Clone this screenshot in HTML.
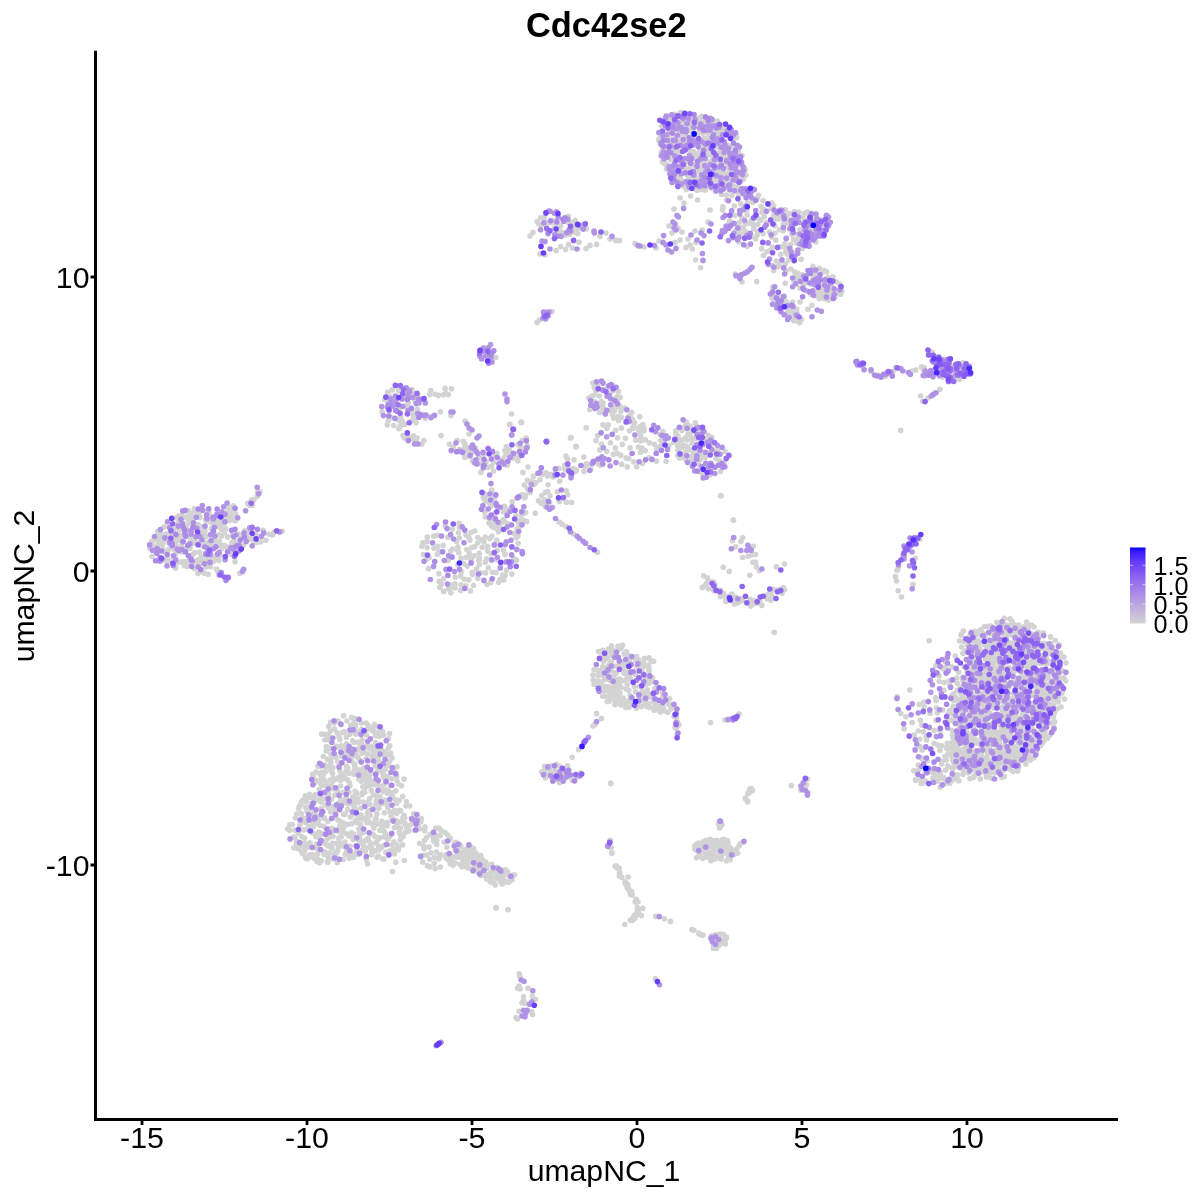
<!DOCTYPE html>
<html lang="en"><head><meta charset="utf-8"><title>Cdc42se2</title>
<style>
html,body{margin:0;padding:0;background:#fff;}
svg{display:block;}
text{font-family:"Liberation Sans",sans-serif;fill:#000;}
.ax{font-size:30.3px;}
.lg{font-size:25.2px;}
.at{font-size:30.2px;}
.ti{font-size:34.4px;font-weight:bold;}
</style></head><body>
<svg width="1200" height="1200" viewBox="0 0 1200 1200">
<rect width="1200" height="1200" fill="#fff"/>
<defs><linearGradient id="lg" x1="0" y1="1" x2="0" y2="0">
<stop offset="0" stop-color="#d3d3d3"/>
<stop offset="0.05" stop-color="#cfcad6"/>
<stop offset="0.1" stop-color="#cac0d9"/>
<stop offset="0.15" stop-color="#c6b7db"/>
<stop offset="0.2" stop-color="#c1aede"/>
<stop offset="0.25" stop-color="#bba5e0"/>
<stop offset="0.3" stop-color="#b69ce3"/>
<stop offset="0.35" stop-color="#b093e5"/>
<stop offset="0.4" stop-color="#aa89e7"/>
<stop offset="0.45" stop-color="#a480ea"/>
<stop offset="0.5" stop-color="#9d77ec"/>
<stop offset="0.55" stop-color="#966eee"/>
<stop offset="0.6" stop-color="#8e65f0"/>
<stop offset="0.65" stop-color="#855bf2"/>
<stop offset="0.7" stop-color="#7c51f4"/>
<stop offset="0.75" stop-color="#7248f6"/>
<stop offset="0.8" stop-color="#673df8"/>
<stop offset="0.85" stop-color="#5932fa"/>
<stop offset="0.9" stop-color="#4926fb"/>
<stop offset="0.95" stop-color="#3318fd"/>
<stop offset="1" stop-color="#0000ff"/>
</linearGradient></defs>
<g id="pts">
<g fill="#d3d3d3">
<circle cx="696.1" cy="177.8" r="2.8"/><circle cx="734.7" cy="134.6" r="2.8"/><circle cx="671.2" cy="120.8" r="2.8"/><circle cx="729.0" cy="167.5" r="2.8"/><circle cx="726.3" cy="157.4" r="2.8"/><circle cx="709.9" cy="148.0" r="2.8"/><circle cx="692.6" cy="165.1" r="2.8"/><circle cx="669.8" cy="131.3" r="2.8"/><circle cx="731.2" cy="180.7" r="2.8"/><circle cx="704.2" cy="161.0" r="2.8"/><circle cx="712.9" cy="123.3" r="2.8"/><circle cx="699.8" cy="150.2" r="2.8"/><circle cx="705.3" cy="189.9" r="2.8"/><circle cx="673.2" cy="173.4" r="2.8"/><circle cx="687.6" cy="129.3" r="2.8"/><circle cx="665.9" cy="164.4" r="2.8"/><circle cx="687.9" cy="175.7" r="2.8"/><circle cx="722.8" cy="125.0" r="2.8"/><circle cx="680.7" cy="134.9" r="2.8"/><circle cx="681.4" cy="145.0" r="2.8"/><circle cx="697.5" cy="126.1" r="2.8"/><circle cx="673.7" cy="149.4" r="2.8"/><circle cx="707.7" cy="174.3" r="2.8"/><circle cx="703.9" cy="167.0" r="2.8"/><circle cx="672.1" cy="168.9" r="2.8"/><circle cx="704.2" cy="138.6" r="2.8"/><circle cx="659.9" cy="138.0" r="2.8"/><circle cx="680.6" cy="112.6" r="2.8"/><circle cx="731.1" cy="146.1" r="2.8"/><circle cx="721.2" cy="162.4" r="2.8"/><circle cx="685.9" cy="140.0" r="2.8"/><circle cx="725.1" cy="164.2" r="2.8"/><circle cx="693.0" cy="137.6" r="2.8"/><circle cx="723.6" cy="176.6" r="2.8"/><circle cx="718.4" cy="134.7" r="2.8"/><circle cx="699.8" cy="120.9" r="2.8"/><circle cx="698.3" cy="132.9" r="2.8"/><circle cx="678.9" cy="183.5" r="2.8"/><circle cx="670.8" cy="139.0" r="2.8"/><circle cx="683.7" cy="186.5" r="2.8"/><circle cx="737.0" cy="176.6" r="2.8"/><circle cx="742.0" cy="155.5" r="2.8"/><circle cx="695.1" cy="153.5" r="2.8"/><circle cx="743.2" cy="179.5" r="2.8"/><circle cx="699.0" cy="155.7" r="2.8"/><circle cx="715.7" cy="135.8" r="2.8"/><circle cx="692.8" cy="129.3" r="2.8"/><circle cx="679.2" cy="131.2" r="2.8"/><circle cx="671.3" cy="143.0" r="2.8"/><circle cx="738.2" cy="182.3" r="2.8"/><circle cx="662.7" cy="149.4" r="2.8"/><circle cx="724.8" cy="183.5" r="2.8"/><circle cx="679.1" cy="149.5" r="2.8"/><circle cx="729.7" cy="170.7" r="2.8"/><circle cx="724.8" cy="179.4" r="2.8"/><circle cx="717.4" cy="121.1" r="2.8"/><circle cx="700.5" cy="177.1" r="2.8"/><circle cx="711.3" cy="161.1" r="2.8"/><circle cx="729.0" cy="155.4" r="2.8"/><circle cx="693.5" cy="155.5" r="2.8"/><circle cx="694.8" cy="134.1" r="2.8"/><circle cx="690.7" cy="127.2" r="2.8"/><circle cx="691.3" cy="151.9" r="2.8"/><circle cx="677.7" cy="143.5" r="2.8"/><circle cx="704.4" cy="142.2" r="2.8"/><circle cx="711.6" cy="155.5" r="2.8"/><circle cx="726.2" cy="174.0" r="2.8"/><circle cx="666.5" cy="146.9" r="2.8"/><circle cx="723.6" cy="173.8" r="2.8"/><circle cx="661.6" cy="126.0" r="2.8"/><circle cx="668.6" cy="154.0" r="2.8"/><circle cx="713.1" cy="146.1" r="2.8"/><circle cx="658.6" cy="139.9" r="2.8"/><circle cx="680.0" cy="123.4" r="2.8"/><circle cx="708.3" cy="139.5" r="2.8"/><circle cx="741.7" cy="170.3" r="2.8"/><circle cx="685.8" cy="135.5" r="2.8"/><circle cx="678.4" cy="119.8" r="2.8"/><circle cx="721.6" cy="132.7" r="2.8"/><circle cx="724.5" cy="187.2" r="2.8"/><circle cx="736.6" cy="137.7" r="2.8"/><circle cx="717.5" cy="190.0" r="2.8"/><circle cx="697.2" cy="169.6" r="2.8"/><circle cx="720.3" cy="170.5" r="2.8"/><circle cx="725.7" cy="127.8" r="2.8"/><circle cx="689.2" cy="168.0" r="2.8"/><circle cx="689.2" cy="178.2" r="2.8"/><circle cx="720.5" cy="151.4" r="2.8"/><circle cx="720.3" cy="174.6" r="2.8"/><circle cx="738.5" cy="151.6" r="2.8"/><circle cx="717.2" cy="170.9" r="2.8"/><circle cx="675.4" cy="135.6" r="2.8"/><circle cx="704.8" cy="124.3" r="2.8"/><circle cx="745.0" cy="169.9" r="2.8"/><circle cx="745.8" cy="175.2" r="2.8"/><circle cx="670.9" cy="159.8" r="2.8"/><circle cx="722.6" cy="182.0" r="2.8"/><circle cx="686.2" cy="161.8" r="2.8"/><circle cx="714.3" cy="131.4" r="2.8"/><circle cx="701.9" cy="189.6" r="2.8"/><circle cx="689.9" cy="115.9" r="2.8"/><circle cx="677.8" cy="175.7" r="2.8"/><circle cx="731.1" cy="176.9" r="2.8"/><circle cx="732.5" cy="139.9" r="2.8"/><circle cx="691.8" cy="131.7" r="2.8"/><circle cx="716.7" cy="131.4" r="2.8"/><circle cx="738.7" cy="174.9" r="2.8"/><circle cx="707.7" cy="132.6" r="2.8"/><circle cx="715.0" cy="162.4" r="2.8"/><circle cx="688.4" cy="180.6" r="2.8"/><circle cx="703.1" cy="133.2" r="2.8"/><circle cx="674.5" cy="114.3" r="2.8"/><circle cx="701.6" cy="116.2" r="2.8"/><circle cx="711.8" cy="183.3" r="2.8"/><circle cx="734.0" cy="176.2" r="2.8"/><circle cx="719.2" cy="184.7" r="2.8"/><circle cx="675.2" cy="126.8" r="2.8"/><circle cx="727.6" cy="145.6" r="2.8"/><circle cx="681.1" cy="139.6" r="2.8"/><circle cx="663.3" cy="123.0" r="2.8"/><circle cx="667.7" cy="137.4" r="2.8"/><circle cx="722.1" cy="127.0" r="2.8"/><circle cx="686.6" cy="183.9" r="2.8"/><circle cx="709.1" cy="122.5" r="2.8"/><circle cx="712.4" cy="151.2" r="2.8"/><circle cx="686.9" cy="168.5" r="2.8"/><circle cx="683.2" cy="121.2" r="2.8"/><circle cx="693.5" cy="187.0" r="2.8"/><circle cx="697.1" cy="190.2" r="2.8"/><circle cx="706.5" cy="185.6" r="2.8"/><circle cx="704.6" cy="146.2" r="2.8"/><circle cx="682.2" cy="148.8" r="2.8"/><circle cx="684.4" cy="144.0" r="2.8"/><circle cx="676.2" cy="168.4" r="2.8"/><circle cx="678.0" cy="152.5" r="2.8"/><circle cx="707.8" cy="150.8" r="2.8"/><circle cx="735.8" cy="146.7" r="2.8"/><circle cx="713.1" cy="179.6" r="2.8"/><circle cx="702.6" cy="188.7" r="2.8"/><circle cx="728.0" cy="181.4" r="2.8"/><circle cx="702.8" cy="147.0" r="2.8"/><circle cx="733.3" cy="178.7" r="2.8"/><circle cx="740.2" cy="173.5" r="2.8"/><circle cx="718.5" cy="153.5" r="2.8"/><circle cx="703.9" cy="120.2" r="2.8"/><circle cx="709.4" cy="144.4" r="2.8"/><circle cx="680.5" cy="114.9" r="2.8"/><circle cx="711.9" cy="188.5" r="2.8"/><circle cx="679.9" cy="142.7" r="2.8"/><circle cx="694.2" cy="116.6" r="2.8"/><circle cx="697.8" cy="178.5" r="2.8"/><circle cx="712.4" cy="128.4" r="2.8"/><circle cx="708.8" cy="136.3" r="2.8"/><circle cx="695.0" cy="164.3" r="2.8"/><circle cx="720.1" cy="143.0" r="2.8"/><circle cx="714.2" cy="147.7" r="2.8"/><circle cx="685.0" cy="182.4" r="2.8"/><circle cx="670.9" cy="156.6" r="2.8"/><circle cx="663.7" cy="133.9" r="2.8"/><circle cx="687.2" cy="149.0" r="2.8"/><circle cx="668.0" cy="150.6" r="2.8"/><circle cx="732.2" cy="171.0" r="2.8"/><circle cx="687.4" cy="126.2" r="2.8"/><circle cx="708.7" cy="161.8" r="2.8"/><circle cx="718.5" cy="160.3" r="2.8"/><circle cx="718.7" cy="147.3" r="2.8"/><circle cx="680.9" cy="119.0" r="2.8"/><circle cx="678.5" cy="157.4" r="2.8"/><circle cx="692.2" cy="122.9" r="2.8"/><circle cx="705.3" cy="188.2" r="2.8"/><circle cx="663.7" cy="138.4" r="2.8"/><circle cx="689.4" cy="122.3" r="2.8"/><circle cx="722.9" cy="155.6" r="2.8"/><circle cx="664.4" cy="150.3" r="2.8"/><circle cx="721.0" cy="128.9" r="2.8"/><circle cx="663.4" cy="144.6" r="2.8"/><circle cx="662.4" cy="161.7" r="2.8"/><circle cx="672.2" cy="122.8" r="2.8"/><circle cx="724.2" cy="132.1" r="2.8"/><circle cx="721.6" cy="172.7" r="2.8"/><circle cx="700.6" cy="164.0" r="2.8"/><circle cx="671.6" cy="125.6" r="2.8"/><circle cx="664.2" cy="163.2" r="2.8"/><circle cx="663.7" cy="156.7" r="2.8"/><circle cx="681.7" cy="146.2" r="2.8"/><circle cx="682.6" cy="125.6" r="2.8"/><circle cx="706.7" cy="155.4" r="2.8"/><circle cx="695.6" cy="189.5" r="2.8"/><circle cx="686.4" cy="189.4" r="2.8"/><circle cx="718.5" cy="137.2" r="2.8"/><circle cx="700.4" cy="169.3" r="2.8"/><circle cx="673.7" cy="177.4" r="2.8"/><circle cx="692.2" cy="178.2" r="2.8"/><circle cx="698.6" cy="118.4" r="2.8"/><circle cx="676.2" cy="157.2" r="2.8"/><circle cx="714.9" cy="180.3" r="2.8"/><circle cx="728.8" cy="161.0" r="2.8"/><circle cx="744.7" cy="168.5" r="2.8"/><circle cx="687.6" cy="117.1" r="2.8"/><circle cx="718.8" cy="155.8" r="2.8"/><circle cx="725.3" cy="156.7" r="2.8"/><circle cx="695.5" cy="158.3" r="2.8"/><circle cx="706.1" cy="141.4" r="2.8"/><circle cx="684.3" cy="168.4" r="2.8"/><circle cx="667.3" cy="119.0" r="2.8"/><circle cx="678.2" cy="155.2" r="2.8"/><circle cx="723.1" cy="145.9" r="2.8"/><circle cx="666.2" cy="122.6" r="2.8"/><circle cx="661.3" cy="152.6" r="2.8"/><circle cx="671.6" cy="118.9" r="2.8"/><circle cx="672.9" cy="154.4" r="2.8"/><circle cx="679.7" cy="181.4" r="2.8"/><circle cx="680.1" cy="170.3" r="2.8"/><circle cx="701.0" cy="151.3" r="2.8"/><circle cx="666.5" cy="169.0" r="2.8"/><circle cx="710.8" cy="146.3" r="2.8"/><circle cx="735.8" cy="135.4" r="2.8"/><circle cx="680.7" cy="178.7" r="2.8"/><circle cx="728.9" cy="166.2" r="2.8"/><circle cx="717.1" cy="176.2" r="2.8"/><circle cx="693.4" cy="151.5" r="2.8"/><circle cx="737.8" cy="164.9" r="2.8"/><circle cx="714.5" cy="141.5" r="2.8"/><circle cx="698.1" cy="171.7" r="2.8"/><circle cx="721.4" cy="166.8" r="2.8"/><circle cx="684.8" cy="142.1" r="2.8"/><circle cx="693.4" cy="142.3" r="2.8"/><circle cx="757.8" cy="224.5" r="2.8"/><circle cx="743.2" cy="207.6" r="2.8"/><circle cx="767.0" cy="222.5" r="2.8"/><circle cx="740.4" cy="228.8" r="2.8"/><circle cx="752.8" cy="202.4" r="2.8"/><circle cx="758.5" cy="195.2" r="2.8"/><circle cx="763.1" cy="233.6" r="2.8"/><circle cx="772.7" cy="218.2" r="2.8"/><circle cx="734.3" cy="206.0" r="2.8"/><circle cx="721.5" cy="194.5" r="2.8"/><circle cx="726.6" cy="200.1" r="2.8"/><circle cx="739.2" cy="222.7" r="2.8"/><circle cx="722.6" cy="210.1" r="2.8"/><circle cx="747.5" cy="202.9" r="2.8"/><circle cx="771.5" cy="208.6" r="2.8"/><circle cx="758.7" cy="219.0" r="2.8"/><circle cx="751.4" cy="236.6" r="2.8"/><circle cx="742.0" cy="218.4" r="2.8"/><circle cx="740.7" cy="203.7" r="2.8"/><circle cx="755.7" cy="239.0" r="2.8"/><circle cx="747.3" cy="246.2" r="2.8"/><circle cx="722.4" cy="188.7" r="2.8"/><circle cx="728.4" cy="224.2" r="2.8"/><circle cx="737.9" cy="187.2" r="2.8"/><circle cx="763.1" cy="200.6" r="2.8"/><circle cx="738.9" cy="241.8" r="2.8"/><circle cx="734.8" cy="215.5" r="2.8"/><circle cx="746.9" cy="209.6" r="2.8"/><circle cx="745.7" cy="231.7" r="2.8"/><circle cx="739.2" cy="233.3" r="2.8"/><circle cx="753.9" cy="229.0" r="2.8"/><circle cx="761.2" cy="206.5" r="2.8"/><circle cx="751.3" cy="220.6" r="2.8"/><circle cx="737.4" cy="225.5" r="2.8"/><circle cx="726.5" cy="195.0" r="2.8"/><circle cx="722.9" cy="206.9" r="2.8"/><circle cx="747.2" cy="214.9" r="2.8"/><circle cx="752.8" cy="219.8" r="2.8"/><circle cx="771.0" cy="205.5" r="2.8"/><circle cx="757.0" cy="198.3" r="2.8"/><circle cx="745.8" cy="223.6" r="2.8"/><circle cx="764.2" cy="216.8" r="2.8"/><circle cx="749.4" cy="223.3" r="2.8"/><circle cx="761.9" cy="212.2" r="2.8"/><circle cx="732.0" cy="195.4" r="2.8"/><circle cx="739.0" cy="194.8" r="2.8"/><circle cx="753.4" cy="188.9" r="2.8"/><circle cx="743.3" cy="227.6" r="2.8"/><circle cx="729.8" cy="220.8" r="2.8"/><circle cx="760.9" cy="220.3" r="2.8"/><circle cx="733.2" cy="185.9" r="2.8"/><circle cx="757.2" cy="235.1" r="2.8"/><circle cx="743.3" cy="234.3" r="2.8"/><circle cx="753.4" cy="224.7" r="2.8"/><circle cx="758.0" cy="231.5" r="2.8"/><circle cx="739.7" cy="192.7" r="2.8"/><circle cx="771.7" cy="202.7" r="2.8"/><circle cx="734.9" cy="187.7" r="2.8"/><circle cx="736.1" cy="230.6" r="2.8"/><circle cx="763.8" cy="209.5" r="2.8"/><circle cx="785.2" cy="209.9" r="2.8"/><circle cx="800.0" cy="229.8" r="2.8"/><circle cx="804.4" cy="213.4" r="2.8"/><circle cx="776.3" cy="219.0" r="2.8"/><circle cx="788.4" cy="223.6" r="2.8"/><circle cx="807.7" cy="220.2" r="2.8"/><circle cx="809.1" cy="225.0" r="2.8"/><circle cx="803.2" cy="223.3" r="2.8"/><circle cx="773.7" cy="205.8" r="2.8"/><circle cx="789.8" cy="213.5" r="2.8"/><circle cx="794.5" cy="211.6" r="2.8"/><circle cx="793.8" cy="220.8" r="2.8"/><circle cx="802.8" cy="217.4" r="2.8"/><circle cx="798.8" cy="212.3" r="2.8"/><circle cx="809.5" cy="215.9" r="2.8"/><circle cx="779.2" cy="214.3" r="2.8"/><circle cx="809.0" cy="244.1" r="2.8"/><circle cx="773.6" cy="215.5" r="2.8"/><circle cx="807.6" cy="212.0" r="2.8"/><circle cx="780.4" cy="209.5" r="2.8"/><circle cx="782.6" cy="213.8" r="2.8"/><circle cx="807.2" cy="235.2" r="2.8"/><circle cx="778.7" cy="218.7" r="2.8"/><circle cx="797.9" cy="239.0" r="2.8"/><circle cx="786.5" cy="220.9" r="2.8"/><circle cx="783.4" cy="224.4" r="2.8"/><circle cx="799.9" cy="239.8" r="2.8"/><circle cx="781.2" cy="218.7" r="2.8"/><circle cx="808.0" cy="226.7" r="2.8"/><circle cx="785.3" cy="221.1" r="2.8"/><circle cx="787.3" cy="215.3" r="2.8"/><circle cx="794.0" cy="217.9" r="2.8"/><circle cx="803.6" cy="239.5" r="2.8"/><circle cx="798.1" cy="219.3" r="2.8"/><circle cx="797.7" cy="234.5" r="2.8"/><circle cx="810.8" cy="238.8" r="2.8"/><circle cx="814.3" cy="215.5" r="2.8"/><circle cx="819.7" cy="219.5" r="2.8"/><circle cx="803.6" cy="243.6" r="2.8"/><circle cx="822.3" cy="225.4" r="2.8"/><circle cx="827.0" cy="227.7" r="2.8"/><circle cx="810.1" cy="230.1" r="2.8"/><circle cx="802.2" cy="248.5" r="2.8"/><circle cx="813.9" cy="217.4" r="2.8"/><circle cx="801.6" cy="239.0" r="2.8"/><circle cx="812.1" cy="215.2" r="2.8"/><circle cx="813.5" cy="232.5" r="2.8"/><circle cx="824.6" cy="232.4" r="2.8"/><circle cx="807.4" cy="241.3" r="2.8"/><circle cx="811.1" cy="231.0" r="2.8"/><circle cx="815.8" cy="241.9" r="2.8"/><circle cx="761.6" cy="248.8" r="2.8"/><circle cx="796.7" cy="243.1" r="2.8"/><circle cx="775.0" cy="233.1" r="2.8"/><circle cx="791.9" cy="234.3" r="2.8"/><circle cx="772.5" cy="247.2" r="2.8"/><circle cx="772.1" cy="265.5" r="2.8"/><circle cx="785.8" cy="251.9" r="2.8"/><circle cx="801.2" cy="259.3" r="2.8"/><circle cx="793.6" cy="239.2" r="2.8"/><circle cx="776.2" cy="261.0" r="2.8"/><circle cx="771.7" cy="236.9" r="2.8"/><circle cx="783.3" cy="230.8" r="2.8"/><circle cx="774.8" cy="225.8" r="2.8"/><circle cx="785.4" cy="263.7" r="2.8"/><circle cx="788.5" cy="260.1" r="2.8"/><circle cx="766.6" cy="251.7" r="2.8"/><circle cx="779.1" cy="264.6" r="2.8"/><circle cx="784.9" cy="243.6" r="2.8"/><circle cx="790.7" cy="244.3" r="2.8"/><circle cx="780.7" cy="254.3" r="2.8"/><circle cx="779.5" cy="229.8" r="2.8"/><circle cx="769.5" cy="232.0" r="2.8"/><circle cx="786.1" cy="270.9" r="2.8"/><circle cx="785.3" cy="247.2" r="2.8"/><circle cx="775.7" cy="240.1" r="2.8"/><circle cx="787.3" cy="254.1" r="2.8"/><circle cx="763.4" cy="255.5" r="2.8"/><circle cx="790.8" cy="269.0" r="2.8"/><circle cx="777.9" cy="266.7" r="2.8"/><circle cx="780.9" cy="246.7" r="2.8"/><circle cx="794.5" cy="253.6" r="2.8"/><circle cx="773.7" cy="270.4" r="2.8"/><circle cx="770.1" cy="250.5" r="2.8"/><circle cx="807.2" cy="290.9" r="2.8"/><circle cx="835.0" cy="297.1" r="2.8"/><circle cx="802.8" cy="274.7" r="2.8"/><circle cx="819.2" cy="289.8" r="2.8"/><circle cx="831.4" cy="286.2" r="2.8"/><circle cx="794.2" cy="281.5" r="2.8"/><circle cx="813.1" cy="276.7" r="2.8"/><circle cx="826.5" cy="271.9" r="2.8"/><circle cx="817.3" cy="295.9" r="2.8"/><circle cx="798.3" cy="278.3" r="2.8"/><circle cx="804.5" cy="283.4" r="2.8"/><circle cx="824.3" cy="270.6" r="2.8"/><circle cx="818.7" cy="275.3" r="2.8"/><circle cx="835.5" cy="291.2" r="2.8"/><circle cx="800.0" cy="288.0" r="2.8"/><circle cx="837.8" cy="292.9" r="2.8"/><circle cx="819.6" cy="268.3" r="2.8"/><circle cx="811.1" cy="294.3" r="2.8"/><circle cx="817.4" cy="292.8" r="2.8"/><circle cx="830.2" cy="291.2" r="2.8"/><circle cx="824.6" cy="298.7" r="2.8"/><circle cx="836.3" cy="281.8" r="2.8"/><circle cx="831.1" cy="279.3" r="2.8"/><circle cx="821.9" cy="272.2" r="2.8"/><circle cx="830.4" cy="288.4" r="2.8"/><circle cx="812.9" cy="266.2" r="2.8"/><circle cx="794.4" cy="271.8" r="2.8"/><circle cx="829.7" cy="294.6" r="2.8"/><circle cx="824.4" cy="293.3" r="2.8"/><circle cx="795.7" cy="275.4" r="2.8"/><circle cx="814.4" cy="274.1" r="2.8"/><circle cx="839.8" cy="284.3" r="2.8"/><circle cx="830.1" cy="298.5" r="2.8"/><circle cx="797.9" cy="273.4" r="2.8"/><circle cx="798.9" cy="274.9" r="2.8"/><circle cx="840.7" cy="294.3" r="2.8"/><circle cx="823.4" cy="286.8" r="2.8"/><circle cx="821.0" cy="286.8" r="2.8"/><circle cx="822.4" cy="292.2" r="2.8"/><circle cx="841.7" cy="291.2" r="2.8"/><circle cx="823.5" cy="291.2" r="2.8"/><circle cx="803.4" cy="284.3" r="2.8"/><circle cx="833.1" cy="276.8" r="2.8"/><circle cx="811.5" cy="284.2" r="2.8"/><circle cx="827.9" cy="277.6" r="2.8"/><circle cx="828.5" cy="280.2" r="2.8"/><circle cx="816.3" cy="275.1" r="2.8"/><circle cx="824.8" cy="282.8" r="2.8"/><circle cx="828.4" cy="300.1" r="2.8"/><circle cx="822.5" cy="297.1" r="2.8"/><circle cx="812.0" cy="280.5" r="2.8"/><circle cx="818.3" cy="278.1" r="2.8"/><circle cx="820.1" cy="294.3" r="2.8"/><circle cx="816.7" cy="282.5" r="2.8"/><circle cx="825.7" cy="278.9" r="2.8"/><circle cx="819.3" cy="298.8" r="2.8"/><circle cx="841.0" cy="287.9" r="2.8"/><circle cx="786.7" cy="302.3" r="2.8"/><circle cx="792.0" cy="312.5" r="2.8"/><circle cx="774.3" cy="301.3" r="2.8"/><circle cx="797.1" cy="313.2" r="2.8"/><circle cx="799.5" cy="322.6" r="2.8"/><circle cx="772.1" cy="297.9" r="2.8"/><circle cx="793.9" cy="320.8" r="2.8"/><circle cx="773.9" cy="296.2" r="2.8"/><circle cx="781.4" cy="306.2" r="2.8"/><circle cx="777.4" cy="299.6" r="2.8"/><circle cx="787.9" cy="308.6" r="2.8"/><circle cx="784.2" cy="299.0" r="2.8"/><circle cx="796.8" cy="309.2" r="2.8"/><circle cx="790.4" cy="309.2" r="2.8"/><circle cx="783.2" cy="302.8" r="2.8"/><circle cx="772.7" cy="287.1" r="2.8"/><circle cx="790.7" cy="316.2" r="2.8"/><circle cx="794.4" cy="318.8" r="2.8"/><circle cx="796.5" cy="320.5" r="2.8"/><circle cx="787.3" cy="312.5" r="2.8"/><circle cx="780.6" cy="297.5" r="2.8"/><circle cx="788.6" cy="314.3" r="2.8"/><circle cx="801.5" cy="319.3" r="2.8"/><circle cx="777.0" cy="303.2" r="2.8"/><circle cx="808.0" cy="309.3" r="2.8"/><circle cx="812.0" cy="305.3" r="2.8"/><circle cx="800.0" cy="302.0" r="2.8"/><circle cx="792.7" cy="302.0" r="2.8"/><circle cx="785.3" cy="283.3" r="2.8"/><circle cx="742.0" cy="282.0" r="2.8"/><circle cx="756.7" cy="281.6" r="2.8"/><circle cx="735.3" cy="274.0" r="2.8"/><circle cx="635.0" cy="243.6" r="2.8"/><circle cx="644.0" cy="247.0" r="2.8"/><circle cx="656.0" cy="248.0" r="2.8"/><circle cx="659.0" cy="241.0" r="2.8"/><circle cx="675.0" cy="242.4" r="2.8"/><circle cx="680.0" cy="240.0" r="2.8"/><circle cx="686.0" cy="247.6" r="2.8"/><circle cx="690.0" cy="245.0" r="2.8"/><circle cx="692.4" cy="249.0" r="2.8"/><circle cx="696.0" cy="242.4" r="2.8"/><circle cx="688.0" cy="239.0" r="2.8"/><circle cx="695.0" cy="231.0" r="2.8"/><circle cx="702.0" cy="230.0" r="2.8"/><circle cx="672.0" cy="233.0" r="2.8"/><circle cx="678.0" cy="228.0" r="2.8"/><circle cx="682.0" cy="232.0" r="2.8"/><circle cx="669.0" cy="226.0" r="2.8"/><circle cx="695.6" cy="260.0" r="2.8"/><circle cx="700.6" cy="267.6" r="2.8"/><circle cx="674.0" cy="209.0" r="2.8"/><circle cx="680.0" cy="198.0" r="2.8"/><circle cx="684.0" cy="203.0" r="2.8"/><circle cx="690.6" cy="196.0" r="2.8"/><circle cx="697.6" cy="200.0" r="2.8"/><circle cx="710.0" cy="210.0" r="2.8"/><circle cx="708.0" cy="222.0" r="2.8"/><circle cx="537.0" cy="221.5" r="2.8"/><circle cx="553.9" cy="220.7" r="2.8"/><circle cx="577.8" cy="233.4" r="2.8"/><circle cx="557.7" cy="232.5" r="2.8"/><circle cx="544.5" cy="217.4" r="2.8"/><circle cx="545.8" cy="225.4" r="2.8"/><circle cx="559.9" cy="226.7" r="2.8"/><circle cx="541.1" cy="224.9" r="2.8"/><circle cx="556.4" cy="224.8" r="2.8"/><circle cx="540.6" cy="217.7" r="2.8"/><circle cx="574.5" cy="222.2" r="2.8"/><circle cx="576.5" cy="228.4" r="2.8"/><circle cx="561.6" cy="232.1" r="2.8"/><circle cx="567.9" cy="222.4" r="2.8"/><circle cx="583.4" cy="224.3" r="2.8"/><circle cx="538.7" cy="223.7" r="2.8"/><circle cx="575.0" cy="220.6" r="2.8"/><circle cx="565.1" cy="235.2" r="2.8"/><circle cx="580.6" cy="228.0" r="2.8"/><circle cx="551.2" cy="222.7" r="2.8"/><circle cx="568.1" cy="216.3" r="2.8"/><circle cx="569.7" cy="234.5" r="2.8"/><circle cx="554.3" cy="228.6" r="2.8"/><circle cx="574.1" cy="228.5" r="2.8"/><circle cx="560.6" cy="225.9" r="2.8"/><circle cx="575.2" cy="232.3" r="2.8"/><circle cx="576.9" cy="226.3" r="2.8"/><circle cx="586.3" cy="228.8" r="2.8"/><circle cx="571.0" cy="223.6" r="2.8"/><circle cx="561.3" cy="234.3" r="2.8"/><circle cx="547.0" cy="222.7" r="2.8"/><circle cx="572.8" cy="222.4" r="2.8"/><circle cx="600.0" cy="236.4" r="2.8"/><circle cx="606.0" cy="233.0" r="2.8"/><circle cx="610.0" cy="239.0" r="2.8"/><circle cx="616.0" cy="240.4" r="2.8"/><circle cx="619.4" cy="240.6" r="2.8"/><circle cx="530.0" cy="236.0" r="2.8"/><circle cx="533.0" cy="232.4" r="2.8"/><circle cx="556.0" cy="250.6" r="2.8"/><circle cx="560.6" cy="246.6" r="2.8"/><circle cx="565.6" cy="249.4" r="2.8"/><circle cx="568.6" cy="244.4" r="2.8"/><circle cx="572.4" cy="248.0" r="2.8"/><circle cx="579.0" cy="242.4" r="2.8"/><circle cx="586.0" cy="248.6" r="2.8"/><circle cx="590.0" cy="245.4" r="2.8"/><circle cx="596.6" cy="244.4" r="2.8"/><circle cx="540.0" cy="254.0" r="2.8"/><circle cx="545.0" cy="255.0" r="2.8"/><circle cx="537.0" cy="322.4" r="2.8"/><circle cx="539.6" cy="320.0" r="2.8"/><circle cx="552.0" cy="311.6" r="2.8"/><circle cx="878.4" cy="375.2" r="2.8"/><circle cx="882.8" cy="375.3" r="2.8"/><circle cx="871.3" cy="371.5" r="2.8"/><circle cx="885.5" cy="375.5" r="2.8"/><circle cx="892.9" cy="371.9" r="2.8"/><circle cx="863.1" cy="366.0" r="2.8"/><circle cx="885.3" cy="376.5" r="2.8"/><circle cx="862.3" cy="366.3" r="2.8"/><circle cx="890.2" cy="373.4" r="2.8"/><circle cx="895.8" cy="367.6" r="2.8"/><circle cx="921.5" cy="366.9" r="2.8"/><circle cx="912.1" cy="371.1" r="2.8"/><circle cx="924.2" cy="367.5" r="2.8"/><circle cx="923.5" cy="370.1" r="2.8"/><circle cx="915.8" cy="370.0" r="2.8"/><circle cx="926.5" cy="374.2" r="2.8"/><circle cx="962.6" cy="362.8" r="2.8"/><circle cx="954.5" cy="378.4" r="2.8"/><circle cx="953.2" cy="366.1" r="2.8"/><circle cx="964.4" cy="372.1" r="2.8"/><circle cx="944.0" cy="369.9" r="2.8"/><circle cx="942.3" cy="377.1" r="2.8"/><circle cx="942.4" cy="367.3" r="2.8"/><circle cx="934.2" cy="369.9" r="2.8"/><circle cx="944.8" cy="359.3" r="2.8"/><circle cx="959.7" cy="370.3" r="2.8"/><circle cx="935.3" cy="362.4" r="2.8"/><circle cx="948.9" cy="374.1" r="2.8"/><circle cx="959.4" cy="379.5" r="2.8"/><circle cx="966.4" cy="369.0" r="2.8"/><circle cx="932.0" cy="352.0" r="2.8"/><circle cx="940.0" cy="389.3" r="2.8"/><circle cx="928.0" cy="398.0" r="2.8"/><circle cx="920.7" cy="396.0" r="2.8"/><circle cx="922.7" cy="401.3" r="2.8"/><circle cx="900.7" cy="430.4" r="2.8"/><circle cx="495.8" cy="357.5" r="2.8"/><circle cx="417.7" cy="395.8" r="2.8"/><circle cx="408.2" cy="403.1" r="2.8"/><circle cx="392.1" cy="389.9" r="2.8"/><circle cx="398.7" cy="390.8" r="2.8"/><circle cx="387.5" cy="392.2" r="2.8"/><circle cx="417.4" cy="409.4" r="2.8"/><circle cx="384.8" cy="399.5" r="2.8"/><circle cx="399.5" cy="388.3" r="2.8"/><circle cx="415.0" cy="400.5" r="2.8"/><circle cx="389.2" cy="396.0" r="2.8"/><circle cx="399.1" cy="408.4" r="2.8"/><circle cx="404.2" cy="391.8" r="2.8"/><circle cx="406.0" cy="406.5" r="2.8"/><circle cx="412.0" cy="389.6" r="2.8"/><circle cx="387.3" cy="398.0" r="2.8"/><circle cx="414.2" cy="394.4" r="2.8"/><circle cx="394.1" cy="398.5" r="2.8"/><circle cx="404.7" cy="398.3" r="2.8"/><circle cx="448.2" cy="394.6" r="2.8"/><circle cx="438.5" cy="395.4" r="2.8"/><circle cx="430.8" cy="390.6" r="2.8"/><circle cx="445.8" cy="393.2" r="2.8"/><circle cx="435.1" cy="394.2" r="2.8"/><circle cx="445.1" cy="388.4" r="2.8"/><circle cx="429.8" cy="394.6" r="2.8"/><circle cx="443.4" cy="394.7" r="2.8"/><circle cx="451.4" cy="388.8" r="2.8"/><circle cx="382.2" cy="411.7" r="2.8"/><circle cx="417.1" cy="438.0" r="2.8"/><circle cx="387.3" cy="424.9" r="2.8"/><circle cx="404.7" cy="424.2" r="2.8"/><circle cx="423.9" cy="440.6" r="2.8"/><circle cx="389.4" cy="411.1" r="2.8"/><circle cx="413.3" cy="435.9" r="2.8"/><circle cx="393.7" cy="425.5" r="2.8"/><circle cx="412.9" cy="412.0" r="2.8"/><circle cx="415.8" cy="441.3" r="2.8"/><circle cx="411.9" cy="420.7" r="2.8"/><circle cx="398.8" cy="428.8" r="2.8"/><circle cx="416.0" cy="422.7" r="2.8"/><circle cx="388.4" cy="420.3" r="2.8"/><circle cx="399.2" cy="420.5" r="2.8"/><circle cx="400.8" cy="417.6" r="2.8"/><circle cx="390.8" cy="417.3" r="2.8"/><circle cx="403.0" cy="435.6" r="2.8"/><circle cx="412.6" cy="438.7" r="2.8"/><circle cx="413.2" cy="415.2" r="2.8"/><circle cx="405.9" cy="435.9" r="2.8"/><circle cx="425.4" cy="418.2" r="2.8"/><circle cx="421.8" cy="444.1" r="2.8"/><circle cx="409.8" cy="437.6" r="2.8"/><circle cx="400.3" cy="425.9" r="2.8"/><circle cx="416.3" cy="417.9" r="2.8"/><circle cx="404.4" cy="437.9" r="2.8"/><circle cx="402.1" cy="421.3" r="2.8"/><circle cx="450.9" cy="415.6" r="2.8"/><circle cx="418.9" cy="416.3" r="2.8"/><circle cx="420.1" cy="414.7" r="2.8"/><circle cx="440.3" cy="411.8" r="2.8"/><circle cx="413.7" cy="417.7" r="2.8"/><circle cx="421.8" cy="414.0" r="2.8"/><circle cx="431.2" cy="416.8" r="2.8"/><circle cx="421.0" cy="415.3" r="2.8"/><circle cx="441.0" cy="435.6" r="2.8"/><circle cx="469.0" cy="434.0" r="2.8"/><circle cx="465.0" cy="421.0" r="2.8"/><circle cx="511.6" cy="414.0" r="2.8"/><circle cx="509.6" cy="424.4" r="2.8"/><circle cx="521.6" cy="422.4" r="2.8"/><circle cx="571.0" cy="437.6" r="2.8"/><circle cx="576.0" cy="446.4" r="2.8"/><circle cx="481.0" cy="472.4" r="2.8"/><circle cx="493.6" cy="471.0" r="2.8"/><circle cx="492.0" cy="490.0" r="2.8"/><circle cx="528.0" cy="467.0" r="2.8"/><circle cx="523.0" cy="472.4" r="2.8"/><circle cx="513.0" cy="458.1" r="2.8"/><circle cx="459.5" cy="449.5" r="2.8"/><circle cx="475.4" cy="448.1" r="2.8"/><circle cx="464.7" cy="457.2" r="2.8"/><circle cx="496.8" cy="453.2" r="2.8"/><circle cx="504.8" cy="450.5" r="2.8"/><circle cx="449.4" cy="444.2" r="2.8"/><circle cx="527.0" cy="445.5" r="2.8"/><circle cx="491.3" cy="466.3" r="2.8"/><circle cx="464.9" cy="443.9" r="2.8"/><circle cx="478.8" cy="457.6" r="2.8"/><circle cx="469.3" cy="452.6" r="2.8"/><circle cx="466.4" cy="450.6" r="2.8"/><circle cx="517.9" cy="444.6" r="2.8"/><circle cx="472.5" cy="460.9" r="2.8"/><circle cx="453.3" cy="447.4" r="2.8"/><circle cx="457.2" cy="440.6" r="2.8"/><circle cx="507.3" cy="465.2" r="2.8"/><circle cx="463.2" cy="441.4" r="2.8"/><circle cx="486.2" cy="461.8" r="2.8"/><circle cx="509.3" cy="450.1" r="2.8"/><circle cx="487.7" cy="467.4" r="2.8"/><circle cx="468.1" cy="456.1" r="2.8"/><circle cx="518.8" cy="456.7" r="2.8"/><circle cx="525.2" cy="447.9" r="2.8"/><circle cx="483.3" cy="455.8" r="2.8"/><circle cx="479.8" cy="463.3" r="2.8"/><circle cx="520.8" cy="447.9" r="2.8"/><circle cx="473.1" cy="451.6" r="2.8"/><circle cx="466.9" cy="447.5" r="2.8"/><circle cx="493.5" cy="462.3" r="2.8"/><circle cx="516.8" cy="454.5" r="2.8"/><circle cx="505.6" cy="455.2" r="2.8"/><circle cx="502.8" cy="459.1" r="2.8"/><circle cx="508.6" cy="453.2" r="2.8"/><circle cx="506.4" cy="446.7" r="2.8"/><circle cx="517.8" cy="453.6" r="2.8"/><circle cx="517.8" cy="460.8" r="2.8"/><circle cx="464.7" cy="447.6" r="2.8"/><circle cx="495.0" cy="454.9" r="2.8"/><circle cx="491.5" cy="490.7" r="2.8"/><circle cx="503.4" cy="519.5" r="2.8"/><circle cx="488.1" cy="501.9" r="2.8"/><circle cx="526.7" cy="521.6" r="2.8"/><circle cx="503.3" cy="511.7" r="2.8"/><circle cx="504.3" cy="506.2" r="2.8"/><circle cx="521.2" cy="514.9" r="2.8"/><circle cx="485.3" cy="517.0" r="2.8"/><circle cx="492.0" cy="504.7" r="2.8"/><circle cx="488.9" cy="522.7" r="2.8"/><circle cx="483.3" cy="497.4" r="2.8"/><circle cx="494.4" cy="498.0" r="2.8"/><circle cx="506.2" cy="509.1" r="2.8"/><circle cx="508.3" cy="523.9" r="2.8"/><circle cx="519.2" cy="526.9" r="2.8"/><circle cx="520.8" cy="520.0" r="2.8"/><circle cx="535.3" cy="513.3" r="2.8"/><circle cx="495.8" cy="527.8" r="2.8"/><circle cx="518.9" cy="523.3" r="2.8"/><circle cx="490.4" cy="506.3" r="2.8"/><circle cx="491.7" cy="521.2" r="2.8"/><circle cx="495.0" cy="513.5" r="2.8"/><circle cx="500.0" cy="527.1" r="2.8"/><circle cx="484.7" cy="493.8" r="2.8"/><circle cx="502.0" cy="521.9" r="2.8"/><circle cx="525.6" cy="512.6" r="2.8"/><circle cx="523.8" cy="520.4" r="2.8"/><circle cx="486.2" cy="496.1" r="2.8"/><circle cx="485.0" cy="500.9" r="2.8"/><circle cx="517.4" cy="520.6" r="2.8"/><circle cx="515.9" cy="516.1" r="2.8"/><circle cx="517.2" cy="529.0" r="2.8"/><circle cx="492.9" cy="523.3" r="2.8"/><circle cx="484.8" cy="512.2" r="2.8"/><circle cx="492.3" cy="526.6" r="2.8"/><circle cx="504.7" cy="521.8" r="2.8"/><circle cx="491.3" cy="525.4" r="2.8"/><circle cx="523.6" cy="513.2" r="2.8"/><circle cx="507.7" cy="512.7" r="2.8"/><circle cx="437.6" cy="546.4" r="2.8"/><circle cx="470.4" cy="590.9" r="2.8"/><circle cx="506.4" cy="570.4" r="2.8"/><circle cx="423.5" cy="554.6" r="2.8"/><circle cx="496.6" cy="540.4" r="2.8"/><circle cx="439.1" cy="581.2" r="2.8"/><circle cx="498.7" cy="582.3" r="2.8"/><circle cx="505.0" cy="554.6" r="2.8"/><circle cx="466.8" cy="549.5" r="2.8"/><circle cx="474.4" cy="555.8" r="2.8"/><circle cx="456.6" cy="541.4" r="2.8"/><circle cx="454.9" cy="583.7" r="2.8"/><circle cx="496.1" cy="572.6" r="2.8"/><circle cx="469.2" cy="552.7" r="2.8"/><circle cx="438.8" cy="573.6" r="2.8"/><circle cx="491.9" cy="536.0" r="2.8"/><circle cx="466.0" cy="534.8" r="2.8"/><circle cx="518.1" cy="543.3" r="2.8"/><circle cx="477.8" cy="537.6" r="2.8"/><circle cx="488.4" cy="567.7" r="2.8"/><circle cx="494.4" cy="527.8" r="2.8"/><circle cx="441.4" cy="583.9" r="2.8"/><circle cx="434.0" cy="548.3" r="2.8"/><circle cx="498.4" cy="531.7" r="2.8"/><circle cx="487.2" cy="584.5" r="2.8"/><circle cx="458.5" cy="532.7" r="2.8"/><circle cx="460.6" cy="590.6" r="2.8"/><circle cx="486.8" cy="558.9" r="2.8"/><circle cx="459.4" cy="527.4" r="2.8"/><circle cx="474.8" cy="546.6" r="2.8"/><circle cx="511.8" cy="574.1" r="2.8"/><circle cx="463.6" cy="563.6" r="2.8"/><circle cx="464.3" cy="579.3" r="2.8"/><circle cx="421.9" cy="546.5" r="2.8"/><circle cx="450.7" cy="551.1" r="2.8"/><circle cx="479.3" cy="553.3" r="2.8"/><circle cx="457.9" cy="546.7" r="2.8"/><circle cx="428.4" cy="568.8" r="2.8"/><circle cx="460.9" cy="584.8" r="2.8"/><circle cx="433.7" cy="536.1" r="2.8"/><circle cx="457.9" cy="565.0" r="2.8"/><circle cx="458.8" cy="553.0" r="2.8"/><circle cx="477.8" cy="578.2" r="2.8"/><circle cx="487.7" cy="546.6" r="2.8"/><circle cx="455.2" cy="577.2" r="2.8"/><circle cx="514.0" cy="533.5" r="2.8"/><circle cx="450.9" cy="592.8" r="2.8"/><circle cx="485.6" cy="572.9" r="2.8"/><circle cx="468.8" cy="579.9" r="2.8"/><circle cx="479.4" cy="564.7" r="2.8"/><circle cx="422.9" cy="542.9" r="2.8"/><circle cx="470.1" cy="555.7" r="2.8"/><circle cx="518.0" cy="536.1" r="2.8"/><circle cx="471.0" cy="532.5" r="2.8"/><circle cx="455.0" cy="587.8" r="2.8"/><circle cx="484.1" cy="541.9" r="2.8"/><circle cx="481.8" cy="539.9" r="2.8"/><circle cx="473.6" cy="585.5" r="2.8"/><circle cx="503.8" cy="580.0" r="2.8"/><circle cx="500.5" cy="565.0" r="2.8"/><circle cx="482.1" cy="547.2" r="2.8"/><circle cx="516.6" cy="560.1" r="2.8"/><circle cx="487.6" cy="551.1" r="2.8"/><circle cx="469.9" cy="539.9" r="2.8"/><circle cx="490.7" cy="582.4" r="2.8"/><circle cx="448.2" cy="560.6" r="2.8"/><circle cx="505.1" cy="575.5" r="2.8"/><circle cx="472.2" cy="572.2" r="2.8"/><circle cx="437.4" cy="554.3" r="2.8"/><circle cx="459.1" cy="523.4" r="2.8"/><circle cx="476.5" cy="569.1" r="2.8"/><circle cx="460.7" cy="576.1" r="2.8"/><circle cx="474.7" cy="531.0" r="2.8"/><circle cx="443.5" cy="578.8" r="2.8"/><circle cx="449.9" cy="584.9" r="2.8"/><circle cx="427.1" cy="547.6" r="2.8"/><circle cx="497.2" cy="550.2" r="2.8"/><circle cx="443.1" cy="545.4" r="2.8"/><circle cx="503.4" cy="550.4" r="2.8"/><circle cx="426.7" cy="559.2" r="2.8"/><circle cx="443.7" cy="591.4" r="2.8"/><circle cx="461.1" cy="558.2" r="2.8"/><circle cx="427.0" cy="541.4" r="2.8"/><circle cx="477.7" cy="543.0" r="2.8"/><circle cx="485.2" cy="537.1" r="2.8"/><circle cx="439.8" cy="587.3" r="2.8"/><circle cx="471.8" cy="547.5" r="2.8"/><circle cx="452.6" cy="549.1" r="2.8"/><circle cx="479.5" cy="558.4" r="2.8"/><circle cx="497.3" cy="560.0" r="2.8"/><circle cx="472.6" cy="574.5" r="2.8"/><circle cx="467.2" cy="566.1" r="2.8"/><circle cx="429.1" cy="557.7" r="2.8"/><circle cx="448.5" cy="589.0" r="2.8"/><circle cx="485.1" cy="562.3" r="2.8"/><circle cx="491.2" cy="553.7" r="2.8"/><circle cx="447.9" cy="537.2" r="2.8"/><circle cx="489.9" cy="538.4" r="2.8"/><circle cx="492.5" cy="572.2" r="2.8"/><circle cx="480.7" cy="572.8" r="2.8"/><circle cx="471.0" cy="559.4" r="2.8"/><circle cx="437.2" cy="535.2" r="2.8"/><circle cx="466.1" cy="557.4" r="2.8"/><circle cx="427.3" cy="537.0" r="2.8"/><circle cx="516.1" cy="537.6" r="2.8"/><circle cx="468.7" cy="537.3" r="2.8"/><circle cx="452.4" cy="529.2" r="2.8"/><circle cx="459.3" cy="538.0" r="2.8"/><circle cx="514.0" cy="558.8" r="2.8"/><circle cx="500.0" cy="579.2" r="2.8"/><circle cx="457.7" cy="550.4" r="2.8"/><circle cx="450.2" cy="587.9" r="2.8"/><circle cx="478.8" cy="560.2" r="2.8"/><circle cx="465.7" cy="585.8" r="2.8"/><circle cx="461.1" cy="571.7" r="2.8"/><circle cx="438.9" cy="551.5" r="2.8"/><circle cx="445.3" cy="526.2" r="2.8"/><circle cx="502.7" cy="575.1" r="2.8"/><circle cx="631.7" cy="412.5" r="2.8"/><circle cx="603.0" cy="403.0" r="2.8"/><circle cx="617.9" cy="405.3" r="2.8"/><circle cx="597.7" cy="385.7" r="2.8"/><circle cx="612.2" cy="391.3" r="2.8"/><circle cx="617.9" cy="416.6" r="2.8"/><circle cx="599.5" cy="412.5" r="2.8"/><circle cx="643.9" cy="428.4" r="2.8"/><circle cx="634.5" cy="422.8" r="2.8"/><circle cx="592.1" cy="396.1" r="2.8"/><circle cx="599.8" cy="406.1" r="2.8"/><circle cx="620.2" cy="397.2" r="2.8"/><circle cx="639.8" cy="416.8" r="2.8"/><circle cx="618.3" cy="391.5" r="2.8"/><circle cx="642.9" cy="424.5" r="2.8"/><circle cx="599.3" cy="396.0" r="2.8"/><circle cx="596.0" cy="391.0" r="2.8"/><circle cx="638.3" cy="428.1" r="2.8"/><circle cx="612.4" cy="414.4" r="2.8"/><circle cx="618.6" cy="420.6" r="2.8"/><circle cx="621.7" cy="417.5" r="2.8"/><circle cx="589.7" cy="409.4" r="2.8"/><circle cx="629.9" cy="415.4" r="2.8"/><circle cx="616.0" cy="389.7" r="2.8"/><circle cx="633.3" cy="426.5" r="2.8"/><circle cx="603.1" cy="407.3" r="2.8"/><circle cx="612.8" cy="407.3" r="2.8"/><circle cx="617.9" cy="398.9" r="2.8"/><circle cx="594.8" cy="401.7" r="2.8"/><circle cx="624.7" cy="408.1" r="2.8"/><circle cx="617.2" cy="396.5" r="2.8"/><circle cx="643.7" cy="430.8" r="2.8"/><circle cx="639.9" cy="426.8" r="2.8"/><circle cx="603.1" cy="410.1" r="2.8"/><circle cx="594.2" cy="387.3" r="2.8"/><circle cx="593.9" cy="395.3" r="2.8"/><circle cx="632.3" cy="419.5" r="2.8"/><circle cx="610.5" cy="410.4" r="2.8"/><circle cx="620.8" cy="411.6" r="2.8"/><circle cx="601.3" cy="401.5" r="2.8"/><circle cx="613.8" cy="418.1" r="2.8"/><circle cx="628.2" cy="416.8" r="2.8"/><circle cx="619.9" cy="406.3" r="2.8"/><circle cx="630.5" cy="417.3" r="2.8"/><circle cx="613.8" cy="399.0" r="2.8"/><circle cx="607.1" cy="387.8" r="2.8"/><circle cx="592.8" cy="383.0" r="2.8"/><circle cx="613.0" cy="386.1" r="2.8"/><circle cx="614.3" cy="411.1" r="2.8"/><circle cx="615.5" cy="407.4" r="2.8"/><circle cx="603.9" cy="411.7" r="2.8"/><circle cx="588.8" cy="398.0" r="2.8"/><circle cx="627.3" cy="466.9" r="2.8"/><circle cx="596.0" cy="440.6" r="2.8"/><circle cx="603.0" cy="464.3" r="2.8"/><circle cx="615.3" cy="447.9" r="2.8"/><circle cx="649.5" cy="442.8" r="2.8"/><circle cx="662.9" cy="431.5" r="2.8"/><circle cx="640.5" cy="434.2" r="2.8"/><circle cx="660.8" cy="440.3" r="2.8"/><circle cx="606.8" cy="451.6" r="2.8"/><circle cx="669.1" cy="445.5" r="2.8"/><circle cx="640.7" cy="440.8" r="2.8"/><circle cx="632.9" cy="428.5" r="2.8"/><circle cx="640.5" cy="452.5" r="2.8"/><circle cx="659.9" cy="434.5" r="2.8"/><circle cx="654.4" cy="444.4" r="2.8"/><circle cx="628.8" cy="458.6" r="2.8"/><circle cx="638.5" cy="447.1" r="2.8"/><circle cx="621.4" cy="428.1" r="2.8"/><circle cx="617.5" cy="437.8" r="2.8"/><circle cx="599.7" cy="449.9" r="2.8"/><circle cx="622.3" cy="444.4" r="2.8"/><circle cx="635.7" cy="440.3" r="2.8"/><circle cx="620.7" cy="455.4" r="2.8"/><circle cx="656.4" cy="461.1" r="2.8"/><circle cx="610.5" cy="442.8" r="2.8"/><circle cx="630.1" cy="447.8" r="2.8"/><circle cx="625.4" cy="438.2" r="2.8"/><circle cx="629.5" cy="430.8" r="2.8"/><circle cx="645.2" cy="450.6" r="2.8"/><circle cx="621.7" cy="464.4" r="2.8"/><circle cx="597.7" cy="435.6" r="2.8"/><circle cx="607.0" cy="428.5" r="2.8"/><circle cx="642.0" cy="448.3" r="2.8"/><circle cx="649.2" cy="457.9" r="2.8"/><circle cx="601.5" cy="444.0" r="2.8"/><circle cx="613.4" cy="454.2" r="2.8"/><circle cx="662.0" cy="442.9" r="2.8"/><circle cx="608.2" cy="424.9" r="2.8"/><circle cx="666.1" cy="461.5" r="2.8"/><circle cx="657.0" cy="449.4" r="2.8"/><circle cx="659.5" cy="446.9" r="2.8"/><circle cx="633.8" cy="461.8" r="2.8"/><circle cx="645.3" cy="439.7" r="2.8"/><circle cx="626.1" cy="458.1" r="2.8"/><circle cx="617.3" cy="453.4" r="2.8"/><circle cx="636.6" cy="466.8" r="2.8"/><circle cx="603.0" cy="424.9" r="2.8"/><circle cx="638.8" cy="430.5" r="2.8"/><circle cx="642.4" cy="463.5" r="2.8"/><circle cx="615.7" cy="430.2" r="2.8"/><circle cx="640.8" cy="437.5" r="2.8"/><circle cx="720.6" cy="495.8" r="2.8"/><circle cx="733.4" cy="520.1" r="2.8"/><circle cx="690.1" cy="426.4" r="2.8"/><circle cx="691.1" cy="456.6" r="2.8"/><circle cx="710.0" cy="474.7" r="2.8"/><circle cx="711.5" cy="444.3" r="2.8"/><circle cx="695.3" cy="422.9" r="2.8"/><circle cx="677.9" cy="450.2" r="2.8"/><circle cx="677.8" cy="455.6" r="2.8"/><circle cx="687.1" cy="450.7" r="2.8"/><circle cx="682.0" cy="457.3" r="2.8"/><circle cx="677.9" cy="436.1" r="2.8"/><circle cx="701.9" cy="473.6" r="2.8"/><circle cx="714.7" cy="452.2" r="2.8"/><circle cx="695.3" cy="438.4" r="2.8"/><circle cx="700.2" cy="430.2" r="2.8"/><circle cx="720.4" cy="471.5" r="2.8"/><circle cx="710.5" cy="468.4" r="2.8"/><circle cx="697.9" cy="426.8" r="2.8"/><circle cx="699.0" cy="464.8" r="2.8"/><circle cx="678.0" cy="441.5" r="2.8"/><circle cx="700.5" cy="459.6" r="2.8"/><circle cx="685.3" cy="425.6" r="2.8"/><circle cx="675.9" cy="430.7" r="2.8"/><circle cx="686.8" cy="440.0" r="2.8"/><circle cx="690.2" cy="434.6" r="2.8"/><circle cx="687.2" cy="447.0" r="2.8"/><circle cx="673.8" cy="442.2" r="2.8"/><circle cx="692.0" cy="443.5" r="2.8"/><circle cx="705.2" cy="457.4" r="2.8"/><circle cx="678.6" cy="438.2" r="2.8"/><circle cx="724.0" cy="462.6" r="2.8"/><circle cx="691.8" cy="460.8" r="2.8"/><circle cx="719.1" cy="460.4" r="2.8"/><circle cx="725.0" cy="451.5" r="2.8"/><circle cx="693.1" cy="453.1" r="2.8"/><circle cx="685.3" cy="437.8" r="2.8"/><circle cx="677.7" cy="445.7" r="2.8"/><circle cx="681.7" cy="447.6" r="2.8"/><circle cx="679.8" cy="457.9" r="2.8"/><circle cx="687.7" cy="425.6" r="2.8"/><circle cx="685.1" cy="452.9" r="2.8"/><circle cx="708.1" cy="435.3" r="2.8"/><circle cx="707.8" cy="474.7" r="2.8"/><circle cx="708.9" cy="470.9" r="2.8"/><circle cx="711.9" cy="437.2" r="2.8"/><circle cx="705.6" cy="439.0" r="2.8"/><circle cx="717.7" cy="450.2" r="2.8"/><circle cx="675.8" cy="433.2" r="2.8"/><circle cx="691.5" cy="438.9" r="2.8"/><circle cx="682.0" cy="430.4" r="2.8"/><circle cx="698.1" cy="452.7" r="2.8"/><circle cx="685.8" cy="459.5" r="2.8"/><circle cx="716.1" cy="458.6" r="2.8"/><circle cx="681.3" cy="428.7" r="2.8"/><circle cx="701.6" cy="455.7" r="2.8"/><circle cx="689.7" cy="449.6" r="2.8"/><circle cx="698.8" cy="434.6" r="2.8"/><circle cx="686.3" cy="422.1" r="2.8"/><circle cx="688.0" cy="434.2" r="2.8"/><circle cx="693.5" cy="458.4" r="2.8"/><circle cx="692.4" cy="430.9" r="2.8"/><circle cx="686.2" cy="446.0" r="2.8"/><circle cx="710.2" cy="452.0" r="2.8"/><circle cx="682.8" cy="445.0" r="2.8"/><circle cx="681.4" cy="440.2" r="2.8"/><circle cx="524.1" cy="497.8" r="2.8"/><circle cx="522.4" cy="494.7" r="2.8"/><circle cx="533.7" cy="484.6" r="2.8"/><circle cx="546.0" cy="472.7" r="2.8"/><circle cx="528.8" cy="489.4" r="2.8"/><circle cx="569.0" cy="468.7" r="2.8"/><circle cx="542.5" cy="474.3" r="2.8"/><circle cx="555.2" cy="474.1" r="2.8"/><circle cx="600.7" cy="465.2" r="2.8"/><circle cx="512.1" cy="501.7" r="2.8"/><circle cx="597.9" cy="459.5" r="2.8"/><circle cx="521.7" cy="495.0" r="2.8"/><circle cx="533.4" cy="476.4" r="2.8"/><circle cx="576.1" cy="470.8" r="2.8"/><circle cx="540.0" cy="479.8" r="2.8"/><circle cx="547.4" cy="475.9" r="2.8"/><circle cx="524.2" cy="497.1" r="2.8"/><circle cx="583.9" cy="457.1" r="2.8"/><circle cx="576.1" cy="469.7" r="2.8"/><circle cx="573.4" cy="468.5" r="2.8"/><circle cx="599.7" cy="460.2" r="2.8"/><circle cx="574.0" cy="459.7" r="2.8"/><circle cx="574.7" cy="471.7" r="2.8"/><circle cx="525.0" cy="497.3" r="2.8"/><circle cx="586.4" cy="463.8" r="2.8"/><circle cx="553.2" cy="477.0" r="2.8"/><circle cx="524.4" cy="485.0" r="2.8"/><circle cx="558.9" cy="468.4" r="2.8"/><circle cx="550.1" cy="475.2" r="2.8"/><circle cx="550.3" cy="474.3" r="2.8"/><circle cx="584.0" cy="471.4" r="2.8"/><circle cx="535.9" cy="482.7" r="2.8"/><circle cx="533.0" cy="482.1" r="2.8"/><circle cx="587.1" cy="464.6" r="2.8"/><circle cx="585.0" cy="466.6" r="2.8"/><circle cx="527.6" cy="488.5" r="2.8"/><circle cx="529.9" cy="492.4" r="2.8"/><circle cx="598.0" cy="463.7" r="2.8"/><circle cx="571.5" cy="473.8" r="2.8"/><circle cx="527.4" cy="480.2" r="2.8"/><circle cx="525.3" cy="495.3" r="2.8"/><circle cx="565.1" cy="468.5" r="2.8"/><circle cx="565.0" cy="469.3" r="2.8"/><circle cx="531.8" cy="483.4" r="2.8"/><circle cx="527.4" cy="488.8" r="2.8"/><circle cx="530.0" cy="481.9" r="2.8"/><circle cx="516.7" cy="498.3" r="2.8"/><circle cx="590.7" cy="469.0" r="2.8"/><circle cx="564.9" cy="465.1" r="2.8"/><circle cx="548.1" cy="484.7" r="2.8"/><circle cx="544.6" cy="504.8" r="2.8"/><circle cx="541.8" cy="495.6" r="2.8"/><circle cx="557.3" cy="491.7" r="2.8"/><circle cx="566.4" cy="502.3" r="2.8"/><circle cx="567.7" cy="494.7" r="2.8"/><circle cx="550.0" cy="495.8" r="2.8"/><circle cx="566.3" cy="490.7" r="2.8"/><circle cx="545.5" cy="492.4" r="2.8"/><circle cx="571.6" cy="502.3" r="2.8"/><circle cx="559.7" cy="481.1" r="2.8"/><circle cx="559.3" cy="501.4" r="2.8"/><circle cx="547.6" cy="491.5" r="2.8"/><circle cx="538.5" cy="500.8" r="2.8"/><circle cx="544.5" cy="499.9" r="2.8"/><circle cx="570.5" cy="438.0" r="2.8"/><circle cx="576.2" cy="446.7" r="2.8"/><circle cx="586.2" cy="427.8" r="2.8"/><circle cx="566.0" cy="456.0" r="2.8"/><circle cx="567.5" cy="459.3" r="2.8"/><circle cx="521.0" cy="422.2" r="2.8"/><circle cx="509.8" cy="424.5" r="2.8"/><circle cx="526.2" cy="438.0" r="2.8"/><circle cx="522.5" cy="440.2" r="2.8"/><circle cx="559.2" cy="522.0" r="2.8"/><circle cx="562.2" cy="524.2" r="2.8"/><circle cx="566.0" cy="526.5" r="2.8"/><circle cx="573.5" cy="534.0" r="2.8"/><circle cx="597.5" cy="552.3" r="2.8"/><circle cx="545.0" cy="506.2" r="2.8"/><circle cx="541.2" cy="503.2" r="2.8"/><circle cx="549.5" cy="502.2" r="2.8"/><circle cx="721.0" cy="495.8" r="2.8"/><circle cx="733.5" cy="520.2" r="2.8"/><circle cx="774.2" cy="632.2" r="2.8"/><circle cx="742.7" cy="537.8" r="2.8"/><circle cx="732.5" cy="540.8" r="2.8"/><circle cx="740.8" cy="541.5" r="2.8"/><circle cx="735.5" cy="546.8" r="2.8"/><circle cx="753.2" cy="546.3" r="2.8"/><circle cx="742.7" cy="557.5" r="2.8"/><circle cx="748.2" cy="556.2" r="2.8"/><circle cx="752.0" cy="555.0" r="2.8"/><circle cx="755.5" cy="554.5" r="2.8"/><circle cx="752.8" cy="562.2" r="2.8"/><circle cx="755.5" cy="562.2" r="2.8"/><circle cx="756.5" cy="566.7" r="2.8"/><circle cx="759.2" cy="570.8" r="2.8"/><circle cx="749.8" cy="575.2" r="2.8"/><circle cx="723.2" cy="567.3" r="2.8"/><circle cx="729.2" cy="571.4" r="2.8"/><circle cx="776.3" cy="566.7" r="2.8"/><circle cx="784.5" cy="564.1" r="2.8"/><circle cx="704.0" cy="586.5" r="2.8"/><circle cx="750.1" cy="599.3" r="2.8"/><circle cx="735.3" cy="602.7" r="2.8"/><circle cx="773.2" cy="589.3" r="2.8"/><circle cx="706.2" cy="584.5" r="2.8"/><circle cx="767.6" cy="597.5" r="2.8"/><circle cx="711.1" cy="581.8" r="2.8"/><circle cx="753.8" cy="601.1" r="2.8"/><circle cx="731.9" cy="594.1" r="2.8"/><circle cx="752.1" cy="602.5" r="2.8"/><circle cx="756.7" cy="603.2" r="2.8"/><circle cx="731.5" cy="598.0" r="2.8"/><circle cx="703.5" cy="575.8" r="2.8"/><circle cx="737.5" cy="602.7" r="2.8"/><circle cx="753.1" cy="604.0" r="2.8"/><circle cx="720.4" cy="591.6" r="2.8"/><circle cx="779.5" cy="590.9" r="2.8"/><circle cx="720.4" cy="596.8" r="2.8"/><circle cx="708.5" cy="581.6" r="2.8"/><circle cx="735.9" cy="597.2" r="2.8"/><circle cx="725.8" cy="596.5" r="2.8"/><circle cx="782.0" cy="593.2" r="2.8"/><circle cx="707.4" cy="577.9" r="2.8"/><circle cx="726.0" cy="598.4" r="2.8"/><circle cx="720.7" cy="590.2" r="2.8"/><circle cx="784.7" cy="589.7" r="2.8"/><circle cx="742.1" cy="600.1" r="2.8"/><circle cx="734.3" cy="603.9" r="2.8"/><circle cx="769.7" cy="592.9" r="2.8"/><circle cx="723.6" cy="593.6" r="2.8"/><circle cx="767.2" cy="594.9" r="2.8"/><circle cx="738.3" cy="599.9" r="2.8"/><circle cx="735.7" cy="599.0" r="2.8"/><circle cx="783.3" cy="587.5" r="2.8"/><circle cx="714.8" cy="584.3" r="2.8"/><circle cx="761.9" cy="605.4" r="2.8"/><circle cx="771.8" cy="595.7" r="2.8"/><circle cx="711.8" cy="582.2" r="2.8"/><circle cx="714.7" cy="590.3" r="2.8"/><circle cx="754.1" cy="600.7" r="2.8"/><circle cx="767.3" cy="598.8" r="2.8"/><circle cx="733.6" cy="600.2" r="2.8"/><circle cx="738.8" cy="600.3" r="2.8"/><circle cx="780.8" cy="589.3" r="2.8"/><circle cx="739.6" cy="601.3" r="2.8"/><circle cx="741.8" cy="600.7" r="2.8"/><circle cx="758.3" cy="602.1" r="2.8"/><circle cx="713.6" cy="590.5" r="2.8"/><circle cx="778.0" cy="589.7" r="2.8"/><circle cx="741.4" cy="598.9" r="2.8"/><circle cx="702.2" cy="587.6" r="2.8"/><circle cx="706.5" cy="583.3" r="2.8"/><circle cx="781.9" cy="591.5" r="2.8"/><circle cx="733.8" cy="597.3" r="2.8"/><circle cx="727.8" cy="597.8" r="2.8"/><circle cx="750.7" cy="605.9" r="2.8"/><circle cx="739.7" cy="601.0" r="2.8"/><circle cx="770.9" cy="600.2" r="2.8"/><circle cx="768.3" cy="597.2" r="2.8"/><circle cx="738.6" cy="600.9" r="2.8"/><circle cx="713.6" cy="582.1" r="2.8"/><circle cx="753.7" cy="600.7" r="2.8"/><circle cx="718.5" cy="590.4" r="2.8"/><circle cx="759.8" cy="601.0" r="2.8"/><circle cx="708.5" cy="588.8" r="2.8"/><circle cx="772.0" cy="590.7" r="2.8"/><circle cx="726.5" cy="596.7" r="2.8"/><circle cx="729.1" cy="596.3" r="2.8"/><circle cx="714.3" cy="588.0" r="2.8"/><circle cx="725.8" cy="601.4" r="2.8"/><circle cx="715.2" cy="591.0" r="2.8"/><circle cx="754.7" cy="600.7" r="2.8"/><circle cx="195.7" cy="562.8" r="2.8"/><circle cx="175.8" cy="539.5" r="2.8"/><circle cx="156.3" cy="539.7" r="2.8"/><circle cx="197.8" cy="524.6" r="2.8"/><circle cx="233.0" cy="511.2" r="2.8"/><circle cx="157.7" cy="531.3" r="2.8"/><circle cx="219.4" cy="544.6" r="2.8"/><circle cx="186.3" cy="526.0" r="2.8"/><circle cx="227.6" cy="536.9" r="2.8"/><circle cx="240.8" cy="535.3" r="2.8"/><circle cx="215.9" cy="517.1" r="2.8"/><circle cx="184.3" cy="565.4" r="2.8"/><circle cx="208.2" cy="574.2" r="2.8"/><circle cx="167.4" cy="559.1" r="2.8"/><circle cx="199.6" cy="552.1" r="2.8"/><circle cx="213.0" cy="558.2" r="2.8"/><circle cx="243.5" cy="545.2" r="2.8"/><circle cx="165.4" cy="552.4" r="2.8"/><circle cx="180.7" cy="537.2" r="2.8"/><circle cx="181.0" cy="551.8" r="2.8"/><circle cx="205.6" cy="519.9" r="2.8"/><circle cx="171.2" cy="547.8" r="2.8"/><circle cx="206.8" cy="542.8" r="2.8"/><circle cx="235.2" cy="521.0" r="2.8"/><circle cx="201.2" cy="556.9" r="2.8"/><circle cx="203.8" cy="535.8" r="2.8"/><circle cx="164.0" cy="526.9" r="2.8"/><circle cx="182.8" cy="514.4" r="2.8"/><circle cx="163.7" cy="542.5" r="2.8"/><circle cx="178.7" cy="522.3" r="2.8"/><circle cx="174.0" cy="529.9" r="2.8"/><circle cx="199.1" cy="513.1" r="2.8"/><circle cx="194.5" cy="512.0" r="2.8"/><circle cx="231.4" cy="545.8" r="2.8"/><circle cx="193.4" cy="518.7" r="2.8"/><circle cx="232.2" cy="552.2" r="2.8"/><circle cx="173.1" cy="536.9" r="2.8"/><circle cx="225.7" cy="528.9" r="2.8"/><circle cx="179.5" cy="529.7" r="2.8"/><circle cx="181.7" cy="561.9" r="2.8"/><circle cx="218.9" cy="534.8" r="2.8"/><circle cx="170.0" cy="540.9" r="2.8"/><circle cx="168.7" cy="538.4" r="2.8"/><circle cx="207.4" cy="562.9" r="2.8"/><circle cx="226.4" cy="546.9" r="2.8"/><circle cx="216.4" cy="558.5" r="2.8"/><circle cx="227.7" cy="511.5" r="2.8"/><circle cx="240.6" cy="547.2" r="2.8"/><circle cx="199.8" cy="517.4" r="2.8"/><circle cx="201.2" cy="545.4" r="2.8"/><circle cx="233.3" cy="505.8" r="2.8"/><circle cx="234.1" cy="540.3" r="2.8"/><circle cx="192.7" cy="554.6" r="2.8"/><circle cx="208.8" cy="512.4" r="2.8"/><circle cx="210.4" cy="567.0" r="2.8"/><circle cx="192.6" cy="543.3" r="2.8"/><circle cx="210.2" cy="521.2" r="2.8"/><circle cx="199.9" cy="564.0" r="2.8"/><circle cx="193.9" cy="529.7" r="2.8"/><circle cx="152.7" cy="545.6" r="2.8"/><circle cx="233.9" cy="551.2" r="2.8"/><circle cx="177.3" cy="562.8" r="2.8"/><circle cx="220.1" cy="526.9" r="2.8"/><circle cx="190.8" cy="513.7" r="2.8"/><circle cx="176.3" cy="552.0" r="2.8"/><circle cx="232.1" cy="516.2" r="2.8"/><circle cx="188.3" cy="519.9" r="2.8"/><circle cx="186.2" cy="548.2" r="2.8"/><circle cx="165.5" cy="534.3" r="2.8"/><circle cx="168.2" cy="549.9" r="2.8"/><circle cx="178.8" cy="516.0" r="2.8"/><circle cx="181.0" cy="535.3" r="2.8"/><circle cx="211.4" cy="528.7" r="2.8"/><circle cx="179.8" cy="540.2" r="2.8"/><circle cx="205.8" cy="536.7" r="2.8"/><circle cx="170.2" cy="533.1" r="2.8"/><circle cx="158.0" cy="544.8" r="2.8"/><circle cx="197.1" cy="542.8" r="2.8"/><circle cx="221.8" cy="548.3" r="2.8"/><circle cx="201.0" cy="532.2" r="2.8"/><circle cx="206.4" cy="563.1" r="2.8"/><circle cx="182.0" cy="543.0" r="2.8"/><circle cx="222.9" cy="513.9" r="2.8"/><circle cx="185.4" cy="561.6" r="2.8"/><circle cx="183.3" cy="517.6" r="2.8"/><circle cx="221.5" cy="535.9" r="2.8"/><circle cx="231.5" cy="554.3" r="2.8"/><circle cx="230.8" cy="507.8" r="2.8"/><circle cx="204.7" cy="529.4" r="2.8"/><circle cx="155.0" cy="550.8" r="2.8"/><circle cx="219.6" cy="541.1" r="2.8"/><circle cx="229.2" cy="520.6" r="2.8"/><circle cx="203.5" cy="545.2" r="2.8"/><circle cx="157.6" cy="535.4" r="2.8"/><circle cx="204.5" cy="573.2" r="2.8"/><circle cx="227.1" cy="506.2" r="2.8"/><circle cx="188.7" cy="523.2" r="2.8"/><circle cx="224.1" cy="545.2" r="2.8"/><circle cx="175.9" cy="517.7" r="2.8"/><circle cx="163.9" cy="560.5" r="2.8"/><circle cx="175.6" cy="545.1" r="2.8"/><circle cx="175.6" cy="568.1" r="2.8"/><circle cx="162.3" cy="537.4" r="2.8"/><circle cx="232.9" cy="519.7" r="2.8"/><circle cx="213.3" cy="561.6" r="2.8"/><circle cx="202.6" cy="561.3" r="2.8"/><circle cx="190.9" cy="558.0" r="2.8"/><circle cx="160.3" cy="534.1" r="2.8"/><circle cx="177.0" cy="540.4" r="2.8"/><circle cx="194.2" cy="540.4" r="2.8"/><circle cx="175.3" cy="554.8" r="2.8"/><circle cx="194.4" cy="568.6" r="2.8"/><circle cx="198.0" cy="573.4" r="2.8"/><circle cx="151.9" cy="541.4" r="2.8"/><circle cx="188.0" cy="561.8" r="2.8"/><circle cx="210.0" cy="546.9" r="2.8"/><circle cx="217.8" cy="525.9" r="2.8"/><circle cx="225.3" cy="518.4" r="2.8"/><circle cx="222.3" cy="524.1" r="2.8"/><circle cx="190.0" cy="548.4" r="2.8"/><circle cx="216.2" cy="543.4" r="2.8"/><circle cx="206.0" cy="556.4" r="2.8"/><circle cx="194.8" cy="552.6" r="2.8"/><circle cx="187.3" cy="529.7" r="2.8"/><circle cx="212.1" cy="523.0" r="2.8"/><circle cx="178.0" cy="535.7" r="2.8"/><circle cx="207.5" cy="520.7" r="2.8"/><circle cx="161.3" cy="544.9" r="2.8"/><circle cx="187.7" cy="517.1" r="2.8"/><circle cx="158.9" cy="540.6" r="2.8"/><circle cx="202.1" cy="571.8" r="2.8"/><circle cx="197.8" cy="560.0" r="2.8"/><circle cx="232.2" cy="535.5" r="2.8"/><circle cx="187.1" cy="566.4" r="2.8"/><circle cx="201.6" cy="526.8" r="2.8"/><circle cx="164.7" cy="539.5" r="2.8"/><circle cx="219.9" cy="555.3" r="2.8"/><circle cx="191.0" cy="541.1" r="2.8"/><circle cx="183.3" cy="552.0" r="2.8"/><circle cx="188.5" cy="536.4" r="2.8"/><circle cx="211.3" cy="542.7" r="2.8"/><circle cx="159.3" cy="547.6" r="2.8"/><circle cx="188.6" cy="564.8" r="2.8"/><circle cx="171.2" cy="561.0" r="2.8"/><circle cx="174.2" cy="549.5" r="2.8"/><circle cx="218.8" cy="560.4" r="2.8"/><circle cx="198.6" cy="534.5" r="2.8"/><circle cx="216.9" cy="545.7" r="2.8"/><circle cx="238.1" cy="534.1" r="2.8"/><circle cx="214.9" cy="541.4" r="2.8"/><circle cx="219.4" cy="517.3" r="2.8"/><circle cx="152.0" cy="556.5" r="2.8"/><circle cx="162.3" cy="548.4" r="2.8"/><circle cx="214.6" cy="523.4" r="2.8"/><circle cx="205.9" cy="566.9" r="2.8"/><circle cx="184.4" cy="536.3" r="2.8"/><circle cx="167.5" cy="561.5" r="2.8"/><circle cx="175.0" cy="542.1" r="2.8"/><circle cx="167.7" cy="533.9" r="2.8"/><circle cx="221.6" cy="520.0" r="2.8"/><circle cx="207.6" cy="559.6" r="2.8"/><circle cx="194.3" cy="508.9" r="2.8"/><circle cx="188.3" cy="510.9" r="2.8"/><circle cx="222.5" cy="517.3" r="2.8"/><circle cx="236.1" cy="543.7" r="2.8"/><circle cx="149.9" cy="548.0" r="2.8"/><circle cx="191.9" cy="516.7" r="2.8"/><circle cx="231.9" cy="542.5" r="2.8"/><circle cx="204.8" cy="532.1" r="2.8"/><circle cx="206.7" cy="545.9" r="2.8"/><circle cx="218.3" cy="521.6" r="2.8"/><circle cx="231.9" cy="513.6" r="2.8"/><circle cx="235.6" cy="513.7" r="2.8"/><circle cx="224.3" cy="523.3" r="2.8"/><circle cx="224.3" cy="532.8" r="2.8"/><circle cx="227.7" cy="516.8" r="2.8"/><circle cx="215.0" cy="538.9" r="2.8"/><circle cx="221.7" cy="529.5" r="2.8"/><circle cx="193.7" cy="537.5" r="2.8"/><circle cx="189.1" cy="512.9" r="2.8"/><circle cx="181.0" cy="546.6" r="2.8"/><circle cx="252.3" cy="501.9" r="2.8"/><circle cx="252.4" cy="499.8" r="2.8"/><circle cx="257.6" cy="492.9" r="2.8"/><circle cx="253.9" cy="499.7" r="2.8"/><circle cx="251.4" cy="500.3" r="2.8"/><circle cx="257.3" cy="496.2" r="2.8"/><circle cx="257.8" cy="492.1" r="2.8"/><circle cx="249.5" cy="505.2" r="2.8"/><circle cx="259.9" cy="491.8" r="2.8"/><circle cx="250.0" cy="503.5" r="2.8"/><circle cx="247.8" cy="503.4" r="2.8"/><circle cx="252.2" cy="505.5" r="2.8"/><circle cx="282.2" cy="531.3" r="2.8"/><circle cx="235.0" cy="561.8" r="2.8"/><circle cx="239.8" cy="573.3" r="2.8"/><circle cx="260.8" cy="541.7" r="2.8"/><circle cx="250.3" cy="538.9" r="2.8"/><circle cx="272.4" cy="535.0" r="2.8"/><circle cx="250.1" cy="531.3" r="2.8"/><circle cx="256.8" cy="542.5" r="2.8"/><circle cx="265.9" cy="540.3" r="2.8"/><circle cx="263.1" cy="530.3" r="2.8"/><circle cx="256.0" cy="534.9" r="2.8"/><circle cx="247.8" cy="537.7" r="2.8"/><circle cx="245.1" cy="530.2" r="2.8"/><circle cx="253.2" cy="537.9" r="2.8"/><circle cx="274.0" cy="532.4" r="2.8"/><circle cx="254.7" cy="541.3" r="2.8"/><circle cx="268.9" cy="534.2" r="2.8"/><circle cx="250.9" cy="539.3" r="2.8"/><circle cx="248.6" cy="532.3" r="2.8"/><circle cx="216.4" cy="569.0" r="2.8"/><circle cx="217.9" cy="571.6" r="2.8"/><circle cx="227.4" cy="578.4" r="2.8"/><circle cx="1034.3" cy="703.2" r="2.8"/><circle cx="987.4" cy="737.1" r="2.8"/><circle cx="994.4" cy="668.8" r="2.8"/><circle cx="1039.7" cy="655.4" r="2.8"/><circle cx="979.1" cy="641.9" r="2.8"/><circle cx="963.2" cy="712.8" r="2.8"/><circle cx="1058.4" cy="701.5" r="2.8"/><circle cx="951.2" cy="753.8" r="2.8"/><circle cx="1019.0" cy="750.2" r="2.8"/><circle cx="1004.0" cy="714.3" r="2.8"/><circle cx="997.0" cy="681.6" r="2.8"/><circle cx="959.4" cy="641.0" r="2.8"/><circle cx="1016.8" cy="670.2" r="2.8"/><circle cx="963.3" cy="770.7" r="2.8"/><circle cx="976.6" cy="700.9" r="2.8"/><circle cx="1027.9" cy="683.9" r="2.8"/><circle cx="1027.6" cy="641.4" r="2.8"/><circle cx="1044.7" cy="643.4" r="2.8"/><circle cx="956.8" cy="716.5" r="2.8"/><circle cx="1053.1" cy="670.4" r="2.8"/><circle cx="951.7" cy="719.7" r="2.8"/><circle cx="1023.4" cy="661.7" r="2.8"/><circle cx="998.7" cy="624.8" r="2.8"/><circle cx="966.7" cy="732.8" r="2.8"/><circle cx="999.3" cy="742.7" r="2.8"/><circle cx="962.3" cy="697.7" r="2.8"/><circle cx="973.6" cy="722.5" r="2.8"/><circle cx="1016.9" cy="717.2" r="2.8"/><circle cx="997.2" cy="658.0" r="2.8"/><circle cx="986.9" cy="692.1" r="2.8"/><circle cx="1047.6" cy="690.2" r="2.8"/><circle cx="961.2" cy="635.3" r="2.8"/><circle cx="947.5" cy="743.3" r="2.8"/><circle cx="1019.2" cy="736.9" r="2.8"/><circle cx="1011.7" cy="702.4" r="2.8"/><circle cx="1005.2" cy="752.1" r="2.8"/><circle cx="1003.5" cy="695.4" r="2.8"/><circle cx="1000.7" cy="663.4" r="2.8"/><circle cx="1008.7" cy="738.4" r="2.8"/><circle cx="1046.0" cy="726.5" r="2.8"/><circle cx="1035.2" cy="647.5" r="2.8"/><circle cx="1035.6" cy="753.9" r="2.8"/><circle cx="1010.5" cy="769.4" r="2.8"/><circle cx="1058.4" cy="657.9" r="2.8"/><circle cx="964.6" cy="685.8" r="2.8"/><circle cx="952.9" cy="713.7" r="2.8"/><circle cx="1022.8" cy="676.2" r="2.8"/><circle cx="976.8" cy="669.9" r="2.8"/><circle cx="946.2" cy="759.9" r="2.8"/><circle cx="1045.4" cy="700.4" r="2.8"/><circle cx="979.3" cy="659.0" r="2.8"/><circle cx="965.3" cy="650.9" r="2.8"/><circle cx="965.2" cy="756.8" r="2.8"/><circle cx="993.9" cy="708.3" r="2.8"/><circle cx="1013.7" cy="635.7" r="2.8"/><circle cx="976.3" cy="743.0" r="2.8"/><circle cx="972.6" cy="660.4" r="2.8"/><circle cx="995.3" cy="697.8" r="2.8"/><circle cx="1008.6" cy="667.5" r="2.8"/><circle cx="1032.2" cy="695.3" r="2.8"/><circle cx="1027.5" cy="653.0" r="2.8"/><circle cx="1026.5" cy="716.5" r="2.8"/><circle cx="1012.8" cy="710.2" r="2.8"/><circle cx="959.7" cy="729.7" r="2.8"/><circle cx="1063.9" cy="677.5" r="2.8"/><circle cx="1009.6" cy="730.8" r="2.8"/><circle cx="1042.0" cy="743.6" r="2.8"/><circle cx="1029.5" cy="729.5" r="2.8"/><circle cx="1035.7" cy="719.8" r="2.8"/><circle cx="1012.0" cy="645.6" r="2.8"/><circle cx="983.5" cy="699.0" r="2.8"/><circle cx="966.2" cy="744.0" r="2.8"/><circle cx="1025.6" cy="695.9" r="2.8"/><circle cx="982.2" cy="729.4" r="2.8"/><circle cx="1009.4" cy="625.6" r="2.8"/><circle cx="987.9" cy="655.9" r="2.8"/><circle cx="960.2" cy="688.2" r="2.8"/><circle cx="987.5" cy="755.7" r="2.8"/><circle cx="1049.4" cy="653.3" r="2.8"/><circle cx="1025.4" cy="737.5" r="2.8"/><circle cx="1035.2" cy="739.7" r="2.8"/><circle cx="1009.1" cy="760.9" r="2.8"/><circle cx="1026.8" cy="706.1" r="2.8"/><circle cx="952.7" cy="760.3" r="2.8"/><circle cx="994.9" cy="642.2" r="2.8"/><circle cx="960.8" cy="764.1" r="2.8"/><circle cx="1027.4" cy="678.6" r="2.8"/><circle cx="976.4" cy="656.1" r="2.8"/><circle cx="1038.1" cy="701.2" r="2.8"/><circle cx="1038.8" cy="681.2" r="2.8"/><circle cx="1042.0" cy="710.1" r="2.8"/><circle cx="987.9" cy="704.0" r="2.8"/><circle cx="988.9" cy="768.8" r="2.8"/><circle cx="952.7" cy="769.3" r="2.8"/><circle cx="1012.3" cy="762.0" r="2.8"/><circle cx="999.3" cy="690.5" r="2.8"/><circle cx="953.6" cy="700.4" r="2.8"/><circle cx="986.4" cy="777.0" r="2.8"/><circle cx="974.4" cy="775.7" r="2.8"/><circle cx="1006.5" cy="683.7" r="2.8"/><circle cx="1020.7" cy="760.9" r="2.8"/><circle cx="988.6" cy="678.2" r="2.8"/><circle cx="979.5" cy="702.9" r="2.8"/><circle cx="1051.2" cy="663.6" r="2.8"/><circle cx="1055.2" cy="640.6" r="2.8"/><circle cx="952.9" cy="707.1" r="2.8"/><circle cx="1054.7" cy="721.9" r="2.8"/><circle cx="972.9" cy="694.1" r="2.8"/><circle cx="977.8" cy="676.2" r="2.8"/><circle cx="1032.1" cy="659.7" r="2.8"/><circle cx="1025.7" cy="745.6" r="2.8"/><circle cx="972.8" cy="698.0" r="2.8"/><circle cx="968.6" cy="679.2" r="2.8"/><circle cx="1017.2" cy="661.2" r="2.8"/><circle cx="1001.0" cy="640.5" r="2.8"/><circle cx="979.0" cy="760.1" r="2.8"/><circle cx="991.7" cy="686.7" r="2.8"/><circle cx="977.5" cy="634.4" r="2.8"/><circle cx="1038.7" cy="637.1" r="2.8"/><circle cx="1030.7" cy="670.4" r="2.8"/><circle cx="1046.4" cy="707.1" r="2.8"/><circle cx="977.9" cy="681.0" r="2.8"/><circle cx="1008.3" cy="720.5" r="2.8"/><circle cx="1016.4" cy="630.2" r="2.8"/><circle cx="960.9" cy="753.0" r="2.8"/><circle cx="1006.5" cy="688.8" r="2.8"/><circle cx="1006.4" cy="677.2" r="2.8"/><circle cx="1033.6" cy="634.3" r="2.8"/><circle cx="1007.0" cy="634.4" r="2.8"/><circle cx="980.7" cy="629.7" r="2.8"/><circle cx="960.5" cy="723.2" r="2.8"/><circle cx="958.7" cy="762.8" r="2.8"/><circle cx="991.9" cy="644.4" r="2.8"/><circle cx="1053.2" cy="705.1" r="2.8"/><circle cx="1031.1" cy="680.1" r="2.8"/><circle cx="1023.9" cy="710.7" r="2.8"/><circle cx="964.9" cy="708.5" r="2.8"/><circle cx="1045.0" cy="731.0" r="2.8"/><circle cx="1019.2" cy="699.2" r="2.8"/><circle cx="993.4" cy="715.3" r="2.8"/><circle cx="1038.9" cy="648.9" r="2.8"/><circle cx="997.2" cy="703.7" r="2.8"/><circle cx="1012.9" cy="643.4" r="2.8"/><circle cx="1024.5" cy="733.4" r="2.8"/><circle cx="989.8" cy="746.3" r="2.8"/><circle cx="1002.3" cy="763.4" r="2.8"/><circle cx="993.6" cy="693.0" r="2.8"/><circle cx="982.6" cy="687.0" r="2.8"/><circle cx="1057.0" cy="678.6" r="2.8"/><circle cx="1061.1" cy="707.0" r="2.8"/><circle cx="1002.8" cy="722.0" r="2.8"/><circle cx="986.9" cy="647.0" r="2.8"/><circle cx="997.3" cy="762.6" r="2.8"/><circle cx="969.8" cy="749.8" r="2.8"/><circle cx="1009.4" cy="756.9" r="2.8"/><circle cx="972.8" cy="682.7" r="2.8"/><circle cx="1061.6" cy="693.3" r="2.8"/><circle cx="1042.7" cy="669.3" r="2.8"/><circle cx="1033.9" cy="714.3" r="2.8"/><circle cx="1055.7" cy="652.8" r="2.8"/><circle cx="973.3" cy="727.7" r="2.8"/><circle cx="969.5" cy="665.4" r="2.8"/><circle cx="964.4" cy="753.6" r="2.8"/><circle cx="1033.6" cy="749.6" r="2.8"/><circle cx="1018.5" cy="625.0" r="2.8"/><circle cx="1062.9" cy="671.0" r="2.8"/><circle cx="999.5" cy="734.8" r="2.8"/><circle cx="1048.3" cy="678.2" r="2.8"/><circle cx="1001.3" cy="671.1" r="2.8"/><circle cx="1010.8" cy="745.1" r="2.8"/><circle cx="1048.7" cy="721.4" r="2.8"/><circle cx="990.7" cy="647.0" r="2.8"/><circle cx="960.1" cy="742.3" r="2.8"/><circle cx="1016.7" cy="687.4" r="2.8"/><circle cx="975.2" cy="643.9" r="2.8"/><circle cx="1022.6" cy="687.1" r="2.8"/><circle cx="981.6" cy="751.6" r="2.8"/><circle cx="1060.4" cy="678.7" r="2.8"/><circle cx="1034.2" cy="731.5" r="2.8"/><circle cx="946.2" cy="747.7" r="2.8"/><circle cx="1005.0" cy="624.5" r="2.8"/><circle cx="950.9" cy="743.4" r="2.8"/><circle cx="978.7" cy="695.9" r="2.8"/><circle cx="1028.1" cy="628.7" r="2.8"/><circle cx="1019.4" cy="651.0" r="2.8"/><circle cx="1033.3" cy="708.5" r="2.8"/><circle cx="962.9" cy="774.4" r="2.8"/><circle cx="987.6" cy="664.5" r="2.8"/><circle cx="1031.4" cy="710.7" r="2.8"/><circle cx="1007.9" cy="693.5" r="2.8"/><circle cx="981.1" cy="756.0" r="2.8"/><circle cx="1008.8" cy="657.7" r="2.8"/><circle cx="1027.4" cy="625.1" r="2.8"/><circle cx="1039.7" cy="725.1" r="2.8"/><circle cx="974.2" cy="638.9" r="2.8"/><circle cx="1054.6" cy="713.1" r="2.8"/><circle cx="1051.4" cy="690.4" r="2.8"/><circle cx="973.9" cy="717.5" r="2.8"/><circle cx="1051.4" cy="683.0" r="2.8"/><circle cx="1000.6" cy="678.0" r="2.8"/><circle cx="994.3" cy="768.8" r="2.8"/><circle cx="1030.3" cy="760.1" r="2.8"/><circle cx="1060.4" cy="653.3" r="2.8"/><circle cx="980.2" cy="778.9" r="2.8"/><circle cx="1038.1" cy="643.4" r="2.8"/><circle cx="1046.1" cy="664.0" r="2.8"/><circle cx="1007.9" cy="730.2" r="2.8"/><circle cx="1038.7" cy="674.4" r="2.8"/><circle cx="957.2" cy="683.2" r="2.8"/><circle cx="986.7" cy="689.4" r="2.8"/><circle cx="1004.7" cy="700.9" r="2.8"/><circle cx="1041.5" cy="730.0" r="2.8"/><circle cx="1009.6" cy="703.7" r="2.8"/><circle cx="998.4" cy="646.7" r="2.8"/><circle cx="957.5" cy="741.4" r="2.8"/><circle cx="1042.1" cy="705.8" r="2.8"/><circle cx="1015.2" cy="657.1" r="2.8"/><circle cx="974.6" cy="738.7" r="2.8"/><circle cx="1005.4" cy="649.5" r="2.8"/><circle cx="1050.7" cy="710.8" r="2.8"/><circle cx="948.2" cy="713.7" r="2.8"/><circle cx="1036.8" cy="690.6" r="2.8"/><circle cx="992.1" cy="656.6" r="2.8"/><circle cx="1020.1" cy="742.0" r="2.8"/><circle cx="1026.9" cy="758.4" r="2.8"/><circle cx="1002.3" cy="751.1" r="2.8"/><circle cx="972.9" cy="733.9" r="2.8"/><circle cx="1050.5" cy="636.9" r="2.8"/><circle cx="956.2" cy="748.9" r="2.8"/><circle cx="987.7" cy="641.4" r="2.8"/><circle cx="989.6" cy="696.7" r="2.8"/><circle cx="974.5" cy="769.1" r="2.8"/><circle cx="952.7" cy="735.2" r="2.8"/><circle cx="1025.5" cy="655.9" r="2.8"/><circle cx="1019.8" cy="725.8" r="2.8"/><circle cx="1010.2" cy="726.5" r="2.8"/><circle cx="963.3" cy="631.0" r="2.8"/><circle cx="1017.9" cy="643.5" r="2.8"/><circle cx="1011.9" cy="621.4" r="2.8"/><circle cx="1022.2" cy="714.7" r="2.8"/><circle cx="1001.1" cy="651.6" r="2.8"/><circle cx="968.8" cy="718.2" r="2.8"/><circle cx="1053.6" cy="699.5" r="2.8"/><circle cx="1033.0" cy="673.8" r="2.8"/><circle cx="965.4" cy="717.2" r="2.8"/><circle cx="1010.6" cy="682.0" r="2.8"/><circle cx="1040.5" cy="663.5" r="2.8"/><circle cx="1043.1" cy="683.2" r="2.8"/><circle cx="1017.6" cy="754.7" r="2.8"/><circle cx="989.3" cy="712.9" r="2.8"/><circle cx="1039.9" cy="688.8" r="2.8"/><circle cx="1057.3" cy="696.9" r="2.8"/><circle cx="980.1" cy="744.5" r="2.8"/><circle cx="970.7" cy="711.7" r="2.8"/><circle cx="999.5" cy="655.0" r="2.8"/><circle cx="1064.5" cy="699.1" r="2.8"/><circle cx="969.0" cy="739.0" r="2.8"/><circle cx="983.1" cy="667.6" r="2.8"/><circle cx="1013.1" cy="652.5" r="2.8"/><circle cx="983.9" cy="643.9" r="2.8"/><circle cx="985.8" cy="682.5" r="2.8"/><circle cx="1030.2" cy="742.1" r="2.8"/><circle cx="1011.3" cy="749.9" r="2.8"/><circle cx="1007.0" cy="653.8" r="2.8"/><circle cx="1038.8" cy="732.9" r="2.8"/><circle cx="984.7" cy="717.3" r="2.8"/><circle cx="964.3" cy="692.9" r="2.8"/><circle cx="1045.9" cy="650.5" r="2.8"/><circle cx="1014.4" cy="677.4" r="2.8"/><circle cx="1004.3" cy="776.5" r="2.8"/><circle cx="1043.8" cy="737.3" r="2.8"/><circle cx="953.7" cy="693.8" r="2.8"/><circle cx="1020.2" cy="683.0" r="2.8"/><circle cx="990.5" cy="626.0" r="2.8"/><circle cx="962.9" cy="766.3" r="2.8"/><circle cx="949.6" cy="710.5" r="2.8"/><circle cx="1034.1" cy="627.0" r="2.8"/><circle cx="998.4" cy="714.9" r="2.8"/><circle cx="1063.9" cy="657.1" r="2.8"/><circle cx="981.5" cy="740.3" r="2.8"/><circle cx="1014.3" cy="713.9" r="2.8"/><circle cx="969.8" cy="651.7" r="2.8"/><circle cx="1029.5" cy="757.1" r="2.8"/><circle cx="960.6" cy="735.1" r="2.8"/><circle cx="985.5" cy="732.0" r="2.8"/><circle cx="1023.0" cy="700.5" r="2.8"/><circle cx="1051.5" cy="680.2" r="2.8"/><circle cx="956.9" cy="678.0" r="2.8"/><circle cx="947.8" cy="765.9" r="2.8"/><circle cx="1015.6" cy="752.1" r="2.8"/><circle cx="1016.1" cy="765.7" r="2.8"/><circle cx="972.8" cy="673.9" r="2.8"/><circle cx="1014.5" cy="747.1" r="2.8"/><circle cx="1031.4" cy="625.0" r="2.8"/><circle cx="997.4" cy="671.3" r="2.8"/><circle cx="1025.3" cy="691.1" r="2.8"/><circle cx="1048.1" cy="647.0" r="2.8"/><circle cx="988.8" cy="680.7" r="2.8"/><circle cx="992.2" cy="681.7" r="2.8"/><circle cx="1031.1" cy="663.2" r="2.8"/><circle cx="988.6" cy="634.0" r="2.8"/><circle cx="1056.8" cy="691.8" r="2.8"/><circle cx="1043.4" cy="659.0" r="2.8"/><circle cx="1012.0" cy="699.6" r="2.8"/><circle cx="1005.0" cy="709.0" r="2.8"/><circle cx="964.1" cy="666.7" r="2.8"/><circle cx="975.3" cy="759.6" r="2.8"/><circle cx="945.0" cy="756.5" r="2.8"/><circle cx="993.8" cy="735.8" r="2.8"/><circle cx="1019.1" cy="693.2" r="2.8"/><circle cx="1021.4" cy="722.5" r="2.8"/><circle cx="1053.4" cy="717.1" r="2.8"/><circle cx="1020.8" cy="628.8" r="2.8"/><circle cx="963.7" cy="703.1" r="2.8"/><circle cx="957.1" cy="690.2" r="2.8"/><circle cx="997.6" cy="744.6" r="2.8"/><circle cx="984.6" cy="721.6" r="2.8"/><circle cx="982.0" cy="764.0" r="2.8"/><circle cx="1018.4" cy="733.0" r="2.8"/><circle cx="1002.5" cy="731.7" r="2.8"/><circle cx="996.2" cy="676.4" r="2.8"/><circle cx="959.3" cy="709.9" r="2.8"/><circle cx="994.7" cy="760.3" r="2.8"/><circle cx="985.1" cy="743.4" r="2.8"/><circle cx="985.8" cy="659.5" r="2.8"/><circle cx="1052.2" cy="649.5" r="2.8"/><circle cx="994.7" cy="636.5" r="2.8"/><circle cx="1013.9" cy="697.7" r="2.8"/><circle cx="1008.8" cy="687.7" r="2.8"/><circle cx="1047.1" cy="694.2" r="2.8"/><circle cx="998.4" cy="700.0" r="2.8"/><circle cx="967.0" cy="670.9" r="2.8"/><circle cx="1040.4" cy="694.1" r="2.8"/><circle cx="1003.5" cy="728.1" r="2.8"/><circle cx="984.7" cy="772.3" r="2.8"/><circle cx="974.9" cy="631.6" r="2.8"/><circle cx="1059.8" cy="664.4" r="2.8"/><circle cx="960.2" cy="718.9" r="2.8"/><circle cx="962.8" cy="749.9" r="2.8"/><circle cx="978.6" cy="647.8" r="2.8"/><circle cx="1005.8" cy="630.4" r="2.8"/><circle cx="1021.4" cy="672.0" r="2.8"/><circle cx="967.2" cy="687.5" r="2.8"/><circle cx="954.7" cy="745.8" r="2.8"/><circle cx="1034.3" cy="723.1" r="2.8"/><circle cx="1045.6" cy="696.7" r="2.8"/><circle cx="1003.2" cy="748.0" r="2.8"/><circle cx="984.1" cy="626.8" r="2.8"/><circle cx="969.5" cy="754.7" r="2.8"/><circle cx="970.6" cy="760.5" r="2.8"/><circle cx="1000.8" cy="752.7" r="2.8"/><circle cx="990.1" cy="761.2" r="2.8"/><circle cx="966.4" cy="701.8" r="2.8"/><circle cx="976.4" cy="721.2" r="2.8"/><circle cx="1028.6" cy="696.6" r="2.8"/><circle cx="953.2" cy="738.5" r="2.8"/><circle cx="967.0" cy="766.9" r="2.8"/><circle cx="959.2" cy="699.6" r="2.8"/><circle cx="1039.0" cy="738.1" r="2.8"/><circle cx="1043.3" cy="632.8" r="2.8"/><circle cx="962.9" cy="653.3" r="2.8"/><circle cx="1002.7" cy="711.6" r="2.8"/><circle cx="970.4" cy="689.4" r="2.8"/><circle cx="978.6" cy="753.2" r="2.8"/><circle cx="1014.9" cy="642.1" r="2.8"/><circle cx="1066.0" cy="662.8" r="2.8"/><circle cx="1018.2" cy="767.9" r="2.8"/><circle cx="973.8" cy="665.0" r="2.8"/><circle cx="1025.5" cy="633.1" r="2.8"/><circle cx="1009.9" cy="660.7" r="2.8"/><circle cx="987.5" cy="673.8" r="2.8"/><circle cx="958.7" cy="702.8" r="2.8"/><circle cx="993.8" cy="689.8" r="2.8"/><circle cx="947.6" cy="754.6" r="2.8"/><circle cx="1017.3" cy="726.1" r="2.8"/><circle cx="983.0" cy="676.1" r="2.8"/><circle cx="997.4" cy="638.6" r="2.8"/><circle cx="994.4" cy="633.0" r="2.8"/><circle cx="999.0" cy="757.0" r="2.8"/><circle cx="961.6" cy="647.0" r="2.8"/><circle cx="984.2" cy="760.2" r="2.8"/><circle cx="956.1" cy="697.9" r="2.8"/><circle cx="1057.2" cy="708.7" r="2.8"/><circle cx="1000.6" cy="717.3" r="2.8"/><circle cx="994.1" cy="652.5" r="2.8"/><circle cx="952.1" cy="730.5" r="2.8"/><circle cx="966.8" cy="758.1" r="2.8"/><circle cx="969.5" cy="672.1" r="2.8"/><circle cx="1029.0" cy="632.9" r="2.8"/><circle cx="1046.7" cy="671.8" r="2.8"/><circle cx="977.9" cy="713.3" r="2.8"/><circle cx="998.4" cy="633.7" r="2.8"/><circle cx="1009.5" cy="670.0" r="2.8"/><circle cx="997.8" cy="642.3" r="2.8"/><circle cx="1026.0" cy="662.3" r="2.8"/><circle cx="1037.9" cy="704.6" r="2.8"/><circle cx="977.7" cy="709.4" r="2.8"/><circle cx="1065.7" cy="680.8" r="2.8"/><circle cx="967.7" cy="662.2" r="2.8"/><circle cx="987.7" cy="741.6" r="2.8"/><circle cx="978.5" cy="684.5" r="2.8"/><circle cx="982.9" cy="744.3" r="2.8"/><circle cx="954.9" cy="766.6" r="2.8"/><circle cx="964.0" cy="724.7" r="2.8"/><circle cx="1002.7" cy="707.5" r="2.8"/><circle cx="1029.1" cy="647.9" r="2.8"/><circle cx="1004.1" cy="636.2" r="2.8"/><circle cx="979.8" cy="772.7" r="2.8"/><circle cx="1036.7" cy="708.4" r="2.8"/><circle cx="1041.6" cy="648.3" r="2.8"/><circle cx="989.3" cy="764.3" r="2.8"/><circle cx="977.2" cy="674.5" r="2.8"/><circle cx="1027.4" cy="635.7" r="2.8"/><circle cx="969.6" cy="706.4" r="2.8"/><circle cx="954.2" cy="721.7" r="2.8"/><circle cx="968.5" cy="682.6" r="2.8"/><circle cx="999.0" cy="761.7" r="2.8"/><circle cx="1017.1" cy="634.8" r="2.8"/><circle cx="1058.6" cy="695.4" r="2.8"/><circle cx="1052.1" cy="723.2" r="2.8"/><circle cx="962.8" cy="677.4" r="2.8"/><circle cx="1030.2" cy="691.8" r="2.8"/><circle cx="1036.2" cy="687.6" r="2.8"/><circle cx="1062.9" cy="690.4" r="2.8"/><circle cx="991.4" cy="702.2" r="2.8"/><circle cx="985.0" cy="712.9" r="2.8"/><circle cx="1005.9" cy="644.8" r="2.8"/><circle cx="953.7" cy="753.9" r="2.8"/><circle cx="995.8" cy="730.9" r="2.8"/><circle cx="1003.8" cy="658.8" r="2.8"/><circle cx="1038.2" cy="632.4" r="2.8"/><circle cx="1051.3" cy="670.5" r="2.8"/><circle cx="970.1" cy="635.0" r="2.8"/><circle cx="961.2" cy="634.5" r="2.8"/><circle cx="976.8" cy="631.7" r="2.8"/><circle cx="1016.4" cy="705.1" r="2.8"/><circle cx="993.3" cy="754.2" r="2.8"/><circle cx="1059.4" cy="659.9" r="2.8"/><circle cx="955.7" cy="760.9" r="2.8"/><circle cx="969.2" cy="694.7" r="2.8"/><circle cx="989.8" cy="724.7" r="2.8"/><circle cx="1014.8" cy="663.7" r="2.8"/><circle cx="993.3" cy="766.1" r="2.8"/><circle cx="1023.8" cy="725.9" r="2.8"/><circle cx="1032.1" cy="677.5" r="2.8"/><circle cx="949.7" cy="720.3" r="2.8"/><circle cx="1007.1" cy="759.4" r="2.8"/><circle cx="971.8" cy="661.4" r="2.8"/><circle cx="980.0" cy="686.6" r="2.8"/><circle cx="981.2" cy="726.5" r="2.8"/><circle cx="1051.0" cy="643.9" r="2.8"/><circle cx="1023.9" cy="665.2" r="2.8"/><circle cx="1036.1" cy="752.1" r="2.8"/><circle cx="1032.6" cy="654.8" r="2.8"/><circle cx="1042.5" cy="701.3" r="2.8"/><circle cx="1001.7" cy="687.4" r="2.8"/><circle cx="1017.7" cy="771.1" r="2.8"/><circle cx="987.1" cy="767.1" r="2.8"/><circle cx="1034.8" cy="665.3" r="2.8"/><circle cx="1058.7" cy="674.0" r="2.8"/><circle cx="994.7" cy="773.0" r="2.8"/><circle cx="996.8" cy="622.3" r="2.8"/><circle cx="1024.6" cy="650.0" r="2.8"/><circle cx="957.3" cy="774.9" r="2.8"/><circle cx="963.8" cy="641.3" r="2.8"/><circle cx="1035.7" cy="701.3" r="2.8"/><circle cx="984.9" cy="765.2" r="2.8"/><circle cx="1010.8" cy="710.5" r="2.8"/><circle cx="951.5" cy="747.5" r="2.8"/><circle cx="999.7" cy="624.8" r="2.8"/><circle cx="965.3" cy="730.0" r="2.8"/><circle cx="1045.2" cy="678.7" r="2.8"/><circle cx="976.0" cy="665.4" r="2.8"/><circle cx="1031.3" cy="704.5" r="2.8"/><circle cx="1038.8" cy="718.0" r="2.8"/><circle cx="1025.6" cy="642.7" r="2.8"/><circle cx="976.1" cy="647.0" r="2.8"/><circle cx="959.0" cy="729.9" r="2.8"/><circle cx="989.4" cy="658.4" r="2.8"/><circle cx="1025.8" cy="763.9" r="2.8"/><circle cx="1009.7" cy="714.8" r="2.8"/><circle cx="1004.4" cy="668.2" r="2.8"/><circle cx="985.6" cy="763.1" r="2.8"/><circle cx="975.7" cy="701.7" r="2.8"/><circle cx="987.3" cy="651.5" r="2.8"/><circle cx="1017.5" cy="740.2" r="2.8"/><circle cx="1019.3" cy="751.5" r="2.8"/><circle cx="947.8" cy="747.5" r="2.8"/><circle cx="1036.0" cy="656.9" r="2.8"/><circle cx="978.9" cy="660.7" r="2.8"/><circle cx="948.1" cy="749.6" r="2.8"/><circle cx="993.0" cy="665.0" r="2.8"/><circle cx="980.7" cy="678.1" r="2.8"/><circle cx="1056.4" cy="683.4" r="2.8"/><circle cx="999.7" cy="663.2" r="2.8"/><circle cx="984.9" cy="703.2" r="2.8"/><circle cx="1044.2" cy="691.0" r="2.8"/><circle cx="1036.6" cy="720.1" r="2.8"/><circle cx="963.9" cy="759.7" r="2.8"/><circle cx="970.7" cy="722.4" r="2.8"/><circle cx="958.5" cy="757.7" r="2.8"/><circle cx="972.6" cy="635.6" r="2.8"/><circle cx="1013.8" cy="754.6" r="2.8"/><circle cx="971.0" cy="655.4" r="2.8"/><circle cx="999.9" cy="695.7" r="2.8"/><circle cx="1043.7" cy="740.9" r="2.8"/><circle cx="978.1" cy="677.2" r="2.8"/><circle cx="968.3" cy="772.7" r="2.8"/><circle cx="1018.8" cy="737.1" r="2.8"/><circle cx="1003.3" cy="643.4" r="2.8"/><circle cx="1025.0" cy="742.6" r="2.8"/><circle cx="1052.6" cy="731.5" r="2.8"/><circle cx="983.1" cy="653.3" r="2.8"/><circle cx="1017.0" cy="759.8" r="2.8"/><circle cx="1033.3" cy="719.2" r="2.8"/><circle cx="1007.0" cy="768.4" r="2.8"/><circle cx="1015.6" cy="629.0" r="2.8"/><circle cx="1049.4" cy="705.6" r="2.8"/><circle cx="978.8" cy="765.5" r="2.8"/><circle cx="992.3" cy="629.4" r="2.8"/><circle cx="1032.4" cy="636.1" r="2.8"/><circle cx="1009.9" cy="618.9" r="2.8"/><circle cx="1022.9" cy="660.4" r="2.8"/><circle cx="988.6" cy="738.7" r="2.8"/><circle cx="969.9" cy="778.6" r="2.8"/><circle cx="1044.1" cy="724.0" r="2.8"/><circle cx="1053.6" cy="727.3" r="2.8"/><circle cx="1004.7" cy="718.6" r="2.8"/><circle cx="1018.2" cy="703.1" r="2.8"/><circle cx="1022.4" cy="679.5" r="2.8"/><circle cx="1017.5" cy="704.2" r="2.8"/><circle cx="1049.8" cy="735.2" r="2.8"/><circle cx="1030.4" cy="746.6" r="2.8"/><circle cx="1023.1" cy="627.0" r="2.8"/><circle cx="979.2" cy="670.7" r="2.8"/><circle cx="987.4" cy="626.2" r="2.8"/><circle cx="965.9" cy="746.3" r="2.8"/><circle cx="968.3" cy="745.3" r="2.8"/><circle cx="1040.7" cy="643.3" r="2.8"/><circle cx="1059.1" cy="644.8" r="2.8"/><circle cx="1054.1" cy="670.0" r="2.8"/><circle cx="1005.4" cy="764.5" r="2.8"/><circle cx="1043.3" cy="673.8" r="2.8"/><circle cx="1000.8" cy="671.7" r="2.8"/><circle cx="1048.0" cy="660.8" r="2.8"/><circle cx="964.2" cy="710.4" r="2.8"/><circle cx="1010.5" cy="741.4" r="2.8"/><circle cx="981.2" cy="631.0" r="2.8"/><circle cx="983.6" cy="737.7" r="2.8"/><circle cx="1015.0" cy="740.2" r="2.8"/><circle cx="951.8" cy="767.9" r="2.8"/><circle cx="1007.7" cy="697.2" r="2.8"/><circle cx="979.1" cy="697.3" r="2.8"/><circle cx="1053.8" cy="692.0" r="2.8"/><circle cx="1033.6" cy="757.8" r="2.8"/><circle cx="999.2" cy="760.4" r="2.8"/><circle cx="1044.7" cy="734.7" r="2.8"/><circle cx="986.8" cy="727.8" r="2.8"/><circle cx="1004.3" cy="618.3" r="2.8"/><circle cx="994.7" cy="705.7" r="2.8"/><circle cx="1053.7" cy="653.5" r="2.8"/><circle cx="998.3" cy="724.0" r="2.8"/><circle cx="1061.1" cy="670.6" r="2.8"/><circle cx="987.5" cy="753.6" r="2.8"/><circle cx="988.5" cy="665.6" r="2.8"/><circle cx="973.3" cy="742.1" r="2.8"/><circle cx="1009.1" cy="650.6" r="2.8"/><circle cx="1013.1" cy="771.5" r="2.8"/><circle cx="1006.9" cy="716.5" r="2.8"/><circle cx="1014.3" cy="624.7" r="2.8"/><circle cx="995.1" cy="724.3" r="2.8"/><circle cx="1024.5" cy="705.4" r="2.8"/><circle cx="1041.4" cy="716.9" r="2.8"/><circle cx="1007.6" cy="684.7" r="2.8"/><circle cx="1023.1" cy="730.4" r="2.8"/><circle cx="1016.6" cy="711.0" r="2.8"/><circle cx="992.1" cy="729.9" r="2.8"/><circle cx="1007.8" cy="721.5" r="2.8"/><circle cx="978.6" cy="755.6" r="2.8"/><circle cx="1030.8" cy="642.4" r="2.8"/><circle cx="1035.7" cy="676.0" r="2.8"/><circle cx="1002.1" cy="777.5" r="2.8"/><circle cx="1026.9" cy="730.0" r="2.8"/><circle cx="998.1" cy="646.1" r="2.8"/><circle cx="967.3" cy="644.8" r="2.8"/><circle cx="960.3" cy="687.5" r="2.8"/><circle cx="1040.2" cy="710.1" r="2.8"/><circle cx="953.5" cy="706.4" r="2.8"/><circle cx="1040.3" cy="745.8" r="2.8"/><circle cx="1013.3" cy="649.5" r="2.8"/><circle cx="1007.8" cy="632.4" r="2.8"/><circle cx="952.8" cy="752.3" r="2.8"/><circle cx="1012.3" cy="746.2" r="2.8"/><circle cx="1013.8" cy="707.9" r="2.8"/><circle cx="996.8" cy="678.9" r="2.8"/><circle cx="973.3" cy="777.5" r="2.8"/><circle cx="1018.8" cy="668.7" r="2.8"/><circle cx="1014.3" cy="632.6" r="2.8"/><circle cx="1026.6" cy="622.1" r="2.8"/><circle cx="1015.0" cy="684.9" r="2.8"/><circle cx="964.5" cy="721.5" r="2.8"/><circle cx="1036.0" cy="644.9" r="2.8"/><circle cx="961.3" cy="752.3" r="2.8"/><circle cx="1031.3" cy="685.7" r="2.8"/><circle cx="1049.4" cy="697.3" r="2.8"/><circle cx="969.9" cy="735.6" r="2.8"/><circle cx="958.7" cy="672.3" r="2.8"/><circle cx="1047.4" cy="738.3" r="2.8"/><circle cx="1050.2" cy="712.8" r="2.8"/><circle cx="991.1" cy="777.9" r="2.8"/><circle cx="978.7" cy="653.5" r="2.8"/><circle cx="967.2" cy="751.2" r="2.8"/><circle cx="1058.6" cy="672.4" r="2.8"/><circle cx="1014.9" cy="753.7" r="2.8"/><circle cx="1029.4" cy="745.4" r="2.8"/><circle cx="992.0" cy="736.6" r="2.8"/><circle cx="1034.6" cy="682.1" r="2.8"/><circle cx="971.7" cy="683.0" r="2.8"/><circle cx="973.8" cy="666.2" r="2.8"/><circle cx="993.1" cy="722.8" r="2.8"/><circle cx="996.3" cy="754.0" r="2.8"/><circle cx="1008.5" cy="698.9" r="2.8"/><circle cx="1003.5" cy="714.7" r="2.8"/><circle cx="984.5" cy="644.1" r="2.8"/><circle cx="1056.8" cy="655.6" r="2.8"/><circle cx="1003.4" cy="639.4" r="2.8"/><circle cx="1010.6" cy="669.2" r="2.8"/><circle cx="999.3" cy="669.6" r="2.8"/><circle cx="1014.5" cy="695.3" r="2.8"/><circle cx="1028.2" cy="664.9" r="2.8"/><circle cx="1017.4" cy="728.3" r="2.8"/><circle cx="1010.1" cy="768.1" r="2.8"/><circle cx="981.3" cy="746.6" r="2.8"/><circle cx="1020.7" cy="657.9" r="2.8"/><circle cx="1020.5" cy="634.5" r="2.8"/><circle cx="1018.4" cy="629.1" r="2.8"/><circle cx="973.0" cy="759.6" r="2.8"/><circle cx="958.0" cy="747.8" r="2.8"/><circle cx="990.0" cy="676.0" r="2.8"/><circle cx="981.2" cy="755.5" r="2.8"/><circle cx="1005.9" cy="626.2" r="2.8"/><circle cx="1011.0" cy="750.1" r="2.8"/><circle cx="1009.1" cy="651.7" r="2.8"/><circle cx="1046.4" cy="720.5" r="2.8"/><circle cx="1029.6" cy="656.2" r="2.8"/><circle cx="972.9" cy="753.4" r="2.8"/><circle cx="1024.5" cy="750.0" r="2.8"/><circle cx="1060.5" cy="669.7" r="2.8"/><circle cx="1050.4" cy="704.5" r="2.8"/><circle cx="980.3" cy="681.3" r="2.8"/><circle cx="975.2" cy="741.5" r="2.8"/><circle cx="1051.8" cy="646.4" r="2.8"/><circle cx="971.3" cy="721.0" r="2.8"/><circle cx="965.8" cy="725.7" r="2.8"/><circle cx="1003.9" cy="667.9" r="2.8"/><circle cx="997.6" cy="735.0" r="2.8"/><circle cx="1032.1" cy="736.6" r="2.8"/><circle cx="1037.7" cy="675.0" r="2.8"/><circle cx="1022.1" cy="731.0" r="2.8"/><circle cx="962.7" cy="680.1" r="2.8"/><circle cx="1003.7" cy="756.1" r="2.8"/><circle cx="984.2" cy="707.1" r="2.8"/><circle cx="980.4" cy="739.9" r="2.8"/><circle cx="986.2" cy="745.2" r="2.8"/><circle cx="964.2" cy="756.2" r="2.8"/><circle cx="971.7" cy="767.8" r="2.8"/><circle cx="1005.8" cy="709.0" r="2.8"/><circle cx="961.5" cy="714.3" r="2.8"/><circle cx="1044.2" cy="648.8" r="2.8"/><circle cx="1022.8" cy="712.6" r="2.8"/><circle cx="1035.6" cy="663.5" r="2.8"/><circle cx="1003.9" cy="770.1" r="2.8"/><circle cx="1004.5" cy="738.2" r="2.8"/><circle cx="1030.6" cy="645.8" r="2.8"/><circle cx="997.6" cy="767.4" r="2.8"/><circle cx="1009.6" cy="732.3" r="2.8"/><circle cx="1013.7" cy="648.2" r="2.8"/><circle cx="1006.6" cy="735.4" r="2.8"/><circle cx="960.2" cy="692.9" r="2.8"/><circle cx="969.6" cy="710.6" r="2.8"/><circle cx="1019.3" cy="665.6" r="2.8"/><circle cx="1019.8" cy="748.3" r="2.8"/><circle cx="1001.7" cy="728.4" r="2.8"/><circle cx="1057.1" cy="700.4" r="2.8"/><circle cx="1004.1" cy="752.7" r="2.8"/><circle cx="1017.2" cy="741.1" r="2.8"/><circle cx="1009.8" cy="634.6" r="2.8"/><circle cx="986.6" cy="757.4" r="2.8"/><circle cx="1031.0" cy="672.5" r="2.8"/><circle cx="983.0" cy="765.3" r="2.8"/><circle cx="984.1" cy="677.2" r="2.8"/><circle cx="1031.0" cy="722.3" r="2.8"/><circle cx="1035.4" cy="693.2" r="2.8"/><circle cx="993.5" cy="756.9" r="2.8"/><circle cx="1019.2" cy="754.2" r="2.8"/><circle cx="981.9" cy="750.8" r="2.8"/><circle cx="1045.0" cy="694.3" r="2.8"/><circle cx="959.4" cy="728.7" r="2.8"/><circle cx="992.6" cy="633.8" r="2.8"/><circle cx="1040.2" cy="733.3" r="2.8"/><circle cx="993.9" cy="641.6" r="2.8"/><circle cx="1003.1" cy="674.6" r="2.8"/><circle cx="1011.4" cy="742.7" r="2.8"/><circle cx="981.2" cy="770.5" r="2.8"/><circle cx="993.1" cy="686.4" r="2.8"/><circle cx="988.8" cy="724.5" r="2.8"/><circle cx="1000.1" cy="693.1" r="2.8"/><circle cx="952.8" cy="747.9" r="2.8"/><circle cx="1014.4" cy="681.2" r="2.8"/><circle cx="996.4" cy="651.7" r="2.8"/><circle cx="995.6" cy="669.1" r="2.8"/><circle cx="991.8" cy="644.7" r="2.8"/><circle cx="983.7" cy="634.1" r="2.8"/><circle cx="952.1" cy="757.1" r="2.8"/><circle cx="978.3" cy="640.6" r="2.8"/><circle cx="1015.1" cy="755.0" r="2.8"/><circle cx="1026.5" cy="650.3" r="2.8"/><circle cx="1008.3" cy="765.9" r="2.8"/><circle cx="1008.8" cy="759.4" r="2.8"/><circle cx="1036.5" cy="689.3" r="2.8"/><circle cx="974.6" cy="641.8" r="2.8"/><circle cx="999.3" cy="699.8" r="2.8"/><circle cx="1015.2" cy="759.1" r="2.8"/><circle cx="970.4" cy="757.9" r="2.8"/><circle cx="964.3" cy="705.2" r="2.8"/><circle cx="1024.9" cy="708.8" r="2.8"/><circle cx="981.8" cy="743.1" r="2.8"/><circle cx="1047.7" cy="676.9" r="2.8"/><circle cx="1032.1" cy="716.8" r="2.8"/><circle cx="996.4" cy="731.9" r="2.8"/><circle cx="1003.2" cy="731.0" r="2.8"/><circle cx="1028.7" cy="755.1" r="2.8"/><circle cx="1000.5" cy="749.6" r="2.8"/><circle cx="1057.9" cy="659.8" r="2.8"/><circle cx="988.3" cy="769.2" r="2.8"/><circle cx="987.2" cy="751.1" r="2.8"/><circle cx="987.1" cy="734.7" r="2.8"/><circle cx="999.8" cy="679.7" r="2.8"/><circle cx="981.7" cy="720.5" r="2.8"/><circle cx="977.2" cy="709.5" r="2.8"/><circle cx="986.0" cy="696.4" r="2.8"/><circle cx="989.8" cy="702.0" r="2.8"/><circle cx="1046.3" cy="684.2" r="2.8"/><circle cx="1000.1" cy="739.1" r="2.8"/><circle cx="1058.9" cy="696.5" r="2.8"/><circle cx="971.9" cy="649.4" r="2.8"/><circle cx="990.4" cy="714.0" r="2.8"/><circle cx="1006.4" cy="757.4" r="2.8"/><circle cx="1040.9" cy="658.1" r="2.8"/><circle cx="1003.8" cy="745.6" r="2.8"/><circle cx="955.2" cy="741.1" r="2.8"/><circle cx="985.9" cy="671.3" r="2.8"/><circle cx="1049.5" cy="684.4" r="2.8"/><circle cx="1034.2" cy="648.5" r="2.8"/><circle cx="971.3" cy="691.1" r="2.8"/><circle cx="958.8" cy="763.6" r="2.8"/><circle cx="980.4" cy="717.8" r="2.8"/><circle cx="996.2" cy="646.5" r="2.8"/><circle cx="970.4" cy="736.3" r="2.8"/><circle cx="1013.4" cy="672.2" r="2.8"/><circle cx="1001.1" cy="762.1" r="2.8"/><circle cx="969.0" cy="699.3" r="2.8"/><circle cx="998.9" cy="664.6" r="2.8"/><circle cx="985.9" cy="766.9" r="2.8"/><circle cx="1012.8" cy="737.0" r="2.8"/><circle cx="983.4" cy="714.3" r="2.8"/><circle cx="1009.6" cy="758.0" r="2.8"/><circle cx="1026.8" cy="746.4" r="2.8"/><circle cx="999.9" cy="676.3" r="2.8"/><circle cx="998.6" cy="718.3" r="2.8"/><circle cx="1017.3" cy="717.6" r="2.8"/><circle cx="1036.9" cy="738.0" r="2.8"/><circle cx="1012.0" cy="709.0" r="2.8"/><circle cx="1006.0" cy="645.6" r="2.8"/><circle cx="992.1" cy="705.8" r="2.8"/><circle cx="1050.7" cy="695.1" r="2.8"/><circle cx="981.0" cy="684.7" r="2.8"/><circle cx="1002.2" cy="683.3" r="2.8"/><circle cx="973.7" cy="651.2" r="2.8"/><circle cx="960.5" cy="702.0" r="2.8"/><circle cx="1021.9" cy="676.5" r="2.8"/><circle cx="991.9" cy="677.8" r="2.8"/><circle cx="987.6" cy="729.1" r="2.8"/><circle cx="991.7" cy="671.6" r="2.8"/><circle cx="984.5" cy="721.7" r="2.8"/><circle cx="1002.9" cy="748.1" r="2.8"/><circle cx="1000.1" cy="725.0" r="2.8"/><circle cx="966.4" cy="729.4" r="2.8"/><circle cx="997.8" cy="763.9" r="2.8"/><circle cx="1022.3" cy="745.4" r="2.8"/><circle cx="1019.6" cy="680.8" r="2.8"/><circle cx="1039.6" cy="711.5" r="2.8"/><circle cx="1005.4" cy="727.5" r="2.8"/><circle cx="1006.1" cy="631.8" r="2.8"/><circle cx="959.0" cy="724.4" r="2.8"/><circle cx="988.5" cy="739.1" r="2.8"/><circle cx="975.3" cy="751.1" r="2.8"/><circle cx="966.9" cy="755.2" r="2.8"/><circle cx="989.8" cy="646.6" r="2.8"/><circle cx="989.6" cy="773.0" r="2.8"/><circle cx="1024.7" cy="695.9" r="2.8"/><circle cx="1009.9" cy="698.9" r="2.8"/><circle cx="1043.5" cy="697.4" r="2.8"/><circle cx="967.4" cy="745.9" r="2.8"/><circle cx="987.2" cy="761.4" r="2.8"/><circle cx="967.1" cy="659.2" r="2.8"/><circle cx="995.2" cy="674.1" r="2.8"/><circle cx="987.9" cy="712.1" r="2.8"/><circle cx="1046.5" cy="710.3" r="2.8"/><circle cx="954.1" cy="752.5" r="2.8"/><circle cx="1038.2" cy="679.2" r="2.8"/><circle cx="1002.0" cy="709.5" r="2.8"/><circle cx="964.7" cy="695.6" r="2.8"/><circle cx="1015.6" cy="646.8" r="2.8"/><circle cx="1009.3" cy="711.3" r="2.8"/><circle cx="978.2" cy="756.0" r="2.8"/><circle cx="1047.9" cy="716.5" r="2.8"/><circle cx="1024.2" cy="727.0" r="2.8"/><circle cx="992.6" cy="674.4" r="2.8"/><circle cx="1013.2" cy="718.8" r="2.8"/><circle cx="1006.9" cy="714.5" r="2.8"/><circle cx="971.1" cy="763.4" r="2.8"/><circle cx="1019.5" cy="657.5" r="2.8"/><circle cx="988.7" cy="748.5" r="2.8"/><circle cx="1027.3" cy="667.8" r="2.8"/><circle cx="959.0" cy="739.5" r="2.8"/><circle cx="977.1" cy="669.8" r="2.8"/><circle cx="978.8" cy="732.5" r="2.8"/><circle cx="1010.3" cy="754.8" r="2.8"/><circle cx="990.4" cy="730.0" r="2.8"/><circle cx="1021.0" cy="656.3" r="2.8"/><circle cx="1015.1" cy="660.6" r="2.8"/><circle cx="1031.4" cy="726.7" r="2.8"/><circle cx="1012.1" cy="749.3" r="2.8"/><circle cx="994.6" cy="750.7" r="2.8"/><circle cx="977.9" cy="770.0" r="2.8"/><circle cx="1017.5" cy="728.9" r="2.8"/><circle cx="972.9" cy="695.1" r="2.8"/><circle cx="992.0" cy="682.2" r="2.8"/><circle cx="987.2" cy="686.9" r="2.8"/><circle cx="1004.9" cy="731.3" r="2.8"/><circle cx="996.2" cy="749.8" r="2.8"/><circle cx="1039.3" cy="644.6" r="2.8"/><circle cx="1040.7" cy="697.6" r="2.8"/><circle cx="975.0" cy="725.3" r="2.8"/><circle cx="971.5" cy="754.5" r="2.8"/><circle cx="973.0" cy="704.5" r="2.8"/><circle cx="972.5" cy="714.7" r="2.8"/><circle cx="977.3" cy="766.4" r="2.8"/><circle cx="1000.2" cy="707.5" r="2.8"/><circle cx="1000.4" cy="732.3" r="2.8"/><circle cx="1031.8" cy="675.8" r="2.8"/><circle cx="1001.8" cy="735.8" r="2.8"/><circle cx="968.2" cy="682.6" r="2.8"/><circle cx="1033.7" cy="660.1" r="2.8"/><circle cx="1048.3" cy="704.1" r="2.8"/><circle cx="1026.0" cy="641.8" r="2.8"/><circle cx="1010.3" cy="709.0" r="2.8"/><circle cx="1038.2" cy="688.0" r="2.8"/><circle cx="1011.8" cy="655.7" r="2.8"/><circle cx="956.8" cy="751.3" r="2.8"/><circle cx="1013.7" cy="654.3" r="2.8"/><circle cx="966.2" cy="641.8" r="2.8"/><circle cx="993.0" cy="655.9" r="2.8"/><circle cx="992.6" cy="659.3" r="2.8"/><circle cx="953.7" cy="762.5" r="2.8"/><circle cx="1018.0" cy="746.6" r="2.8"/><circle cx="1022.5" cy="735.1" r="2.8"/><circle cx="990.6" cy="768.2" r="2.8"/><circle cx="997.7" cy="742.6" r="2.8"/><circle cx="1027.5" cy="635.7" r="2.8"/><circle cx="1050.9" cy="693.0" r="2.8"/><circle cx="1047.0" cy="663.8" r="2.8"/><circle cx="1010.2" cy="714.5" r="2.8"/><circle cx="1038.7" cy="726.4" r="2.8"/><circle cx="979.9" cy="648.7" r="2.8"/><circle cx="966.3" cy="722.4" r="2.8"/><circle cx="1054.5" cy="672.3" r="2.8"/><circle cx="1009.4" cy="747.8" r="2.8"/><circle cx="976.1" cy="773.1" r="2.8"/><circle cx="1009.1" cy="630.6" r="2.8"/><circle cx="1050.2" cy="673.5" r="2.8"/><circle cx="964.3" cy="725.2" r="2.8"/><circle cx="979.5" cy="642.8" r="2.8"/><circle cx="982.5" cy="693.4" r="2.8"/><circle cx="1012.8" cy="661.3" r="2.8"/><circle cx="976.1" cy="650.6" r="2.8"/><circle cx="1022.1" cy="759.0" r="2.8"/><circle cx="1008.6" cy="705.3" r="2.8"/><circle cx="973.9" cy="646.3" r="2.8"/><circle cx="995.2" cy="677.9" r="2.8"/><circle cx="1019.4" cy="749.8" r="2.8"/><circle cx="1029.4" cy="662.8" r="2.8"/><circle cx="1035.1" cy="747.6" r="2.8"/><circle cx="1042.4" cy="700.2" r="2.8"/><circle cx="983.7" cy="707.2" r="2.8"/><circle cx="963.8" cy="699.1" r="2.8"/><circle cx="1030.6" cy="669.9" r="2.8"/><circle cx="1000.9" cy="736.7" r="2.8"/><circle cx="992.9" cy="662.0" r="2.8"/><circle cx="1013.7" cy="693.0" r="2.8"/><circle cx="997.7" cy="767.6" r="2.8"/><circle cx="1057.7" cy="701.9" r="2.8"/><circle cx="964.8" cy="731.9" r="2.8"/><circle cx="978.1" cy="717.7" r="2.8"/><circle cx="1004.6" cy="711.6" r="2.8"/><circle cx="963.6" cy="767.6" r="2.8"/><circle cx="1047.0" cy="647.4" r="2.8"/><circle cx="1022.0" cy="740.6" r="2.8"/><circle cx="1045.9" cy="714.9" r="2.8"/><circle cx="996.2" cy="696.4" r="2.8"/><circle cx="989.5" cy="694.5" r="2.8"/><circle cx="971.4" cy="636.6" r="2.8"/><circle cx="979.8" cy="681.0" r="2.8"/><circle cx="1041.9" cy="691.5" r="2.8"/><circle cx="1035.1" cy="736.2" r="2.8"/><circle cx="1035.9" cy="683.9" r="2.8"/><circle cx="1018.5" cy="757.5" r="2.8"/><circle cx="975.8" cy="677.9" r="2.8"/><circle cx="1039.5" cy="692.7" r="2.8"/><circle cx="1006.7" cy="657.2" r="2.8"/><circle cx="1017.9" cy="654.2" r="2.8"/><circle cx="1009.4" cy="718.4" r="2.8"/><circle cx="1011.4" cy="700.2" r="2.8"/><circle cx="1009.2" cy="642.7" r="2.8"/><circle cx="1007.9" cy="653.5" r="2.8"/><circle cx="1011.8" cy="739.9" r="2.8"/><circle cx="1013.9" cy="715.0" r="2.8"/><circle cx="954.9" cy="736.1" r="2.8"/><circle cx="1002.1" cy="753.3" r="2.8"/><circle cx="1019.2" cy="649.3" r="2.8"/><circle cx="1001.8" cy="629.7" r="2.8"/><circle cx="1027.0" cy="686.7" r="2.8"/><circle cx="973.4" cy="654.7" r="2.8"/><circle cx="1015.4" cy="639.3" r="2.8"/><circle cx="973.3" cy="670.8" r="2.8"/><circle cx="995.9" cy="661.0" r="2.8"/><circle cx="1022.2" cy="718.4" r="2.8"/><circle cx="1007.7" cy="755.2" r="2.8"/><circle cx="963.6" cy="752.8" r="2.8"/><circle cx="1030.2" cy="636.9" r="2.8"/><circle cx="1008.1" cy="702.3" r="2.8"/><circle cx="957.0" cy="719.2" r="2.8"/><circle cx="990.3" cy="734.6" r="2.8"/><circle cx="1055.4" cy="694.1" r="2.8"/><circle cx="982.0" cy="676.6" r="2.8"/><circle cx="1024.6" cy="639.8" r="2.8"/><circle cx="973.8" cy="675.3" r="2.8"/><circle cx="1021.6" cy="642.3" r="2.8"/><circle cx="1034.0" cy="643.3" r="2.8"/><circle cx="1003.8" cy="702.6" r="2.8"/><circle cx="970.4" cy="681.2" r="2.8"/><circle cx="1044.2" cy="688.8" r="2.8"/><circle cx="1009.8" cy="734.1" r="2.8"/><circle cx="975.4" cy="700.9" r="2.8"/><circle cx="975.9" cy="661.5" r="2.8"/><circle cx="1023.2" cy="672.2" r="2.8"/><circle cx="984.3" cy="738.0" r="2.8"/><circle cx="1037.2" cy="648.2" r="2.8"/><circle cx="966.4" cy="762.2" r="2.8"/><circle cx="1036.6" cy="676.5" r="2.8"/><circle cx="984.9" cy="717.5" r="2.8"/><circle cx="985.5" cy="673.9" r="2.8"/><circle cx="1033.8" cy="744.3" r="2.8"/><circle cx="985.4" cy="639.3" r="2.8"/><circle cx="1017.0" cy="722.3" r="2.8"/><circle cx="999.2" cy="769.2" r="2.8"/><circle cx="976.2" cy="757.4" r="2.8"/><circle cx="1041.6" cy="662.6" r="2.8"/><circle cx="984.2" cy="696.8" r="2.8"/><circle cx="1046.3" cy="656.6" r="2.8"/><circle cx="1004.1" cy="760.7" r="2.8"/><circle cx="1010.0" cy="759.6" r="2.8"/><circle cx="1004.0" cy="721.2" r="2.8"/><circle cx="1059.9" cy="664.4" r="2.8"/><circle cx="1042.1" cy="682.4" r="2.8"/><circle cx="980.2" cy="704.2" r="2.8"/><circle cx="971.8" cy="669.1" r="2.8"/><circle cx="985.4" cy="667.7" r="2.8"/><circle cx="1025.3" cy="754.6" r="2.8"/><circle cx="1041.8" cy="715.9" r="2.8"/><circle cx="1027.7" cy="742.0" r="2.8"/><circle cx="1010.3" cy="730.0" r="2.8"/><circle cx="969.0" cy="700.8" r="2.8"/><circle cx="1000.2" cy="750.2" r="2.8"/><circle cx="1004.6" cy="683.0" r="2.8"/><circle cx="1035.1" cy="711.0" r="2.8"/><circle cx="971.6" cy="741.9" r="2.8"/><circle cx="991.2" cy="665.0" r="2.8"/><circle cx="1057.1" cy="665.7" r="2.8"/><circle cx="932.9" cy="778.4" r="2.8"/><circle cx="916.0" cy="780.5" r="2.8"/><circle cx="945.5" cy="783.4" r="2.8"/><circle cx="934.2" cy="768.7" r="2.8"/><circle cx="958.8" cy="780.7" r="2.8"/><circle cx="925.7" cy="781.1" r="2.8"/><circle cx="940.2" cy="787.2" r="2.8"/><circle cx="929.0" cy="771.4" r="2.8"/><circle cx="940.4" cy="772.0" r="2.8"/><circle cx="936.9" cy="775.1" r="2.8"/><circle cx="954.8" cy="776.6" r="2.8"/><circle cx="937.7" cy="780.9" r="2.8"/><circle cx="920.4" cy="778.4" r="2.8"/><circle cx="943.5" cy="778.2" r="2.8"/><circle cx="956.7" cy="778.8" r="2.8"/><circle cx="918.9" cy="769.5" r="2.8"/><circle cx="949.9" cy="783.2" r="2.8"/><circle cx="937.1" cy="769.6" r="2.8"/><circle cx="935.1" cy="780.9" r="2.8"/><circle cx="921.2" cy="783.5" r="2.8"/><circle cx="952.6" cy="779.7" r="2.8"/><circle cx="940.5" cy="775.6" r="2.8"/><circle cx="918.3" cy="731.0" r="2.8"/><circle cx="939.2" cy="681.5" r="2.8"/><circle cx="912.1" cy="722.6" r="2.8"/><circle cx="936.2" cy="700.4" r="2.8"/><circle cx="933.4" cy="773.1" r="2.8"/><circle cx="934.1" cy="743.2" r="2.8"/><circle cx="941.6" cy="761.2" r="2.8"/><circle cx="942.8" cy="710.0" r="2.8"/><circle cx="926.5" cy="739.9" r="2.8"/><circle cx="939.9" cy="731.0" r="2.8"/><circle cx="913.9" cy="770.8" r="2.8"/><circle cx="924.1" cy="706.7" r="2.8"/><circle cx="930.1" cy="713.2" r="2.8"/><circle cx="922.8" cy="783.0" r="2.8"/><circle cx="943.5" cy="777.2" r="2.8"/><circle cx="919.8" cy="739.2" r="2.8"/><circle cx="939.9" cy="750.4" r="2.8"/><circle cx="932.3" cy="770.2" r="2.8"/><circle cx="952.1" cy="695.6" r="2.8"/><circle cx="920.3" cy="720.3" r="2.8"/><circle cx="949.8" cy="685.2" r="2.8"/><circle cx="940.5" cy="778.1" r="2.8"/><circle cx="923.4" cy="731.8" r="2.8"/><circle cx="905.8" cy="716.7" r="2.8"/><circle cx="936.4" cy="707.7" r="2.8"/><circle cx="900.8" cy="713.6" r="2.8"/><circle cx="945.7" cy="770.1" r="2.8"/><circle cx="918.4" cy="765.0" r="2.8"/><circle cx="941.8" cy="764.0" r="2.8"/><circle cx="955.4" cy="656.0" r="2.8"/><circle cx="935.9" cy="665.6" r="2.8"/><circle cx="925.3" cy="771.1" r="2.8"/><circle cx="942.7" cy="668.8" r="2.8"/><circle cx="923.8" cy="702.3" r="2.8"/><circle cx="949.0" cy="681.0" r="2.8"/><circle cx="921.9" cy="725.1" r="2.8"/><circle cx="904.1" cy="728.8" r="2.8"/><circle cx="919.2" cy="704.5" r="2.8"/><circle cx="943.8" cy="690.3" r="2.8"/><circle cx="945.2" cy="661.4" r="2.8"/><circle cx="914.3" cy="735.0" r="2.8"/><circle cx="922.1" cy="749.9" r="2.8"/><circle cx="934.2" cy="730.3" r="2.8"/><circle cx="935.5" cy="697.7" r="2.8"/><circle cx="937.6" cy="745.1" r="2.8"/><circle cx="920.0" cy="746.5" r="2.8"/><circle cx="936.1" cy="720.2" r="2.8"/><circle cx="944.3" cy="682.5" r="2.8"/><circle cx="941.5" cy="745.5" r="2.8"/><circle cx="937.2" cy="712.8" r="2.8"/><circle cx="951.6" cy="666.9" r="2.8"/><circle cx="926.3" cy="736.4" r="2.8"/><circle cx="927.1" cy="760.8" r="2.8"/><circle cx="921.9" cy="758.4" r="2.8"/><circle cx="939.0" cy="675.8" r="2.8"/><circle cx="945.1" cy="667.3" r="2.8"/><circle cx="915.5" cy="779.7" r="2.8"/><circle cx="929.2" cy="640.8" r="2.8"/><circle cx="909.7" cy="690.0" r="2.8"/><circle cx="897.2" cy="696.7" r="2.8"/><circle cx="603.9" cy="690.9" r="2.8"/><circle cx="655.5" cy="702.8" r="2.8"/><circle cx="628.5" cy="700.8" r="2.8"/><circle cx="602.7" cy="666.9" r="2.8"/><circle cx="617.1" cy="682.7" r="2.8"/><circle cx="622.4" cy="662.1" r="2.8"/><circle cx="602.7" cy="650.3" r="2.8"/><circle cx="641.6" cy="706.6" r="2.8"/><circle cx="626.5" cy="651.9" r="2.8"/><circle cx="636.6" cy="656.6" r="2.8"/><circle cx="604.7" cy="679.5" r="2.8"/><circle cx="611.1" cy="694.8" r="2.8"/><circle cx="620.8" cy="705.0" r="2.8"/><circle cx="612.6" cy="666.2" r="2.8"/><circle cx="627.3" cy="675.9" r="2.8"/><circle cx="645.4" cy="677.8" r="2.8"/><circle cx="626.1" cy="689.0" r="2.8"/><circle cx="661.2" cy="708.3" r="2.8"/><circle cx="670.9" cy="705.1" r="2.8"/><circle cx="628.0" cy="663.9" r="2.8"/><circle cx="667.7" cy="712.3" r="2.8"/><circle cx="653.5" cy="692.7" r="2.8"/><circle cx="634.2" cy="686.2" r="2.8"/><circle cx="635.5" cy="660.3" r="2.8"/><circle cx="599.5" cy="674.7" r="2.8"/><circle cx="599.6" cy="685.3" r="2.8"/><circle cx="649.8" cy="707.5" r="2.8"/><circle cx="646.1" cy="684.1" r="2.8"/><circle cx="623.4" cy="680.8" r="2.8"/><circle cx="611.2" cy="655.2" r="2.8"/><circle cx="641.0" cy="664.7" r="2.8"/><circle cx="611.3" cy="687.4" r="2.8"/><circle cx="636.4" cy="707.9" r="2.8"/><circle cx="662.6" cy="692.9" r="2.8"/><circle cx="648.8" cy="693.8" r="2.8"/><circle cx="651.1" cy="660.8" r="2.8"/><circle cx="597.9" cy="681.0" r="2.8"/><circle cx="648.7" cy="668.7" r="2.8"/><circle cx="611.4" cy="661.9" r="2.8"/><circle cx="645.2" cy="703.7" r="2.8"/><circle cx="635.5" cy="691.8" r="2.8"/><circle cx="618.1" cy="695.9" r="2.8"/><circle cx="660.3" cy="712.1" r="2.8"/><circle cx="625.2" cy="705.4" r="2.8"/><circle cx="607.2" cy="658.0" r="2.8"/><circle cx="593.0" cy="675.1" r="2.8"/><circle cx="626.2" cy="702.4" r="2.8"/><circle cx="609.6" cy="663.7" r="2.8"/><circle cx="616.0" cy="673.4" r="2.8"/><circle cx="603.4" cy="661.4" r="2.8"/><circle cx="597.5" cy="670.2" r="2.8"/><circle cx="617.1" cy="687.4" r="2.8"/><circle cx="622.5" cy="645.4" r="2.8"/><circle cx="608.3" cy="690.7" r="2.8"/><circle cx="611.1" cy="671.0" r="2.8"/><circle cx="613.7" cy="688.6" r="2.8"/><circle cx="636.6" cy="666.3" r="2.8"/><circle cx="659.5" cy="704.7" r="2.8"/><circle cx="601.7" cy="681.7" r="2.8"/><circle cx="605.2" cy="686.4" r="2.8"/><circle cx="594.1" cy="684.2" r="2.8"/><circle cx="624.0" cy="666.7" r="2.8"/><circle cx="630.3" cy="678.9" r="2.8"/><circle cx="610.6" cy="681.0" r="2.8"/><circle cx="607.3" cy="701.4" r="2.8"/><circle cx="657.5" cy="687.1" r="2.8"/><circle cx="618.3" cy="648.7" r="2.8"/><circle cx="631.7" cy="703.0" r="2.8"/><circle cx="668.5" cy="704.1" r="2.8"/><circle cx="610.0" cy="651.6" r="2.8"/><circle cx="619.0" cy="665.3" r="2.8"/><circle cx="621.1" cy="687.6" r="2.8"/><circle cx="647.1" cy="689.7" r="2.8"/><circle cx="602.7" cy="696.3" r="2.8"/><circle cx="615.4" cy="699.8" r="2.8"/><circle cx="613.4" cy="677.2" r="2.8"/><circle cx="642.0" cy="691.3" r="2.8"/><circle cx="605.6" cy="668.1" r="2.8"/><circle cx="654.2" cy="710.3" r="2.8"/><circle cx="643.6" cy="663.3" r="2.8"/><circle cx="621.0" cy="648.8" r="2.8"/><circle cx="606.9" cy="696.3" r="2.8"/><circle cx="621.2" cy="700.6" r="2.8"/><circle cx="603.2" cy="654.5" r="2.8"/><circle cx="629.1" cy="707.2" r="2.8"/><circle cx="598.0" cy="675.7" r="2.8"/><circle cx="619.8" cy="679.0" r="2.8"/><circle cx="649.2" cy="657.9" r="2.8"/><circle cx="642.8" cy="673.3" r="2.8"/><circle cx="629.2" cy="674.9" r="2.8"/><circle cx="610.1" cy="698.2" r="2.8"/><circle cx="648.5" cy="665.3" r="2.8"/><circle cx="647.0" cy="706.4" r="2.8"/><circle cx="607.9" cy="679.3" r="2.8"/><circle cx="649.1" cy="671.1" r="2.8"/><circle cx="641.5" cy="669.2" r="2.8"/><circle cx="605.2" cy="655.5" r="2.8"/><circle cx="602.8" cy="687.4" r="2.8"/><circle cx="625.5" cy="662.8" r="2.8"/><circle cx="598.5" cy="651.6" r="2.8"/><circle cx="602.3" cy="675.5" r="2.8"/><circle cx="613.1" cy="691.5" r="2.8"/><circle cx="620.1" cy="693.1" r="2.8"/><circle cx="654.3" cy="707.5" r="2.8"/><circle cx="615.7" cy="695.7" r="2.8"/><circle cx="624.2" cy="653.9" r="2.8"/><circle cx="642.7" cy="667.3" r="2.8"/><circle cx="635.5" cy="674.5" r="2.8"/><circle cx="650.6" cy="697.0" r="2.8"/><circle cx="652.5" cy="677.7" r="2.8"/><circle cx="628.2" cy="655.5" r="2.8"/><circle cx="606.7" cy="674.5" r="2.8"/><circle cx="627.3" cy="684.8" r="2.8"/><circle cx="670.8" cy="708.9" r="2.8"/><circle cx="654.8" cy="688.5" r="2.8"/><circle cx="628.9" cy="670.5" r="2.8"/><circle cx="612.8" cy="650.1" r="2.8"/><circle cx="625.6" cy="707.4" r="2.8"/><circle cx="630.1" cy="695.4" r="2.8"/><circle cx="639.2" cy="705.0" r="2.8"/><circle cx="593.3" cy="680.2" r="2.8"/><circle cx="611.5" cy="645.8" r="2.8"/><circle cx="629.6" cy="659.4" r="2.8"/><circle cx="621.4" cy="667.4" r="2.8"/><circle cx="638.9" cy="660.2" r="2.8"/><circle cx="626.2" cy="679.5" r="2.8"/><circle cx="653.6" cy="661.2" r="2.8"/><circle cx="663.1" cy="697.1" r="2.8"/><circle cx="664.4" cy="711.0" r="2.8"/><circle cx="645.2" cy="694.2" r="2.8"/><circle cx="614.0" cy="653.9" r="2.8"/><circle cx="594.0" cy="669.7" r="2.8"/><circle cx="608.5" cy="649.0" r="2.8"/><circle cx="658.5" cy="709.9" r="2.8"/><circle cx="617.5" cy="700.0" r="2.8"/><circle cx="639.5" cy="686.4" r="2.8"/><circle cx="615.8" cy="702.6" r="2.8"/><circle cx="669.6" cy="698.8" r="2.8"/><circle cx="604.7" cy="657.4" r="2.8"/><circle cx="648.6" cy="666.7" r="2.8"/><circle cx="644.5" cy="658.5" r="2.8"/><circle cx="608.1" cy="686.7" r="2.8"/><circle cx="613.7" cy="683.3" r="2.8"/><circle cx="623.2" cy="698.0" r="2.8"/><circle cx="616.9" cy="690.6" r="2.8"/><circle cx="617.9" cy="646.2" r="2.8"/><circle cx="665.0" cy="700.2" r="2.8"/><circle cx="641.0" cy="694.3" r="2.8"/><circle cx="600.5" cy="671.2" r="2.8"/><circle cx="608.2" cy="666.5" r="2.8"/><circle cx="613.9" cy="672.5" r="2.8"/><circle cx="641.9" cy="699.9" r="2.8"/><circle cx="615.9" cy="666.0" r="2.8"/><circle cx="648.0" cy="704.1" r="2.8"/><circle cx="653.1" cy="701.9" r="2.8"/><circle cx="596.0" cy="682.0" r="2.8"/><circle cx="650.9" cy="682.0" r="2.8"/><circle cx="623.9" cy="673.1" r="2.8"/><circle cx="605.2" cy="659.5" r="2.8"/><circle cx="615.4" cy="684.1" r="2.8"/><circle cx="663.5" cy="707.8" r="2.8"/><circle cx="648.7" cy="681.1" r="2.8"/><circle cx="628.7" cy="690.2" r="2.8"/><circle cx="624.7" cy="671.7" r="2.8"/><circle cx="646.7" cy="702.9" r="2.8"/><circle cx="637.1" cy="706.3" r="2.8"/><circle cx="639.0" cy="696.7" r="2.8"/><circle cx="604.5" cy="676.4" r="2.8"/><circle cx="609.8" cy="701.0" r="2.8"/><circle cx="645.6" cy="665.3" r="2.8"/><circle cx="619.3" cy="684.4" r="2.8"/><circle cx="648.2" cy="683.2" r="2.8"/><circle cx="617.4" cy="679.7" r="2.8"/><circle cx="615.0" cy="704.8" r="2.8"/><circle cx="676.8" cy="723.5" r="2.8"/><circle cx="675.5" cy="724.0" r="2.8"/><circle cx="675.0" cy="727.6" r="2.8"/><circle cx="674.3" cy="706.6" r="2.8"/><circle cx="676.4" cy="712.1" r="2.8"/><circle cx="678.4" cy="724.3" r="2.8"/><circle cx="676.5" cy="717.8" r="2.8"/><circle cx="677.6" cy="722.3" r="2.8"/><circle cx="677.2" cy="734.8" r="2.8"/><circle cx="677.2" cy="724.1" r="2.8"/><circle cx="675.6" cy="716.0" r="2.8"/><circle cx="675.0" cy="714.6" r="2.8"/><circle cx="678.8" cy="725.1" r="2.8"/><circle cx="674.2" cy="716.4" r="2.8"/><circle cx="676.0" cy="728.3" r="2.8"/><circle cx="596.6" cy="713.6" r="2.8"/><circle cx="601.4" cy="718.4" r="2.8"/><circle cx="593.0" cy="726.0" r="2.8"/><circle cx="595.0" cy="724.4" r="2.8"/><circle cx="578.6" cy="749.6" r="2.8"/><circle cx="572.2" cy="757.2" r="2.8"/><circle cx="610.6" cy="783.4" r="2.8"/><circle cx="710.6" cy="722.6" r="2.8"/><circle cx="725.0" cy="720.0" r="2.8"/><circle cx="739.0" cy="714.0" r="2.8"/><circle cx="750.0" cy="789.0" r="2.8"/><circle cx="752.0" cy="791.0" r="2.8"/><circle cx="749.0" cy="793.0" r="2.8"/><circle cx="745.6" cy="798.0" r="2.8"/><circle cx="747.6" cy="801.6" r="2.8"/><circle cx="719.0" cy="824.0" r="2.8"/><circle cx="721.0" cy="825.0" r="2.8"/><circle cx="719.6" cy="828.0" r="2.8"/><circle cx="610.0" cy="841.0" r="2.8"/><circle cx="611.0" cy="848.0" r="2.8"/><circle cx="611.6" cy="853.0" r="2.8"/><circle cx="544.5" cy="766.3" r="2.8"/><circle cx="576.1" cy="777.3" r="2.8"/><circle cx="559.5" cy="782.6" r="2.8"/><circle cx="548.0" cy="774.6" r="2.8"/><circle cx="554.6" cy="779.3" r="2.8"/><circle cx="555.0" cy="770.8" r="2.8"/><circle cx="545.5" cy="777.8" r="2.8"/><circle cx="559.1" cy="766.1" r="2.8"/><circle cx="551.4" cy="765.8" r="2.8"/><circle cx="549.8" cy="769.6" r="2.8"/><circle cx="564.3" cy="770.1" r="2.8"/><circle cx="544.8" cy="769.1" r="2.8"/><circle cx="567.6" cy="765.9" r="2.8"/><circle cx="552.7" cy="773.8" r="2.8"/><circle cx="572.0" cy="780.1" r="2.8"/><circle cx="580.6" cy="773.1" r="2.8"/><circle cx="556.4" cy="764.4" r="2.8"/><circle cx="563.2" cy="775.5" r="2.8"/><circle cx="541.6" cy="771.8" r="2.8"/><circle cx="544.3" cy="771.4" r="2.8"/><circle cx="561.2" cy="774.6" r="2.8"/><circle cx="555.2" cy="773.5" r="2.8"/><circle cx="389.9" cy="850.7" r="2.8"/><circle cx="371.2" cy="746.5" r="2.8"/><circle cx="328.5" cy="807.6" r="2.8"/><circle cx="353.4" cy="857.3" r="2.8"/><circle cx="354.0" cy="771.0" r="2.8"/><circle cx="402.9" cy="817.9" r="2.8"/><circle cx="375.0" cy="765.9" r="2.8"/><circle cx="325.9" cy="734.4" r="2.8"/><circle cx="367.5" cy="813.3" r="2.8"/><circle cx="355.7" cy="724.8" r="2.8"/><circle cx="343.5" cy="746.9" r="2.8"/><circle cx="319.8" cy="766.4" r="2.8"/><circle cx="380.0" cy="837.6" r="2.8"/><circle cx="326.2" cy="750.9" r="2.8"/><circle cx="330.6" cy="722.3" r="2.8"/><circle cx="306.7" cy="829.5" r="2.8"/><circle cx="343.7" cy="814.4" r="2.8"/><circle cx="307.4" cy="858.7" r="2.8"/><circle cx="308.8" cy="798.0" r="2.8"/><circle cx="365.3" cy="787.4" r="2.8"/><circle cx="350.0" cy="785.8" r="2.8"/><circle cx="400.5" cy="810.7" r="2.8"/><circle cx="352.5" cy="740.6" r="2.8"/><circle cx="343.3" cy="800.9" r="2.8"/><circle cx="382.6" cy="731.5" r="2.8"/><circle cx="389.7" cy="745.7" r="2.8"/><circle cx="342.9" cy="732.4" r="2.8"/><circle cx="399.4" cy="832.2" r="2.8"/><circle cx="327.5" cy="862.3" r="2.8"/><circle cx="390.6" cy="792.4" r="2.8"/><circle cx="382.3" cy="803.3" r="2.8"/><circle cx="355.0" cy="795.5" r="2.8"/><circle cx="377.1" cy="857.3" r="2.8"/><circle cx="329.1" cy="828.8" r="2.8"/><circle cx="343.7" cy="827.3" r="2.8"/><circle cx="332.8" cy="781.3" r="2.8"/><circle cx="306.4" cy="818.6" r="2.8"/><circle cx="376.6" cy="795.2" r="2.8"/><circle cx="398.6" cy="784.0" r="2.8"/><circle cx="397.0" cy="845.1" r="2.8"/><circle cx="370.0" cy="773.0" r="2.8"/><circle cx="347.0" cy="721.0" r="2.8"/><circle cx="323.9" cy="817.8" r="2.8"/><circle cx="362.1" cy="739.8" r="2.8"/><circle cx="392.1" cy="758.1" r="2.8"/><circle cx="421.3" cy="818.5" r="2.8"/><circle cx="327.7" cy="845.5" r="2.8"/><circle cx="359.0" cy="779.2" r="2.8"/><circle cx="381.5" cy="750.2" r="2.8"/><circle cx="370.8" cy="844.7" r="2.8"/><circle cx="339.7" cy="770.6" r="2.8"/><circle cx="362.7" cy="777.3" r="2.8"/><circle cx="391.3" cy="816.6" r="2.8"/><circle cx="399.2" cy="800.5" r="2.8"/><circle cx="347.7" cy="809.4" r="2.8"/><circle cx="365.2" cy="851.5" r="2.8"/><circle cx="303.9" cy="852.4" r="2.8"/><circle cx="319.4" cy="773.3" r="2.8"/><circle cx="324.5" cy="851.7" r="2.8"/><circle cx="338.7" cy="838.1" r="2.8"/><circle cx="361.9" cy="794.8" r="2.8"/><circle cx="327.5" cy="759.2" r="2.8"/><circle cx="396.7" cy="803.2" r="2.8"/><circle cx="314.4" cy="795.8" r="2.8"/><circle cx="385.6" cy="779.5" r="2.8"/><circle cx="355.6" cy="820.6" r="2.8"/><circle cx="367.6" cy="754.1" r="2.8"/><circle cx="299.1" cy="806.5" r="2.8"/><circle cx="351.3" cy="832.9" r="2.8"/><circle cx="320.8" cy="783.6" r="2.8"/><circle cx="307.9" cy="807.0" r="2.8"/><circle cx="379.8" cy="796.6" r="2.8"/><circle cx="360.0" cy="834.8" r="2.8"/><circle cx="356.7" cy="850.3" r="2.8"/><circle cx="307.0" cy="811.6" r="2.8"/><circle cx="309.8" cy="842.9" r="2.8"/><circle cx="328.5" cy="739.7" r="2.8"/><circle cx="359.0" cy="840.1" r="2.8"/><circle cx="302.1" cy="817.6" r="2.8"/><circle cx="354.2" cy="807.4" r="2.8"/><circle cx="324.9" cy="764.8" r="2.8"/><circle cx="338.8" cy="777.0" r="2.8"/><circle cx="351.7" cy="717.2" r="2.8"/><circle cx="299.8" cy="825.0" r="2.8"/><circle cx="369.3" cy="785.8" r="2.8"/><circle cx="375.3" cy="819.5" r="2.8"/><circle cx="328.7" cy="795.1" r="2.8"/><circle cx="321.2" cy="860.7" r="2.8"/><circle cx="371.7" cy="854.8" r="2.8"/><circle cx="364.7" cy="792.2" r="2.8"/><circle cx="289.6" cy="830.2" r="2.8"/><circle cx="298.3" cy="833.0" r="2.8"/><circle cx="321.3" cy="801.9" r="2.8"/><circle cx="393.9" cy="812.2" r="2.8"/><circle cx="413.6" cy="821.3" r="2.8"/><circle cx="346.9" cy="850.6" r="2.8"/><circle cx="328.7" cy="766.9" r="2.8"/><circle cx="379.9" cy="830.2" r="2.8"/><circle cx="378.7" cy="761.4" r="2.8"/><circle cx="384.0" cy="831.3" r="2.8"/><circle cx="332.1" cy="848.4" r="2.8"/><circle cx="361.6" cy="729.4" r="2.8"/><circle cx="369.5" cy="798.9" r="2.8"/><circle cx="340.7" cy="786.0" r="2.8"/><circle cx="316.7" cy="848.6" r="2.8"/><circle cx="385.1" cy="823.5" r="2.8"/><circle cx="368.2" cy="838.4" r="2.8"/><circle cx="383.1" cy="773.9" r="2.8"/><circle cx="289.8" cy="824.9" r="2.8"/><circle cx="329.8" cy="748.3" r="2.8"/><circle cx="312.2" cy="854.5" r="2.8"/><circle cx="381.6" cy="786.5" r="2.8"/><circle cx="370.0" cy="804.5" r="2.8"/><circle cx="363.8" cy="752.1" r="2.8"/><circle cx="366.2" cy="759.0" r="2.8"/><circle cx="317.8" cy="859.3" r="2.8"/><circle cx="301.7" cy="801.5" r="2.8"/><circle cx="297.6" cy="848.5" r="2.8"/><circle cx="387.8" cy="807.6" r="2.8"/><circle cx="400.0" cy="840.0" r="2.8"/><circle cx="413.7" cy="814.1" r="2.8"/><circle cx="398.3" cy="849.7" r="2.8"/><circle cx="343.1" cy="859.5" r="2.8"/><circle cx="377.4" cy="824.1" r="2.8"/><circle cx="332.5" cy="773.3" r="2.8"/><circle cx="307.2" cy="847.4" r="2.8"/><circle cx="359.4" cy="838.0" r="2.8"/><circle cx="344.7" cy="777.1" r="2.8"/><circle cx="320.5" cy="796.4" r="2.8"/><circle cx="393.0" cy="767.5" r="2.8"/><circle cx="377.6" cy="798.3" r="2.8"/><circle cx="340.4" cy="780.1" r="2.8"/><circle cx="294.0" cy="837.0" r="2.8"/><circle cx="390.9" cy="753.4" r="2.8"/><circle cx="375.8" cy="842.7" r="2.8"/><circle cx="350.4" cy="854.6" r="2.8"/><circle cx="337.5" cy="850.9" r="2.8"/><circle cx="372.1" cy="728.2" r="2.8"/><circle cx="347.6" cy="824.4" r="2.8"/><circle cx="334.4" cy="729.0" r="2.8"/><circle cx="325.4" cy="798.7" r="2.8"/><circle cx="315.9" cy="823.8" r="2.8"/><circle cx="384.4" cy="837.0" r="2.8"/><circle cx="361.4" cy="842.6" r="2.8"/><circle cx="353.1" cy="755.4" r="2.8"/><circle cx="384.5" cy="756.0" r="2.8"/><circle cx="362.0" cy="744.2" r="2.8"/><circle cx="361.0" cy="827.6" r="2.8"/><circle cx="397.0" cy="781.0" r="2.8"/><circle cx="330.5" cy="731.1" r="2.8"/><circle cx="349.1" cy="835.9" r="2.8"/><circle cx="406.3" cy="826.2" r="2.8"/><circle cx="387.9" cy="789.9" r="2.8"/><circle cx="418.2" cy="823.9" r="2.8"/><circle cx="344.9" cy="842.1" r="2.8"/><circle cx="381.7" cy="825.4" r="2.8"/><circle cx="357.9" cy="757.5" r="2.8"/><circle cx="387.4" cy="825.6" r="2.8"/><circle cx="299.8" cy="846.1" r="2.8"/><circle cx="358.2" cy="818.6" r="2.8"/><circle cx="332.6" cy="830.6" r="2.8"/><circle cx="402.7" cy="796.6" r="2.8"/><circle cx="355.1" cy="791.3" r="2.8"/><circle cx="363.3" cy="845.3" r="2.8"/><circle cx="367.1" cy="729.2" r="2.8"/><circle cx="409.1" cy="830.8" r="2.8"/><circle cx="409.7" cy="806.0" r="2.8"/><circle cx="366.5" cy="735.0" r="2.8"/><circle cx="388.4" cy="738.6" r="2.8"/><circle cx="319.3" cy="789.6" r="2.8"/><circle cx="354.6" cy="764.2" r="2.8"/><circle cx="383.9" cy="859.1" r="2.8"/><circle cx="349.0" cy="755.3" r="2.8"/><circle cx="378.9" cy="808.2" r="2.8"/><circle cx="341.4" cy="745.7" r="2.8"/><circle cx="325.2" cy="772.0" r="2.8"/><circle cx="343.2" cy="846.3" r="2.8"/><circle cx="362.7" cy="802.1" r="2.8"/><circle cx="324.6" cy="780.3" r="2.8"/><circle cx="407.5" cy="828.4" r="2.8"/><circle cx="381.6" cy="847.6" r="2.8"/><circle cx="367.0" cy="823.0" r="2.8"/><circle cx="337.9" cy="819.9" r="2.8"/><circle cx="313.2" cy="775.7" r="2.8"/><circle cx="372.3" cy="756.2" r="2.8"/><circle cx="331.5" cy="799.4" r="2.8"/><circle cx="323.2" cy="775.1" r="2.8"/><circle cx="366.2" cy="820.8" r="2.8"/><circle cx="338.5" cy="847.3" r="2.8"/><circle cx="346.4" cy="737.2" r="2.8"/><circle cx="346.6" cy="766.4" r="2.8"/><circle cx="383.0" cy="791.4" r="2.8"/><circle cx="348.4" cy="803.8" r="2.8"/><circle cx="343.5" cy="715.8" r="2.8"/><circle cx="356.3" cy="755.5" r="2.8"/><circle cx="393.8" cy="841.8" r="2.8"/><circle cx="337.4" cy="858.8" r="2.8"/><circle cx="373.0" cy="834.2" r="2.8"/><circle cx="333.4" cy="806.5" r="2.8"/><circle cx="320.9" cy="780.8" r="2.8"/><circle cx="342.8" cy="831.3" r="2.8"/><circle cx="361.1" cy="808.1" r="2.8"/><circle cx="313.3" cy="826.4" r="2.8"/><circle cx="333.0" cy="836.6" r="2.8"/><circle cx="337.8" cy="791.5" r="2.8"/><circle cx="302.7" cy="853.7" r="2.8"/><circle cx="309.6" cy="794.4" r="2.8"/><circle cx="326.2" cy="785.4" r="2.8"/><circle cx="385.3" cy="751.6" r="2.8"/><circle cx="373.8" cy="828.1" r="2.8"/><circle cx="396.9" cy="823.7" r="2.8"/><circle cx="292.3" cy="824.6" r="2.8"/><circle cx="314.9" cy="782.6" r="2.8"/><circle cx="317.2" cy="834.2" r="2.8"/><circle cx="348.9" cy="792.0" r="2.8"/><circle cx="400.6" cy="828.1" r="2.8"/><circle cx="339.0" cy="736.7" r="2.8"/><circle cx="304.5" cy="843.2" r="2.8"/><circle cx="406.0" cy="805.7" r="2.8"/><circle cx="338.9" cy="779.6" r="2.8"/><circle cx="301.2" cy="813.6" r="2.8"/><circle cx="317.8" cy="816.2" r="2.8"/><circle cx="339.8" cy="826.2" r="2.8"/><circle cx="334.1" cy="722.9" r="2.8"/><circle cx="374.6" cy="724.4" r="2.8"/><circle cx="402.1" cy="821.9" r="2.8"/><circle cx="378.3" cy="845.7" r="2.8"/><circle cx="332.9" cy="767.4" r="2.8"/><circle cx="373.0" cy="751.7" r="2.8"/><circle cx="326.2" cy="783.0" r="2.8"/><circle cx="318.9" cy="800.1" r="2.8"/><circle cx="316.5" cy="844.0" r="2.8"/><circle cx="321.7" cy="772.4" r="2.8"/><circle cx="323.9" cy="826.3" r="2.8"/><circle cx="361.2" cy="781.3" r="2.8"/><circle cx="325.7" cy="767.8" r="2.8"/><circle cx="393.6" cy="849.4" r="2.8"/><circle cx="341.3" cy="836.7" r="2.8"/><circle cx="381.9" cy="821.2" r="2.8"/><circle cx="321.4" cy="808.2" r="2.8"/><circle cx="355.7" cy="734.1" r="2.8"/><circle cx="314.1" cy="858.1" r="2.8"/><circle cx="296.6" cy="814.1" r="2.8"/><circle cx="376.8" cy="750.0" r="2.8"/><circle cx="347.6" cy="779.9" r="2.8"/><circle cx="301.4" cy="851.5" r="2.8"/><circle cx="331.4" cy="785.2" r="2.8"/><circle cx="330.8" cy="812.0" r="2.8"/><circle cx="397.0" cy="766.8" r="2.8"/><circle cx="295.6" cy="817.8" r="2.8"/><circle cx="361.4" cy="723.0" r="2.8"/><circle cx="389.6" cy="761.6" r="2.8"/><circle cx="366.7" cy="782.4" r="2.8"/><circle cx="335.8" cy="817.5" r="2.8"/><circle cx="350.1" cy="846.1" r="2.8"/><circle cx="328.7" cy="726.6" r="2.8"/><circle cx="394.2" cy="827.7" r="2.8"/><circle cx="346.1" cy="771.4" r="2.8"/><circle cx="338.0" cy="761.9" r="2.8"/><circle cx="349.9" cy="734.1" r="2.8"/><circle cx="388.0" cy="776.4" r="2.8"/><circle cx="384.6" cy="800.1" r="2.8"/><circle cx="350.7" cy="725.3" r="2.8"/><circle cx="366.4" cy="859.4" r="2.8"/><circle cx="385.9" cy="852.3" r="2.8"/><circle cx="361.0" cy="814.8" r="2.8"/><circle cx="354.7" cy="801.6" r="2.8"/><circle cx="337.3" cy="862.4" r="2.8"/><circle cx="357.9" cy="802.7" r="2.8"/><circle cx="392.3" cy="818.7" r="2.8"/><circle cx="347.9" cy="768.2" r="2.8"/><circle cx="360.4" cy="824.1" r="2.8"/><circle cx="403.0" cy="836.8" r="2.8"/><circle cx="295.2" cy="830.2" r="2.8"/><circle cx="345.1" cy="802.6" r="2.8"/><circle cx="312.3" cy="821.5" r="2.8"/><circle cx="351.4" cy="748.7" r="2.8"/><circle cx="377.2" cy="732.7" r="2.8"/><circle cx="339.5" cy="842.6" r="2.8"/><circle cx="335.8" cy="757.2" r="2.8"/><circle cx="405.0" cy="823.4" r="2.8"/><circle cx="312.7" cy="774.2" r="2.8"/><circle cx="326.4" cy="746.5" r="2.8"/><circle cx="359.0" cy="748.0" r="2.8"/><circle cx="384.4" cy="812.7" r="2.8"/><circle cx="390.3" cy="785.1" r="2.8"/><circle cx="362.5" cy="818.7" r="2.8"/><circle cx="367.8" cy="802.0" r="2.8"/><circle cx="385.5" cy="769.2" r="2.8"/><circle cx="373.3" cy="794.9" r="2.8"/><circle cx="362.6" cy="773.7" r="2.8"/><circle cx="374.7" cy="732.1" r="2.8"/><circle cx="325.3" cy="840.7" r="2.8"/><circle cx="336.4" cy="808.5" r="2.8"/><circle cx="365.6" cy="818.0" r="2.8"/><circle cx="382.6" cy="827.9" r="2.8"/><circle cx="298.9" cy="809.0" r="2.8"/><circle cx="366.5" cy="784.5" r="2.8"/><circle cx="375.4" cy="822.2" r="2.8"/><circle cx="371.3" cy="790.4" r="2.8"/><circle cx="387.6" cy="822.3" r="2.8"/><circle cx="410.7" cy="824.8" r="2.8"/><circle cx="333.8" cy="854.1" r="2.8"/><circle cx="339.1" cy="803.3" r="2.8"/><circle cx="346.2" cy="833.6" r="2.8"/><circle cx="358.8" cy="829.1" r="2.8"/><circle cx="389.5" cy="733.5" r="2.8"/><circle cx="374.4" cy="785.0" r="2.8"/><circle cx="312.8" cy="833.1" r="2.8"/><circle cx="304.5" cy="849.2" r="2.8"/><circle cx="375.8" cy="735.8" r="2.8"/><circle cx="385.5" cy="833.9" r="2.8"/><circle cx="370.3" cy="810.2" r="2.8"/><circle cx="369.8" cy="779.1" r="2.8"/><circle cx="394.4" cy="854.0" r="2.8"/><circle cx="328.2" cy="857.0" r="2.8"/><circle cx="396.7" cy="776.5" r="2.8"/><circle cx="397.9" cy="821.7" r="2.8"/><circle cx="300.8" cy="804.3" r="2.8"/><circle cx="368.6" cy="820.9" r="2.8"/><circle cx="353.2" cy="839.4" r="2.8"/><circle cx="350.6" cy="816.9" r="2.8"/><circle cx="371.7" cy="848.1" r="2.8"/><circle cx="383.3" cy="735.2" r="2.8"/><circle cx="304.6" cy="838.3" r="2.8"/><circle cx="376.2" cy="800.8" r="2.8"/><circle cx="362.8" cy="792.2" r="2.8"/><circle cx="365.1" cy="840.6" r="2.8"/><circle cx="368.4" cy="725.6" r="2.8"/><circle cx="381.3" cy="763.8" r="2.8"/><circle cx="319.2" cy="837.6" r="2.8"/><circle cx="378.0" cy="770.3" r="2.8"/><circle cx="319.0" cy="832.1" r="2.8"/><circle cx="319.8" cy="825.2" r="2.8"/><circle cx="353.1" cy="804.8" r="2.8"/><circle cx="346.3" cy="743.7" r="2.8"/><circle cx="333.1" cy="777.7" r="2.8"/><circle cx="338.1" cy="721.1" r="2.8"/><circle cx="331.7" cy="757.3" r="2.8"/><circle cx="323.9" cy="854.3" r="2.8"/><circle cx="336.4" cy="843.4" r="2.8"/><circle cx="396.8" cy="813.4" r="2.8"/><circle cx="389.5" cy="836.7" r="2.8"/><circle cx="374.5" cy="753.7" r="2.8"/><circle cx="359.5" cy="833.0" r="2.8"/><circle cx="394.4" cy="810.2" r="2.8"/><circle cx="337.1" cy="732.8" r="2.8"/><circle cx="339.3" cy="748.0" r="2.8"/><circle cx="386.9" cy="804.2" r="2.8"/><circle cx="345.4" cy="752.8" r="2.8"/><circle cx="328.6" cy="808.1" r="2.8"/><circle cx="354.1" cy="721.4" r="2.8"/><circle cx="375.4" cy="807.3" r="2.8"/><circle cx="312.2" cy="815.4" r="2.8"/><circle cx="355.1" cy="718.6" r="2.8"/><circle cx="356.1" cy="809.2" r="2.8"/><circle cx="389.1" cy="755.1" r="2.8"/><circle cx="354.8" cy="767.2" r="2.8"/><circle cx="362.3" cy="850.1" r="2.8"/><circle cx="318.5" cy="820.2" r="2.8"/><circle cx="354.0" cy="774.5" r="2.8"/><circle cx="374.7" cy="850.9" r="2.8"/><circle cx="346.2" cy="797.4" r="2.8"/><circle cx="328.0" cy="735.2" r="2.8"/><circle cx="369.9" cy="842.3" r="2.8"/><circle cx="402.6" cy="844.7" r="2.8"/><circle cx="372.5" cy="747.4" r="2.8"/><circle cx="323.3" cy="756.5" r="2.8"/><circle cx="343.6" cy="792.3" r="2.8"/><circle cx="370.1" cy="815.4" r="2.8"/><circle cx="345.1" cy="814.1" r="2.8"/><circle cx="375.5" cy="742.5" r="2.8"/><circle cx="332.9" cy="788.7" r="2.8"/><circle cx="314.6" cy="800.9" r="2.8"/><circle cx="336.5" cy="746.3" r="2.8"/><circle cx="344.3" cy="731.9" r="2.8"/><circle cx="321.6" cy="734.1" r="2.8"/><circle cx="400.4" cy="834.7" r="2.8"/><circle cx="405.3" cy="832.3" r="2.8"/><circle cx="328.6" cy="853.1" r="2.8"/><circle cx="345.3" cy="824.5" r="2.8"/><circle cx="395.4" cy="799.6" r="2.8"/><circle cx="305.5" cy="807.3" r="2.8"/><circle cx="356.7" cy="750.4" r="2.8"/><circle cx="363.5" cy="832.2" r="2.8"/><circle cx="404.1" cy="815.4" r="2.8"/><circle cx="357.9" cy="798.8" r="2.8"/><circle cx="363.3" cy="768.1" r="2.8"/><circle cx="360.3" cy="773.1" r="2.8"/><circle cx="388.5" cy="748.1" r="2.8"/><circle cx="305.4" cy="795.8" r="2.8"/><circle cx="368.4" cy="811.0" r="2.8"/><circle cx="378.7" cy="804.1" r="2.8"/><circle cx="327.9" cy="861.4" r="2.8"/><circle cx="394.3" cy="771.2" r="2.8"/><circle cx="355.3" cy="726.6" r="2.8"/><circle cx="392.4" cy="795.7" r="2.8"/><circle cx="358.3" cy="742.3" r="2.8"/><circle cx="358.3" cy="731.9" r="2.8"/><circle cx="378.2" cy="839.3" r="2.8"/><circle cx="399.5" cy="810.4" r="2.8"/><circle cx="310.2" cy="809.1" r="2.8"/><circle cx="341.3" cy="773.9" r="2.8"/><circle cx="296.7" cy="841.2" r="2.8"/><circle cx="372.1" cy="782.2" r="2.8"/><circle cx="359.6" cy="760.2" r="2.8"/><circle cx="353.5" cy="834.1" r="2.8"/><circle cx="404.0" cy="779.1" r="2.8"/><circle cx="378.1" cy="757.0" r="2.8"/><circle cx="349.2" cy="858.3" r="2.8"/><circle cx="358.0" cy="854.5" r="2.8"/><circle cx="395.7" cy="790.9" r="2.8"/><circle cx="381.2" cy="771.0" r="2.8"/><circle cx="340.0" cy="739.7" r="2.8"/><circle cx="315.8" cy="772.0" r="2.8"/><circle cx="324.2" cy="818.5" r="2.8"/><circle cx="316.0" cy="836.7" r="2.8"/><circle cx="351.7" cy="760.9" r="2.8"/><circle cx="332.9" cy="859.0" r="2.8"/><circle cx="309.5" cy="855.0" r="2.8"/><circle cx="336.3" cy="852.9" r="2.8"/><circle cx="371.8" cy="823.7" r="2.8"/><circle cx="377.0" cy="726.3" r="2.8"/><circle cx="376.9" cy="813.9" r="2.8"/><circle cx="390.0" cy="812.1" r="2.8"/><circle cx="334.5" cy="779.2" r="2.8"/><circle cx="378.2" cy="856.0" r="2.8"/><circle cx="315.4" cy="820.5" r="2.8"/><circle cx="391.5" cy="845.0" r="2.8"/><circle cx="314.1" cy="812.7" r="2.8"/><circle cx="352.8" cy="796.9" r="2.8"/><circle cx="364.9" cy="774.2" r="2.8"/><circle cx="341.3" cy="756.0" r="2.8"/><circle cx="340.0" cy="821.4" r="2.8"/><circle cx="321.9" cy="833.6" r="2.8"/><circle cx="387.6" cy="800.8" r="2.8"/><circle cx="326.0" cy="805.0" r="2.8"/><circle cx="330.4" cy="780.0" r="2.8"/><circle cx="378.5" cy="850.1" r="2.8"/><circle cx="387.7" cy="839.2" r="2.8"/><circle cx="383.6" cy="777.1" r="2.8"/><circle cx="401.5" cy="785.8" r="2.8"/><circle cx="362.0" cy="753.2" r="2.8"/><circle cx="329.0" cy="846.5" r="2.8"/><circle cx="346.7" cy="748.8" r="2.8"/><circle cx="369.3" cy="748.7" r="2.8"/><circle cx="322.4" cy="785.4" r="2.8"/><circle cx="325.6" cy="843.9" r="2.8"/><circle cx="371.8" cy="851.8" r="2.8"/><circle cx="294.0" cy="847.7" r="2.8"/><circle cx="332.2" cy="828.3" r="2.8"/><circle cx="319.4" cy="862.7" r="2.8"/><circle cx="340.8" cy="799.0" r="2.8"/><circle cx="316.1" cy="780.6" r="2.8"/><circle cx="306.4" cy="823.0" r="2.8"/><circle cx="391.8" cy="778.7" r="2.8"/><circle cx="388.7" cy="855.3" r="2.8"/><circle cx="354.2" cy="813.9" r="2.8"/><circle cx="406.4" cy="801.5" r="2.8"/><circle cx="362.8" cy="786.7" r="2.8"/><circle cx="349.1" cy="773.3" r="2.8"/><circle cx="296.5" cy="843.4" r="2.8"/><circle cx="301.7" cy="836.6" r="2.8"/><circle cx="316.8" cy="847.5" r="2.8"/><circle cx="345.4" cy="854.3" r="2.8"/><circle cx="414.9" cy="830.3" r="2.8"/><circle cx="330.9" cy="770.5" r="2.8"/><circle cx="343.1" cy="778.7" r="2.8"/><circle cx="380.3" cy="728.7" r="2.8"/><circle cx="305.9" cy="801.4" r="2.8"/><circle cx="332.6" cy="843.2" r="2.8"/><circle cx="328.3" cy="838.1" r="2.8"/><circle cx="335.0" cy="810.8" r="2.8"/><circle cx="366.2" cy="723.1" r="2.8"/><circle cx="356.8" cy="793.1" r="2.8"/><circle cx="368.2" cy="783.0" r="2.8"/><circle cx="395.7" cy="820.4" r="2.8"/><circle cx="327.8" cy="821.5" r="2.8"/><circle cx="354.2" cy="742.2" r="2.8"/><circle cx="367.0" cy="745.7" r="2.8"/><circle cx="305.5" cy="858.1" r="2.8"/><circle cx="366.6" cy="779.1" r="2.8"/><circle cx="383.7" cy="785.0" r="2.8"/><circle cx="372.2" cy="730.4" r="2.8"/><circle cx="304.4" cy="845.3" r="2.8"/><circle cx="287.5" cy="829.0" r="2.8"/><circle cx="335.0" cy="795.1" r="2.8"/><circle cx="369.3" cy="774.8" r="2.8"/><circle cx="379.7" cy="736.2" r="2.8"/><circle cx="367.2" cy="847.8" r="2.8"/><circle cx="330.8" cy="754.0" r="2.8"/><circle cx="324.9" cy="739.8" r="2.8"/><circle cx="311.2" cy="803.8" r="2.8"/><circle cx="315.7" cy="794.6" r="2.8"/><circle cx="334.8" cy="754.8" r="2.8"/><circle cx="356.6" cy="822.6" r="2.8"/><circle cx="387.2" cy="793.3" r="2.8"/><circle cx="303.5" cy="821.8" r="2.8"/><circle cx="349.3" cy="782.7" r="2.8"/><circle cx="316.9" cy="861.2" r="2.8"/><circle cx="358.3" cy="769.9" r="2.8"/><circle cx="328.3" cy="793.4" r="2.8"/><circle cx="354.2" cy="764.0" r="2.8"/><circle cx="396.7" cy="826.9" r="2.8"/><circle cx="304.0" cy="799.3" r="2.8"/><circle cx="388.1" cy="765.2" r="2.8"/><circle cx="404.7" cy="818.0" r="2.8"/><circle cx="378.4" cy="785.5" r="2.8"/><circle cx="317.6" cy="853.9" r="2.8"/><circle cx="308.9" cy="857.3" r="2.8"/><circle cx="330.8" cy="762.4" r="2.8"/><circle cx="407.3" cy="831.2" r="2.8"/><circle cx="385.2" cy="790.3" r="2.8"/><circle cx="398.3" cy="847.9" r="2.8"/><circle cx="313.3" cy="798.5" r="2.8"/><circle cx="343.1" cy="822.8" r="2.8"/><circle cx="294.8" cy="837.2" r="2.8"/><circle cx="355.2" cy="752.6" r="2.8"/><circle cx="351.6" cy="823.7" r="2.8"/><circle cx="365.3" cy="770.6" r="2.8"/><circle cx="353.5" cy="854.4" r="2.8"/><circle cx="377.7" cy="763.1" r="2.8"/><circle cx="331.3" cy="739.1" r="2.8"/><circle cx="317.9" cy="766.3" r="2.8"/><circle cx="332.1" cy="832.8" r="2.8"/><circle cx="376.1" cy="804.2" r="2.8"/><circle cx="384.2" cy="845.3" r="2.8"/><circle cx="377.1" cy="772.4" r="2.8"/><circle cx="310.2" cy="843.6" r="2.8"/><circle cx="303.4" cy="830.0" r="2.8"/><circle cx="339.3" cy="831.7" r="2.8"/><circle cx="375.0" cy="836.6" r="2.8"/><circle cx="376.0" cy="818.2" r="2.8"/><circle cx="308.7" cy="826.6" r="2.8"/><circle cx="373.0" cy="757.6" r="2.8"/><circle cx="327.1" cy="844.6" r="2.8"/><circle cx="321.2" cy="776.7" r="2.8"/><circle cx="341.2" cy="724.7" r="2.8"/><circle cx="429.7" cy="859.2" r="2.8"/><circle cx="436.7" cy="844.4" r="2.8"/><circle cx="446.1" cy="854.9" r="2.8"/><circle cx="424.2" cy="848.7" r="2.8"/><circle cx="414.0" cy="814.0" r="2.8"/><circle cx="422.6" cy="861.9" r="2.8"/><circle cx="447.8" cy="835.0" r="2.8"/><circle cx="441.0" cy="830.4" r="2.8"/><circle cx="425.0" cy="827.0" r="2.8"/><circle cx="436.4" cy="852.1" r="2.8"/><circle cx="417.0" cy="822.1" r="2.8"/><circle cx="424.6" cy="840.2" r="2.8"/><circle cx="436.8" cy="840.6" r="2.8"/><circle cx="433.4" cy="838.1" r="2.8"/><circle cx="440.3" cy="867.1" r="2.8"/><circle cx="447.0" cy="847.3" r="2.8"/><circle cx="426.8" cy="837.3" r="2.8"/><circle cx="444.1" cy="842.1" r="2.8"/><circle cx="447.9" cy="859.6" r="2.8"/><circle cx="438.8" cy="859.0" r="2.8"/><circle cx="419.6" cy="843.3" r="2.8"/><circle cx="445.2" cy="832.6" r="2.8"/><circle cx="430.2" cy="834.3" r="2.8"/><circle cx="440.2" cy="835.7" r="2.8"/><circle cx="431.0" cy="852.8" r="2.8"/><circle cx="429.1" cy="847.1" r="2.8"/><circle cx="430.0" cy="866.9" r="2.8"/><circle cx="434.5" cy="857.5" r="2.8"/><circle cx="433.6" cy="841.1" r="2.8"/><circle cx="434.2" cy="863.2" r="2.8"/><circle cx="426.6" cy="855.0" r="2.8"/><circle cx="419.6" cy="828.8" r="2.8"/><circle cx="423.4" cy="845.8" r="2.8"/><circle cx="424.7" cy="830.8" r="2.8"/><circle cx="448.6" cy="840.6" r="2.8"/><circle cx="439.7" cy="856.8" r="2.8"/><circle cx="437.0" cy="835.6" r="2.8"/><circle cx="446.0" cy="857.8" r="2.8"/><circle cx="427.3" cy="865.6" r="2.8"/><circle cx="436.0" cy="827.9" r="2.8"/><circle cx="454.6" cy="843.4" r="2.8"/><circle cx="435.3" cy="868.6" r="2.8"/><circle cx="423.0" cy="855.3" r="2.8"/><circle cx="440.5" cy="854.7" r="2.8"/><circle cx="420.9" cy="821.7" r="2.8"/><circle cx="450.4" cy="838.5" r="2.8"/><circle cx="439.0" cy="828.2" r="2.8"/><circle cx="450.2" cy="855.0" r="2.8"/><circle cx="460.1" cy="864.3" r="2.8"/><circle cx="488.9" cy="874.7" r="2.8"/><circle cx="493.9" cy="883.0" r="2.8"/><circle cx="514.7" cy="874.7" r="2.8"/><circle cx="471.1" cy="856.4" r="2.8"/><circle cx="499.1" cy="878.1" r="2.8"/><circle cx="459.4" cy="844.2" r="2.8"/><circle cx="473.1" cy="871.2" r="2.8"/><circle cx="480.8" cy="855.5" r="2.8"/><circle cx="485.5" cy="861.9" r="2.8"/><circle cx="494.9" cy="871.2" r="2.8"/><circle cx="505.5" cy="869.9" r="2.8"/><circle cx="456.3" cy="856.9" r="2.8"/><circle cx="482.0" cy="865.5" r="2.8"/><circle cx="465.5" cy="858.8" r="2.8"/><circle cx="450.2" cy="864.0" r="2.8"/><circle cx="502.4" cy="874.9" r="2.8"/><circle cx="462.6" cy="852.1" r="2.8"/><circle cx="480.5" cy="875.5" r="2.8"/><circle cx="468.8" cy="847.8" r="2.8"/><circle cx="469.3" cy="862.7" r="2.8"/><circle cx="506.6" cy="881.9" r="2.8"/><circle cx="465.5" cy="849.6" r="2.8"/><circle cx="498.0" cy="873.4" r="2.8"/><circle cx="475.9" cy="853.0" r="2.8"/><circle cx="485.6" cy="874.5" r="2.8"/><circle cx="467.8" cy="868.0" r="2.8"/><circle cx="475.5" cy="859.0" r="2.8"/><circle cx="482.7" cy="875.1" r="2.8"/><circle cx="507.9" cy="874.8" r="2.8"/><circle cx="503.1" cy="878.4" r="2.8"/><circle cx="463.5" cy="860.5" r="2.8"/><circle cx="460.0" cy="857.6" r="2.8"/><circle cx="475.2" cy="867.3" r="2.8"/><circle cx="500.8" cy="882.3" r="2.8"/><circle cx="455.3" cy="850.1" r="2.8"/><circle cx="486.5" cy="879.0" r="2.8"/><circle cx="452.1" cy="856.5" r="2.8"/><circle cx="501.0" cy="869.7" r="2.8"/><circle cx="477.6" cy="870.2" r="2.8"/><circle cx="455.2" cy="863.0" r="2.8"/><circle cx="497.3" cy="867.5" r="2.8"/><circle cx="458.1" cy="856.7" r="2.8"/><circle cx="451.9" cy="860.5" r="2.8"/><circle cx="496.4" cy="875.4" r="2.8"/><circle cx="458.0" cy="847.6" r="2.8"/><circle cx="491.6" cy="864.2" r="2.8"/><circle cx="492.0" cy="878.8" r="2.8"/><circle cx="468.2" cy="857.4" r="2.8"/><circle cx="479.8" cy="861.1" r="2.8"/><circle cx="482.7" cy="867.8" r="2.8"/><circle cx="471.8" cy="852.6" r="2.8"/><circle cx="478.6" cy="868.5" r="2.8"/><circle cx="477.6" cy="865.0" r="2.8"/><circle cx="468.6" cy="852.6" r="2.8"/><circle cx="497.3" cy="878.8" r="2.8"/><circle cx="478.5" cy="872.8" r="2.8"/><circle cx="463.0" cy="864.1" r="2.8"/><circle cx="465.3" cy="864.1" r="2.8"/><circle cx="474.2" cy="855.7" r="2.8"/><circle cx="467.6" cy="849.0" r="2.8"/><circle cx="507.7" cy="871.8" r="2.8"/><circle cx="502.9" cy="872.6" r="2.8"/><circle cx="464.3" cy="866.2" r="2.8"/><circle cx="490.7" cy="882.1" r="2.8"/><circle cx="460.7" cy="854.9" r="2.8"/><circle cx="487.7" cy="864.7" r="2.8"/><circle cx="502.3" cy="883.9" r="2.8"/><circle cx="486.8" cy="868.5" r="2.8"/><circle cx="466.4" cy="854.4" r="2.8"/><circle cx="490.8" cy="872.5" r="2.8"/><circle cx="476.3" cy="862.8" r="2.8"/><circle cx="491.8" cy="877.1" r="2.8"/><circle cx="453.1" cy="865.1" r="2.8"/><circle cx="509.1" cy="882.2" r="2.8"/><circle cx="482.2" cy="859.1" r="2.8"/><circle cx="512.0" cy="879.8" r="2.8"/><circle cx="487.8" cy="879.6" r="2.8"/><circle cx="457.9" cy="852.2" r="2.8"/><circle cx="464.4" cy="855.8" r="2.8"/><circle cx="460.5" cy="852.5" r="2.8"/><circle cx="456.0" cy="842.2" r="2.8"/><circle cx="472.7" cy="861.1" r="2.8"/><circle cx="470.8" cy="847.4" r="2.8"/><circle cx="512.7" cy="875.2" r="2.8"/><circle cx="480.5" cy="871.5" r="2.8"/><circle cx="473.7" cy="848.6" r="2.8"/><circle cx="460.8" cy="846.4" r="2.8"/><circle cx="478.2" cy="857.0" r="2.8"/><circle cx="509.9" cy="877.2" r="2.8"/><circle cx="471.4" cy="868.5" r="2.8"/><circle cx="502.9" cy="882.3" r="2.8"/><circle cx="485.7" cy="865.5" r="2.8"/><circle cx="462.1" cy="866.7" r="2.8"/><circle cx="476.8" cy="859.4" r="2.8"/><circle cx="367.5" cy="864.0" r="2.8"/><circle cx="392.6" cy="871.6" r="2.8"/><circle cx="496.0" cy="907.8" r="2.8"/><circle cx="507.9" cy="909.5" r="2.8"/><circle cx="382.7" cy="859.0" r="2.8"/><circle cx="395.7" cy="862.2" r="2.8"/><circle cx="404.3" cy="860.5" r="2.8"/><circle cx="495.3" cy="885.0" r="2.8"/><circle cx="610.8" cy="783.4" r="2.8"/><circle cx="751.2" cy="788.6" r="2.8"/><circle cx="749.4" cy="790.8" r="2.8"/><circle cx="747.9" cy="793.6" r="2.8"/><circle cx="745.3" cy="798.6" r="2.8"/><circle cx="747.5" cy="801.8" r="2.8"/><circle cx="752.2" cy="790.3" r="2.8"/><circle cx="791.2" cy="785.6" r="2.8"/><circle cx="807.5" cy="779.1" r="2.8"/><circle cx="806.4" cy="784.9" r="2.8"/><circle cx="801.0" cy="790.3" r="2.8"/><circle cx="718.7" cy="823.9" r="2.8"/><circle cx="721.9" cy="824.6" r="2.8"/><circle cx="719.8" cy="827.6" r="2.8"/><circle cx="610.3" cy="840.2" r="2.8"/><circle cx="611.0" cy="847.8" r="2.8"/><circle cx="612.1" cy="853.2" r="2.8"/><circle cx="628.1" cy="877.0" r="2.8"/><circle cx="642.8" cy="908.4" r="2.8"/><circle cx="641.3" cy="915.6" r="2.8"/><circle cx="655.8" cy="916.4" r="2.8"/><circle cx="664.5" cy="918.8" r="2.8"/><circle cx="670.4" cy="921.4" r="2.8"/><circle cx="655.4" cy="978.8" r="2.8"/><circle cx="709.1" cy="851.9" r="2.8"/><circle cx="730.1" cy="859.8" r="2.8"/><circle cx="716.3" cy="840.2" r="2.8"/><circle cx="721.2" cy="856.2" r="2.8"/><circle cx="726.8" cy="849.4" r="2.8"/><circle cx="736.3" cy="849.3" r="2.8"/><circle cx="713.6" cy="856.5" r="2.8"/><circle cx="725.7" cy="843.8" r="2.8"/><circle cx="725.2" cy="853.0" r="2.8"/><circle cx="706.0" cy="846.1" r="2.8"/><circle cx="696.7" cy="850.2" r="2.8"/><circle cx="719.6" cy="852.2" r="2.8"/><circle cx="710.0" cy="855.6" r="2.8"/><circle cx="740.6" cy="843.6" r="2.8"/><circle cx="699.3" cy="846.7" r="2.8"/><circle cx="699.1" cy="854.2" r="2.8"/><circle cx="717.9" cy="847.8" r="2.8"/><circle cx="726.6" cy="860.7" r="2.8"/><circle cx="709.2" cy="846.5" r="2.8"/><circle cx="731.2" cy="854.4" r="2.8"/><circle cx="702.6" cy="858.5" r="2.8"/><circle cx="710.7" cy="842.0" r="2.8"/><circle cx="721.9" cy="844.8" r="2.8"/><circle cx="728.1" cy="855.6" r="2.8"/><circle cx="724.1" cy="839.4" r="2.8"/><circle cx="734.8" cy="854.1" r="2.8"/><circle cx="706.6" cy="857.0" r="2.8"/><circle cx="728.1" cy="843.5" r="2.8"/><circle cx="702.3" cy="847.5" r="2.8"/><circle cx="705.0" cy="851.6" r="2.8"/><circle cx="737.6" cy="853.1" r="2.8"/><circle cx="713.2" cy="845.0" r="2.8"/><circle cx="723.5" cy="842.0" r="2.8"/><circle cx="710.1" cy="839.3" r="2.8"/><circle cx="710.7" cy="852.8" r="2.8"/><circle cx="706.0" cy="840.3" r="2.8"/><circle cx="716.4" cy="858.5" r="2.8"/><circle cx="718.5" cy="856.0" r="2.8"/><circle cx="727.3" cy="846.1" r="2.8"/><circle cx="703.0" cy="844.8" r="2.8"/><circle cx="739.1" cy="846.0" r="2.8"/><circle cx="694.8" cy="846.0" r="2.8"/><circle cx="713.6" cy="847.6" r="2.8"/><circle cx="714.1" cy="859.1" r="2.8"/><circle cx="730.6" cy="851.0" r="2.8"/><circle cx="718.1" cy="841.4" r="2.8"/><circle cx="743.4" cy="842.1" r="2.8"/><circle cx="710.8" cy="860.7" r="2.8"/><circle cx="696.5" cy="857.8" r="2.8"/><circle cx="698.8" cy="851.5" r="2.8"/><circle cx="721.1" cy="858.9" r="2.8"/><circle cx="724.4" cy="851.0" r="2.8"/><circle cx="705.2" cy="853.3" r="2.8"/><circle cx="716.1" cy="846.2" r="2.8"/><circle cx="730.3" cy="847.8" r="2.8"/><circle cx="696.2" cy="844.5" r="2.8"/><circle cx="724.1" cy="848.9" r="2.8"/><circle cx="701.3" cy="850.1" r="2.8"/><circle cx="723.3" cy="852.3" r="2.8"/><circle cx="712.8" cy="840.8" r="2.8"/><circle cx="720.5" cy="843.3" r="2.8"/><circle cx="734.8" cy="851.1" r="2.8"/><circle cx="700.2" cy="856.2" r="2.8"/><circle cx="709.7" cy="858.3" r="2.8"/><circle cx="706.4" cy="843.7" r="2.8"/><circle cx="729.0" cy="853.4" r="2.8"/><circle cx="727.6" cy="840.7" r="2.8"/><circle cx="714.0" cy="842.2" r="2.8"/><circle cx="703.3" cy="841.8" r="2.8"/><circle cx="713.4" cy="853.1" r="2.8"/><circle cx="695.0" cy="849.2" r="2.8"/><circle cx="720.6" cy="846.1" r="2.8"/><circle cx="698.7" cy="843.1" r="2.8"/><circle cx="721.9" cy="840.0" r="2.8"/><circle cx="714.4" cy="851.0" r="2.8"/><circle cx="635.4" cy="902.0" r="2.8"/><circle cx="632.0" cy="920.5" r="2.8"/><circle cx="627.2" cy="887.4" r="2.8"/><circle cx="632.1" cy="895.0" r="2.8"/><circle cx="617.4" cy="868.1" r="2.8"/><circle cx="637.4" cy="909.9" r="2.8"/><circle cx="630.5" cy="894.2" r="2.8"/><circle cx="632.5" cy="920.3" r="2.8"/><circle cx="624.8" cy="924.5" r="2.8"/><circle cx="627.8" cy="885.2" r="2.8"/><circle cx="637.4" cy="912.8" r="2.8"/><circle cx="638.3" cy="912.2" r="2.8"/><circle cx="626.5" cy="884.5" r="2.8"/><circle cx="629.7" cy="891.3" r="2.8"/><circle cx="636.1" cy="899.2" r="2.8"/><circle cx="630.3" cy="920.3" r="2.8"/><circle cx="616.5" cy="866.1" r="2.8"/><circle cx="635.6" cy="916.3" r="2.8"/><circle cx="619.7" cy="873.1" r="2.8"/><circle cx="628.7" cy="889.2" r="2.8"/><circle cx="632.8" cy="918.7" r="2.8"/><circle cx="621.9" cy="877.4" r="2.8"/><circle cx="631.7" cy="891.7" r="2.8"/><circle cx="619.6" cy="873.6" r="2.8"/><circle cx="625.3" cy="881.8" r="2.8"/><circle cx="633.0" cy="918.5" r="2.8"/><circle cx="627.1" cy="886.1" r="2.8"/><circle cx="637.9" cy="902.0" r="2.8"/><circle cx="632.3" cy="920.1" r="2.8"/><circle cx="637.6" cy="913.7" r="2.8"/><circle cx="625.1" cy="883.1" r="2.8"/><circle cx="634.1" cy="915.5" r="2.8"/><circle cx="625.9" cy="883.4" r="2.8"/><circle cx="627.3" cy="884.4" r="2.8"/><circle cx="637.3" cy="914.3" r="2.8"/><circle cx="637.4" cy="907.5" r="2.8"/><circle cx="635.5" cy="902.1" r="2.8"/><circle cx="619.3" cy="868.4" r="2.8"/><circle cx="635.2" cy="918.1" r="2.8"/><circle cx="628.7" cy="888.9" r="2.8"/><circle cx="637.9" cy="911.9" r="2.8"/><circle cx="631.5" cy="919.5" r="2.8"/><circle cx="628.0" cy="888.7" r="2.8"/><circle cx="615.1" cy="866.2" r="2.8"/><circle cx="635.3" cy="914.7" r="2.8"/><circle cx="619.5" cy="875.9" r="2.8"/><circle cx="703.0" cy="935.1" r="2.8"/><circle cx="692.0" cy="929.6" r="2.8"/><circle cx="701.7" cy="935.2" r="2.8"/><circle cx="693.9" cy="930.2" r="2.8"/><circle cx="698.9" cy="933.8" r="2.8"/><circle cx="698.9" cy="933.0" r="2.8"/><circle cx="713.8" cy="941.9" r="2.8"/><circle cx="726.4" cy="937.0" r="2.8"/><circle cx="720.4" cy="934.1" r="2.8"/><circle cx="711.8" cy="935.8" r="2.8"/><circle cx="719.0" cy="945.2" r="2.8"/><circle cx="713.5" cy="948.3" r="2.8"/><circle cx="713.2" cy="937.8" r="2.8"/><circle cx="718.6" cy="941.3" r="2.8"/><circle cx="715.9" cy="934.7" r="2.8"/><circle cx="724.9" cy="940.3" r="2.8"/><circle cx="710.7" cy="938.5" r="2.8"/><circle cx="716.4" cy="948.2" r="2.8"/><circle cx="723.2" cy="934.4" r="2.8"/><circle cx="713.4" cy="945.4" r="2.8"/><circle cx="715.8" cy="942.0" r="2.8"/><circle cx="726.2" cy="938.5" r="2.8"/><circle cx="723.3" cy="940.6" r="2.8"/><circle cx="723.8" cy="943.2" r="2.8"/><circle cx="721.3" cy="940.4" r="2.8"/><circle cx="725.4" cy="943.9" r="2.8"/><circle cx="496.2" cy="907.7" r="2.8"/><circle cx="508.2" cy="909.6" r="2.8"/><circle cx="519.3" cy="973.7" r="2.8"/><circle cx="519.8" cy="976.2" r="2.8"/><circle cx="519.0" cy="986.0" r="2.8"/><circle cx="520.2" cy="989.0" r="2.8"/><circle cx="517.5" cy="988.2" r="2.8"/><circle cx="528.0" cy="988.2" r="2.8"/><circle cx="523.5" cy="996.8" r="2.8"/><circle cx="532.5" cy="996.2" r="2.8"/><circle cx="535.5" cy="999.5" r="2.8"/><circle cx="523.5" cy="1000.2" r="2.8"/><circle cx="522.0" cy="1002.8" r="2.8"/><circle cx="525.0" cy="1003.2" r="2.8"/><circle cx="519.0" cy="1011.2" r="2.8"/><circle cx="531.8" cy="1011.8" r="2.8"/><circle cx="532.5" cy="1014.5" r="2.8"/><circle cx="516.0" cy="1017.5" r="2.8"/><circle cx="517.5" cy="1019.0" r="2.8"/><circle cx="435.8" cy="1046.0" r="2.8"/><circle cx="920.0" cy="539.0" r="2.8"/><circle cx="897.0" cy="570.5" r="2.8"/><circle cx="895.5" cy="576.5" r="2.8"/><circle cx="896.5" cy="581.0" r="2.8"/><circle cx="898.2" cy="590.8" r="2.8"/><circle cx="901.5" cy="597.0" r="2.8"/><circle cx="915.2" cy="558.2" r="2.8"/><circle cx="913.0" cy="584.5" r="2.8"/><circle cx="898.0" cy="569.0" r="2.8"/><circle cx="907.0" cy="549.2" r="2.8"/>
</g>
<g fill="#b69ce3">
<circle cx="490.6" cy="344.5" r="2.8"/><circle cx="667.0" cy="134.6" r="2.8"/><circle cx="1004.2" cy="643.3" r="2.8"/><circle cx="735.9" cy="173.5" r="2.8"/><circle cx="603.3" cy="447.7" r="2.8"/><circle cx="1014.8" cy="668.2" r="2.8"/><circle cx="744.6" cy="220.6" r="2.8"/><circle cx="552.3" cy="507.5" r="2.8"/><circle cx="965.2" cy="709.9" r="2.8"/><circle cx="1049.1" cy="643.7" r="2.8"/><circle cx="977.7" cy="651.9" r="2.8"/><circle cx="930.8" cy="692.3" r="2.8"/><circle cx="1010.0" cy="762.0" r="2.8"/><circle cx="1008.5" cy="716.6" r="2.8"/><circle cx="955.6" cy="715.4" r="2.8"/><circle cx="358.5" cy="775.1" r="2.8"/><circle cx="995.1" cy="635.5" r="2.8"/><circle cx="670.4" cy="145.8" r="2.8"/><circle cx="1002.1" cy="621.6" r="2.8"/><circle cx="954.9" cy="375.5" r="2.8"/><circle cx="669.1" cy="166.2" r="2.8"/><circle cx="356.7" cy="837.7" r="2.8"/><circle cx="985.9" cy="700.4" r="2.8"/><circle cx="733.9" cy="233.2" r="2.8"/><circle cx="606.7" cy="436.8" r="2.8"/><circle cx="689.5" cy="155.4" r="2.8"/><circle cx="993.5" cy="743.9" r="2.8"/><circle cx="531.4" cy="484.5" r="2.8"/><circle cx="1047.6" cy="723.1" r="2.8"/><circle cx="1006.9" cy="694.7" r="2.8"/><circle cx="700.4" cy="182.9" r="2.8"/>
</g>
<g fill="#b093e5">
<circle cx="695.0" cy="119.6" r="2.8"/><circle cx="781.9" cy="259.9" r="2.8"/><circle cx="677.0" cy="182.3" r="2.8"/><circle cx="939.3" cy="375.6" r="2.8"/><circle cx="611.3" cy="666.0" r="2.8"/><circle cx="933.4" cy="782.5" r="2.8"/><circle cx="909.1" cy="544.9" r="2.8"/><circle cx="972.6" cy="764.9" r="2.8"/><circle cx="730.1" cy="134.1" r="2.8"/><circle cx="731.2" cy="168.0" r="2.8"/><circle cx="743.4" cy="209.8" r="2.8"/><circle cx="830.4" cy="283.0" r="2.8"/><circle cx="929.7" cy="374.2" r="2.8"/><circle cx="481.7" cy="359.0" r="2.8"/><circle cx="664.2" cy="158.8" r="2.8"/><circle cx="381.2" cy="801.8" r="2.8"/><circle cx="322.8" cy="811.8" r="2.8"/><circle cx="261.5" cy="536.2" r="2.8"/><circle cx="263.7" cy="532.9" r="2.8"/><circle cx="1028.3" cy="681.8" r="2.8"/><circle cx="509.8" cy="532.5" r="2.8"/><circle cx="800.5" cy="281.3" r="2.8"/><circle cx="926.1" cy="769.4" r="2.8"/><circle cx="683.3" cy="118.6" r="2.8"/><circle cx="816.9" cy="278.7" r="2.8"/><circle cx="994.5" cy="740.2" r="2.8"/><circle cx="579.4" cy="225.3" r="2.8"/><circle cx="359.1" cy="719.3" r="2.8"/><circle cx="1058.5" cy="667.7" r="2.8"/><circle cx="401.9" cy="399.1" r="2.8"/><circle cx="969.2" cy="641.0" r="2.8"/><circle cx="666.3" cy="116.0" r="2.8"/><circle cx="356.2" cy="845.7" r="2.8"/><circle cx="667.6" cy="449.4" r="2.8"/><circle cx="548.7" cy="211.0" r="2.8"/><circle cx="339.0" cy="767.1" r="2.8"/><circle cx="331.7" cy="818.4" r="2.8"/><circle cx="910.3" cy="374.5" r="2.8"/><circle cx="1034.0" cy="731.4" r="2.8"/><circle cx="207.0" cy="518.4" r="2.8"/><circle cx="737.5" cy="239.7" r="2.8"/><circle cx="824.7" cy="285.1" r="2.8"/><circle cx="717.4" cy="138.8" r="2.8"/><circle cx="1051.5" cy="647.5" r="2.8"/><circle cx="947.5" cy="727.7" r="2.8"/><circle cx="946.1" cy="361.2" r="2.8"/><circle cx="395.3" cy="396.1" r="2.8"/><circle cx="393.2" cy="406.1" r="2.8"/><circle cx="681.2" cy="184.1" r="2.8"/><circle cx="977.3" cy="673.3" r="2.8"/><circle cx="397.0" cy="411.2" r="2.8"/><circle cx="411.6" cy="818.9" r="2.8"/><circle cx="453.5" cy="539.0" r="2.8"/><circle cx="709.7" cy="441.8" r="2.8"/><circle cx="354.0" cy="749.6" r="2.8"/><circle cx="977.2" cy="750.9" r="2.8"/><circle cx="492.0" cy="362.0" r="2.8"/><circle cx="210.0" cy="562.4" r="2.8"/><circle cx="722.6" cy="134.9" r="2.8"/><circle cx="714.4" cy="159.8" r="2.8"/><circle cx="686.2" cy="131.8" r="2.8"/><circle cx="335.6" cy="787.8" r="2.8"/><circle cx="212.8" cy="517.1" r="2.8"/><circle cx="962.3" cy="706.5" r="2.8"/><circle cx="704.8" cy="165.7" r="2.8"/><circle cx="391.1" cy="772.3" r="2.8"/><circle cx="446.0" cy="569.4" r="2.8"/><circle cx="1044.9" cy="661.5" r="2.8"/><circle cx="603.0" cy="383.1" r="2.8"/><circle cx="966.5" cy="667.0" r="2.8"/><circle cx="811.4" cy="236.0" r="2.8"/><circle cx="687.2" cy="428.4" r="2.8"/><circle cx="409.2" cy="390.2" r="2.8"/><circle cx="476.0" cy="459.8" r="2.8"/><circle cx="219.3" cy="575.0" r="2.8"/><circle cx="789.8" cy="228.8" r="2.8"/><circle cx="182.4" cy="523.2" r="2.8"/><circle cx="1020.8" cy="707.1" r="2.8"/><circle cx="822.9" cy="230.6" r="2.8"/><circle cx="673.4" cy="140.4" r="2.8"/><circle cx="178.8" cy="550.4" r="2.8"/><circle cx="1036.9" cy="672.2" r="2.8"/><circle cx="921.8" cy="766.5" r="2.8"/><circle cx="977.8" cy="709.3" r="2.8"/><circle cx="388.3" cy="404.0" r="2.8"/><circle cx="666.1" cy="435.8" r="2.8"/><circle cx="554.9" cy="475.1" r="2.8"/><circle cx="681.9" cy="162.9" r="2.8"/><circle cx="751.7" cy="198.0" r="2.8"/><circle cx="890.6" cy="372.0" r="2.8"/><circle cx="962.4" cy="740.3" r="2.8"/><circle cx="315.1" cy="817.4" r="2.8"/><circle cx="783.7" cy="267.9" r="2.8"/><circle cx="735.6" cy="132.8" r="2.8"/><circle cx="963.8" cy="677.8" r="2.8"/><circle cx="791.1" cy="251.8" r="2.8"/><circle cx="743.1" cy="193.6" r="2.8"/><circle cx="799.1" cy="222.5" r="2.8"/><circle cx="339.5" cy="859.3" r="2.8"/><circle cx="688.5" cy="159.1" r="2.8"/><circle cx="500.2" cy="568.0" r="2.8"/><circle cx="378.4" cy="780.6" r="2.8"/><circle cx="796.2" cy="315.1" r="2.8"/><circle cx="975.7" cy="647.4" r="2.8"/><circle cx="149.6" cy="544.9" r="2.8"/><circle cx="731.6" cy="210.9" r="2.8"/><circle cx="637.8" cy="663.9" r="2.8"/><circle cx="633.2" cy="671.6" r="2.8"/><circle cx="681.4" cy="173.8" r="2.8"/><circle cx="799.9" cy="234.1" r="2.8"/><circle cx="189.8" cy="543.7" r="2.8"/><circle cx="1017.6" cy="695.2" r="2.8"/><circle cx="730.4" cy="157.6" r="2.8"/><circle cx="424.0" cy="561.3" r="2.8"/><circle cx="246.2" cy="541.4" r="2.8"/><circle cx="616.5" cy="652.2" r="2.8"/><circle cx="685.8" cy="181.7" r="2.8"/><circle cx="308.8" cy="814.9" r="2.8"/><circle cx="982.5" cy="749.9" r="2.8"/><circle cx="332.8" cy="738.0" r="2.8"/><circle cx="1028.0" cy="731.3" r="2.8"/><circle cx="918.2" cy="713.0" r="2.8"/><circle cx="736.2" cy="162.8" r="2.8"/><circle cx="809.8" cy="232.2" r="2.8"/><circle cx="702.3" cy="142.1" r="2.8"/><circle cx="656.5" cy="691.9" r="2.8"/><circle cx="715.1" cy="125.8" r="2.8"/><circle cx="962.6" cy="764.6" r="2.8"/><circle cx="904.1" cy="555.6" r="2.8"/><circle cx="392.3" cy="767.7" r="2.8"/><circle cx="958.9" cy="708.7" r="2.8"/><circle cx="742.1" cy="188.6" r="2.8"/><circle cx="563.7" cy="221.2" r="2.8"/><circle cx="488.5" cy="347.5" r="2.8"/><circle cx="334.1" cy="753.5" r="2.8"/><circle cx="227.1" cy="503.0" r="2.8"/><circle cx="631.8" cy="656.5" r="2.8"/><circle cx="795.7" cy="219.8" r="2.8"/><circle cx="693.2" cy="143.4" r="2.8"/><circle cx="716.4" cy="175.6" r="2.8"/><circle cx="750.5" cy="195.7" r="2.8"/><circle cx="1005.5" cy="687.7" r="2.8"/><circle cx="771.1" cy="234.8" r="2.8"/><circle cx="239.0" cy="545.4" r="2.8"/><circle cx="1036.5" cy="634.4" r="2.8"/><circle cx="602.6" cy="463.7" r="2.8"/><circle cx="500.3" cy="507.3" r="2.8"/><circle cx="444.3" cy="560.5" r="2.8"/><circle cx="1006.3" cy="639.6" r="2.8"/><circle cx="682.4" cy="131.3" r="2.8"/><circle cx="473.8" cy="448.3" r="2.8"/><circle cx="328.2" cy="789.0" r="2.8"/><circle cx="592.3" cy="463.4" r="2.8"/><circle cx="418.6" cy="399.2" r="2.8"/><circle cx="955.6" cy="723.5" r="2.8"/><circle cx="352.6" cy="811.9" r="2.8"/><circle cx="687.6" cy="462.4" r="2.8"/><circle cx="329.4" cy="832.6" r="2.8"/><circle cx="949.0" cy="779.4" r="2.8"/><circle cx="933.0" cy="376.8" r="2.8"/><circle cx="713.4" cy="134.8" r="2.8"/><circle cx="741.6" cy="162.2" r="2.8"/><circle cx="1026.0" cy="716.5" r="2.8"/><circle cx="380.6" cy="744.7" r="2.8"/><circle cx="728.4" cy="186.1" r="2.8"/><circle cx="321.0" cy="840.5" r="2.8"/><circle cx="990.5" cy="740.0" r="2.8"/><circle cx="825.5" cy="279.7" r="2.8"/><circle cx="791.2" cy="220.4" r="2.8"/><circle cx="993.1" cy="689.1" r="2.8"/><circle cx="1032.0" cy="652.3" r="2.8"/><circle cx="1023.3" cy="697.7" r="2.8"/><circle cx="734.7" cy="190.8" r="2.8"/><circle cx="743.1" cy="166.8" r="2.8"/><circle cx="424.5" cy="415.6" r="2.8"/><circle cx="706.3" cy="180.7" r="2.8"/><circle cx="813.6" cy="295.5" r="2.8"/><circle cx="638.8" cy="700.7" r="2.8"/><circle cx="1032.3" cy="638.3" r="2.8"/><circle cx="217.4" cy="554.2" r="2.8"/><circle cx="336.1" cy="830.3" r="2.8"/><circle cx="488.2" cy="509.0" r="2.8"/><circle cx="450.6" cy="534.6" r="2.8"/><circle cx="406.2" cy="387.7" r="2.8"/><circle cx="1021.6" cy="687.7" r="2.8"/><circle cx="510.1" cy="457.5" r="2.8"/><circle cx="616.0" cy="462.6" r="2.8"/><circle cx="969.6" cy="639.6" r="2.8"/><circle cx="803.0" cy="236.5" r="2.8"/><circle cx="506.2" cy="561.9" r="2.8"/><circle cx="1056.0" cy="677.7" r="2.8"/><circle cx="1015.2" cy="637.7" r="2.8"/><circle cx="932.4" cy="684.8" r="2.8"/><circle cx="434.5" cy="415.4" r="2.8"/><circle cx="963.0" cy="366.5" r="2.8"/><circle cx="947.9" cy="780.7" r="2.8"/><circle cx="1005.9" cy="661.7" r="2.8"/><circle cx="352.0" cy="753.6" r="2.8"/><circle cx="601.4" cy="458.7" r="2.8"/><circle cx="626.8" cy="409.7" r="2.8"/><circle cx="181.8" cy="549.2" r="2.8"/><circle cx="562.9" cy="475.1" r="2.8"/><circle cx="709.8" cy="130.2" r="2.8"/><circle cx="780.3" cy="304.1" r="2.8"/><circle cx="874.5" cy="375.1" r="2.8"/><circle cx="543.5" cy="774.8" r="2.8"/><circle cx="981.1" cy="760.3" r="2.8"/><circle cx="781.9" cy="210.3" r="2.8"/><circle cx="231.0" cy="547.8" r="2.8"/><circle cx="386.6" cy="844.5" r="2.8"/><circle cx="1019.5" cy="736.7" r="2.8"/><circle cx="811.0" cy="270.2" r="2.8"/><circle cx="370.4" cy="738.8" r="2.8"/><circle cx="737.3" cy="145.2" r="2.8"/><circle cx="1003.3" cy="737.1" r="2.8"/><circle cx="416.2" cy="403.6" r="2.8"/><circle cx="1065.9" cy="672.2" r="2.8"/><circle cx="1006.3" cy="660.7" r="2.8"/><circle cx="797.9" cy="250.1" r="2.8"/><circle cx="316.1" cy="809.8" r="2.8"/><circle cx="245.6" cy="510.8" r="2.8"/><circle cx="826.4" cy="297.1" r="2.8"/><circle cx="952.3" cy="773.9" r="2.8"/><circle cx="471.2" cy="447.6" r="2.8"/><circle cx="676.0" cy="129.0" r="2.8"/><circle cx="409.4" cy="392.2" r="2.8"/><circle cx="997.6" cy="632.0" r="2.8"/><circle cx="663.5" cy="152.1" r="2.8"/><circle cx="705.0" cy="158.2" r="2.8"/><circle cx="485.7" cy="356.0" r="2.8"/><circle cx="312.9" cy="784.8" r="2.8"/><circle cx="202.3" cy="505.6" r="2.8"/><circle cx="830.3" cy="222.3" r="2.8"/><circle cx="561.2" cy="236.3" r="2.8"/><circle cx="717.7" cy="185.7" r="2.8"/><circle cx="804.8" cy="230.3" r="2.8"/><circle cx="669.8" cy="173.7" r="2.8"/><circle cx="1007.9" cy="705.6" r="2.8"/><circle cx="962.3" cy="759.1" r="2.8"/><circle cx="639.1" cy="461.7" r="2.8"/><circle cx="601.5" cy="381.1" r="2.8"/><circle cx="985.6" cy="710.2" r="2.8"/><circle cx="408.9" cy="397.8" r="2.8"/><circle cx="702.9" cy="181.5" r="2.8"/><circle cx="715.1" cy="141.3" r="2.8"/><circle cx="726.5" cy="160.9" r="2.8"/><circle cx="834.3" cy="294.5" r="2.8"/><circle cx="789.0" cy="317.5" r="2.8"/><circle cx="811.8" cy="222.8" r="2.8"/><circle cx="340.8" cy="724.1" r="2.8"/><circle cx="930.8" cy="370.6" r="2.8"/><circle cx="1020.3" cy="719.6" r="2.8"/><circle cx="1021.0" cy="652.8" r="2.8"/><circle cx="696.9" cy="444.6" r="2.8"/><circle cx="1043.7" cy="635.6" r="2.8"/><circle cx="975.4" cy="761.3" r="2.8"/><circle cx="1042.8" cy="684.7" r="2.8"/><circle cx="699.7" cy="128.0" r="2.8"/><circle cx="494.3" cy="544.9" r="2.8"/><circle cx="597.0" cy="407.3" r="2.8"/><circle cx="464.0" cy="542.7" r="2.8"/><circle cx="1058.8" cy="672.5" r="2.8"/><circle cx="671.5" cy="170.6" r="2.8"/><circle cx="491.0" cy="357.4" r="2.8"/><circle cx="996.0" cy="692.9" r="2.8"/><circle cx="204.4" cy="563.7" r="2.8"/><circle cx="688.9" cy="182.4" r="2.8"/><circle cx="1001.9" cy="645.8" r="2.8"/><circle cx="828.5" cy="217.1" r="2.8"/><circle cx="555.4" cy="468.9" r="2.8"/><circle cx="566.6" cy="232.7" r="2.8"/><circle cx="975.1" cy="687.4" r="2.8"/><circle cx="321.3" cy="814.6" r="2.8"/><circle cx="951.2" cy="379.9" r="2.8"/><circle cx="180.9" cy="519.3" r="2.8"/><circle cx="373.6" cy="761.0" r="2.8"/><circle cx="826.9" cy="290.1" r="2.8"/><circle cx="570.1" cy="472.4" r="2.8"/><circle cx="196.3" cy="517.2" r="2.8"/><circle cx="783.4" cy="227.5" r="2.8"/><circle cx="361.3" cy="762.1" r="2.8"/><circle cx="1020.7" cy="695.7" r="2.8"/><circle cx="827.4" cy="287.1" r="2.8"/><circle cx="483.3" cy="348.1" r="2.8"/><circle cx="1035.6" cy="701.8" r="2.8"/><circle cx="726.1" cy="226.4" r="2.8"/><circle cx="160.5" cy="529.6" r="2.8"/><circle cx="213.3" cy="519.0" r="2.8"/><circle cx="1017.3" cy="683.0" r="2.8"/><circle cx="389.8" cy="799.3" r="2.8"/><circle cx="988.5" cy="726.9" r="2.8"/><circle cx="688.5" cy="185.1" r="2.8"/><circle cx="613.2" cy="681.3" r="2.8"/><circle cx="590.8" cy="405.3" r="2.8"/><circle cx="583.2" cy="229.1" r="2.8"/><circle cx="563.3" cy="781.1" r="2.8"/><circle cx="249.8" cy="527.9" r="2.8"/><circle cx="631.8" cy="697.6" r="2.8"/><circle cx="729.8" cy="153.2" r="2.8"/><circle cx="1017.1" cy="666.3" r="2.8"/><circle cx="418.0" cy="444.0" r="2.8"/><circle cx="1044.9" cy="704.3" r="2.8"/><circle cx="784.2" cy="314.7" r="2.8"/><circle cx="916.7" cy="744.0" r="2.8"/><circle cx="793.1" cy="306.6" r="2.8"/><circle cx="988.7" cy="632.3" r="2.8"/><circle cx="996.4" cy="680.8" r="2.8"/><circle cx="681.4" cy="167.0" r="2.8"/><circle cx="719.1" cy="167.0" r="2.8"/><circle cx="678.9" cy="127.7" r="2.8"/><circle cx="697.7" cy="140.9" r="2.8"/><circle cx="723.6" cy="168.6" r="2.8"/><circle cx="705.2" cy="130.5" r="2.8"/><circle cx="1013.7" cy="706.9" r="2.8"/><circle cx="491.8" cy="559.9" r="2.8"/><circle cx="455.9" cy="443.0" r="2.8"/><circle cx="737.8" cy="228.0" r="2.8"/><circle cx="984.3" cy="652.8" r="2.8"/><circle cx="378.0" cy="790.5" r="2.8"/><circle cx="1031.1" cy="678.7" r="2.8"/><circle cx="941.0" cy="359.2" r="2.8"/><circle cx="965.8" cy="735.6" r="2.8"/><circle cx="958.0" cy="732.6" r="2.8"/><circle cx="349.4" cy="801.1" r="2.8"/><circle cx="739.8" cy="213.9" r="2.8"/><circle cx="607.1" cy="396.2" r="2.8"/><circle cx="969.8" cy="770.7" r="2.8"/><circle cx="169.6" cy="527.4" r="2.8"/><circle cx="543.8" cy="222.8" r="2.8"/><circle cx="191.2" cy="534.1" r="2.8"/><circle cx="673.9" cy="704.2" r="2.8"/><circle cx="677.0" cy="166.3" r="2.8"/><circle cx="498.8" cy="463.8" r="2.8"/><circle cx="817.1" cy="218.9" r="2.8"/><circle cx="973.8" cy="722.6" r="2.8"/><circle cx="1015.9" cy="685.2" r="2.8"/><circle cx="965.0" cy="707.6" r="2.8"/><circle cx="818.3" cy="284.2" r="2.8"/><circle cx="962.8" cy="715.4" r="2.8"/><circle cx="523.8" cy="506.8" r="2.8"/><circle cx="698.4" cy="427.8" r="2.8"/><circle cx="505.2" cy="544.6" r="2.8"/><circle cx="571.3" cy="475.4" r="2.8"/><circle cx="961.0" cy="720.8" r="2.8"/><circle cx="981.9" cy="735.6" r="2.8"/><circle cx="724.4" cy="141.8" r="2.8"/><circle cx="213.5" cy="548.7" r="2.8"/><circle cx="743.6" cy="170.7" r="2.8"/><circle cx="383.4" cy="415.6" r="2.8"/><circle cx="820.5" cy="236.0" r="2.8"/><circle cx="834.2" cy="288.8" r="2.8"/><circle cx="210.5" cy="534.8" r="2.8"/><circle cx="692.9" cy="145.1" r="2.8"/><circle cx="811.4" cy="213.6" r="2.8"/><circle cx="707.3" cy="168.7" r="2.8"/><circle cx="940.1" cy="666.2" r="2.8"/><circle cx="929.2" cy="727.4" r="2.8"/><circle cx="498.0" cy="522.2" r="2.8"/><circle cx="193.5" cy="522.9" r="2.8"/><circle cx="721.4" cy="147.3" r="2.8"/><circle cx="979.9" cy="673.5" r="2.8"/><circle cx="1025.1" cy="754.2" r="2.8"/><circle cx="522.2" cy="551.6" r="2.8"/><circle cx="952.3" cy="380.6" r="2.8"/><circle cx="662.8" cy="135.5" r="2.8"/><circle cx="381.7" cy="406.6" r="2.8"/><circle cx="857.8" cy="364.4" r="2.8"/><circle cx="988.4" cy="725.5" r="2.8"/><circle cx="407.8" cy="394.9" r="2.8"/><circle cx="348.7" cy="750.4" r="2.8"/><circle cx="783.8" cy="296.2" r="2.8"/><circle cx="490.1" cy="360.1" r="2.8"/><circle cx="169.6" cy="542.9" r="2.8"/><circle cx="665.0" cy="694.4" r="2.8"/><circle cx="1045.1" cy="719.5" r="2.8"/><circle cx="367.3" cy="767.1" r="2.8"/><circle cx="513.4" cy="453.4" r="2.8"/><circle cx="925.2" cy="371.1" r="2.8"/><circle cx="350.0" cy="730.0" r="2.8"/><circle cx="196.0" cy="536.8" r="2.8"/><circle cx="217.1" cy="514.1" r="2.8"/><circle cx="447.1" cy="528.6" r="2.8"/><circle cx="719.0" cy="127.3" r="2.8"/><circle cx="1014.1" cy="762.4" r="2.8"/><circle cx="579.7" cy="776.1" r="2.8"/><circle cx="816.0" cy="233.2" r="2.8"/><circle cx="414.6" cy="444.0" r="2.8"/><circle cx="966.3" cy="687.7" r="2.8"/><circle cx="696.0" cy="428.3" r="2.8"/><circle cx="798.4" cy="217.0" r="2.8"/><circle cx="1004.2" cy="691.0" r="2.8"/><circle cx="786.2" cy="238.4" r="2.8"/><circle cx="432.5" cy="542.8" r="2.8"/><circle cx="349.0" cy="760.4" r="2.8"/><circle cx="915.1" cy="749.9" r="2.8"/><circle cx="802.6" cy="241.0" r="2.8"/><circle cx="590.6" cy="400.6" r="2.8"/><circle cx="244.1" cy="532.9" r="2.8"/><circle cx="735.0" cy="152.6" r="2.8"/><circle cx="947.3" cy="657.4" r="2.8"/><circle cx="701.9" cy="466.6" r="2.8"/><circle cx="939.6" cy="709.8" r="2.8"/><circle cx="722.8" cy="467.2" r="2.8"/><circle cx="554.6" cy="213.2" r="2.8"/><circle cx="567.9" cy="219.2" r="2.8"/><circle cx="998.6" cy="772.1" r="2.8"/><circle cx="210.6" cy="554.6" r="2.8"/><circle cx="727.5" cy="130.8" r="2.8"/><circle cx="606.8" cy="410.2" r="2.8"/><circle cx="205.6" cy="553.9" r="2.8"/><circle cx="673.2" cy="124.3" r="2.8"/><circle cx="676.3" cy="116.6" r="2.8"/><circle cx="476.9" cy="463.9" r="2.8"/><circle cx="938.3" cy="361.5" r="2.8"/><circle cx="173.4" cy="555.7" r="2.8"/><circle cx="966.0" cy="738.0" r="2.8"/><circle cx="460.0" cy="451.3" r="2.8"/><circle cx="969.5" cy="750.7" r="2.8"/><circle cx="1009.0" cy="685.1" r="2.8"/><circle cx="483.2" cy="467.7" r="2.8"/><circle cx="496.0" cy="503.3" r="2.8"/><circle cx="335.6" cy="814.6" r="2.8"/><circle cx="693.8" cy="174.9" r="2.8"/><circle cx="990.6" cy="764.1" r="2.8"/><circle cx="915.7" cy="539.6" r="2.8"/><circle cx="1051.5" cy="670.8" r="2.8"/><circle cx="766.5" cy="211.2" r="2.8"/><circle cx="167.4" cy="521.8" r="2.8"/><circle cx="412.9" cy="397.5" r="2.8"/><circle cx="199.8" cy="536.6" r="2.8"/><circle cx="349.1" cy="746.3" r="2.8"/><circle cx="966.3" cy="659.5" r="2.8"/><circle cx="950.6" cy="687.2" r="2.8"/><circle cx="933.9" cy="362.2" r="2.8"/><circle cx="152.3" cy="550.2" r="2.8"/><circle cx="417.8" cy="413.5" r="2.8"/><circle cx="594.0" cy="405.9" r="2.8"/><circle cx="190.7" cy="530.9" r="2.8"/><circle cx="770.4" cy="294.0" r="2.8"/><circle cx="697.3" cy="182.2" r="2.8"/><circle cx="314.3" cy="818.7" r="2.8"/><circle cx="334.7" cy="858.0" r="2.8"/><circle cx="768.3" cy="264.3" r="2.8"/><circle cx="1011.8" cy="730.6" r="2.8"/><circle cx="673.3" cy="171.2" r="2.8"/><circle cx="816.0" cy="214.0" r="2.8"/><circle cx="628.0" cy="418.4" r="2.8"/><circle cx="1021.5" cy="694.6" r="2.8"/><circle cx="722.0" cy="233.5" r="2.8"/><circle cx="984.2" cy="726.1" r="2.8"/><circle cx="942.3" cy="784.9" r="2.8"/><circle cx="686.7" cy="145.4" r="2.8"/><circle cx="1015.1" cy="628.3" r="2.8"/><circle cx="681.3" cy="127.6" r="2.8"/><circle cx="667.4" cy="140.6" r="2.8"/><circle cx="731.2" cy="129.9" r="2.8"/><circle cx="696.9" cy="455.8" r="2.8"/><circle cx="740.7" cy="190.5" r="2.8"/><circle cx="609.0" cy="676.9" r="2.8"/><circle cx="539.8" cy="472.6" r="2.8"/><circle cx="1037.1" cy="691.8" r="2.8"/><circle cx="729.6" cy="184.9" r="2.8"/><circle cx="1004.4" cy="641.3" r="2.8"/><circle cx="237.7" cy="517.7" r="2.8"/><circle cx="511.6" cy="554.9" r="2.8"/><circle cx="726.5" cy="178.1" r="2.8"/><circle cx="652.0" cy="459.4" r="2.8"/><circle cx="554.8" cy="234.5" r="2.8"/><circle cx="425.3" cy="402.9" r="2.8"/><circle cx="1048.4" cy="698.7" r="2.8"/><circle cx="367.8" cy="741.2" r="2.8"/><circle cx="723.1" cy="217.5" r="2.8"/><circle cx="364.9" cy="806.5" r="2.8"/><circle cx="683.2" cy="139.6" r="2.8"/><circle cx="319.7" cy="763.3" r="2.8"/><circle cx="510.9" cy="540.3" r="2.8"/><circle cx="504.1" cy="463.9" r="2.8"/><circle cx="684.9" cy="158.5" r="2.8"/><circle cx="997.5" cy="703.0" r="2.8"/><circle cx="1031.7" cy="740.0" r="2.8"/><circle cx="717.9" cy="142.9" r="2.8"/><circle cx="1024.0" cy="758.2" r="2.8"/><circle cx="1006.9" cy="627.5" r="2.8"/><circle cx="556.4" cy="211.9" r="2.8"/><circle cx="430.3" cy="579.5" r="2.8"/><circle cx="1029.5" cy="651.9" r="2.8"/><circle cx="993.2" cy="627.8" r="2.8"/><circle cx="441.5" cy="536.1" r="2.8"/><circle cx="994.3" cy="678.6" r="2.8"/><circle cx="1001.3" cy="667.8" r="2.8"/><circle cx="1049.7" cy="671.3" r="2.8"/><circle cx="739.9" cy="181.3" r="2.8"/><circle cx="961.5" cy="727.5" r="2.8"/><circle cx="1018.6" cy="678.3" r="2.8"/><circle cx="974.5" cy="712.0" r="2.8"/><circle cx="984.4" cy="687.8" r="2.8"/><circle cx="522.0" cy="524.8" r="2.8"/><circle cx="725.9" cy="149.5" r="2.8"/><circle cx="998.5" cy="686.0" r="2.8"/><circle cx="447.4" cy="584.1" r="2.8"/><circle cx="787.7" cy="319.4" r="2.8"/><circle cx="219.1" cy="552.2" r="2.8"/><circle cx="239.0" cy="551.0" r="2.8"/><circle cx="747.0" cy="235.6" r="2.8"/><circle cx="812.0" cy="316.7" r="2.8"/><circle cx="817.3" cy="310.0" r="2.8"/><circle cx="821.3" cy="311.3" r="2.8"/><circle cx="792.7" cy="286.7" r="2.8"/><circle cx="774.7" cy="286.7" r="2.8"/><circle cx="752.0" cy="267.3" r="2.8"/><circle cx="750.0" cy="269.6" r="2.8"/><circle cx="747.3" cy="271.7" r="2.8"/><circle cx="744.7" cy="273.3" r="2.8"/><circle cx="741.3" cy="274.9" r="2.8"/><circle cx="738.7" cy="276.0" r="2.8"/><circle cx="736.0" cy="275.7" r="2.8"/><circle cx="740.0" cy="278.4" r="2.8"/><circle cx="638.0" cy="245.6" r="2.8"/><circle cx="640.0" cy="246.0" r="2.8"/><circle cx="654.4" cy="245.6" r="2.8"/><circle cx="663.6" cy="235.6" r="2.8"/><circle cx="663.0" cy="242.4" r="2.8"/><circle cx="666.0" cy="245.0" r="2.8"/><circle cx="668.0" cy="250.0" r="2.8"/><circle cx="671.6" cy="252.0" r="2.8"/><circle cx="676.0" cy="248.4" r="2.8"/><circle cx="697.0" cy="240.0" r="2.8"/><circle cx="691.0" cy="235.0" r="2.8"/><circle cx="701.0" cy="233.0" r="2.8"/><circle cx="704.0" cy="235.6" r="2.8"/><circle cx="702.4" cy="253.6" r="2.8"/><circle cx="703.0" cy="260.4" r="2.8"/><circle cx="683.6" cy="208.4" r="2.8"/><circle cx="677.0" cy="215.6" r="2.8"/><circle cx="678.4" cy="217.0" r="2.8"/><circle cx="673.0" cy="222.0" r="2.8"/><circle cx="675.0" cy="224.0" r="2.8"/><circle cx="674.0" cy="228.0" r="2.8"/><circle cx="676.0" cy="230.0" r="2.8"/><circle cx="711.0" cy="224.0" r="2.8"/><circle cx="594.0" cy="231.0" r="2.8"/><circle cx="594.4" cy="233.0" r="2.8"/><circle cx="612.0" cy="236.4" r="2.8"/><circle cx="542.0" cy="241.0" r="2.8"/><circle cx="545.0" cy="241.6" r="2.8"/><circle cx="550.0" cy="249.0" r="2.8"/><circle cx="577.0" cy="249.0" r="2.8"/><circle cx="549.0" cy="312.0" r="2.8"/><circle cx="546.0" cy="312.4" r="2.8"/><circle cx="544.0" cy="314.0" r="2.8"/><circle cx="543.0" cy="318.0" r="2.8"/><circle cx="548.0" cy="316.0" r="2.8"/><circle cx="545.6" cy="319.0" r="2.8"/><circle cx="543.6" cy="312.0" r="2.8"/><circle cx="936.0" cy="392.7" r="2.8"/><circle cx="933.3" cy="394.4" r="2.8"/><circle cx="931.3" cy="396.0" r="2.8"/><circle cx="451.0" cy="412.0" r="2.8"/><circle cx="453.0" cy="412.0" r="2.8"/><circle cx="426.0" cy="415.0" r="2.8"/><circle cx="431.0" cy="417.6" r="2.8"/><circle cx="467.0" cy="424.0" r="2.8"/><circle cx="469.0" cy="428.0" r="2.8"/><circle cx="472.0" cy="430.0" r="2.8"/><circle cx="477.0" cy="438.0" r="2.8"/><circle cx="479.0" cy="436.0" r="2.8"/><circle cx="505.0" cy="394.0" r="2.8"/><circle cx="507.0" cy="399.0" r="2.8"/><circle cx="507.0" cy="401.6" r="2.8"/><circle cx="511.6" cy="435.0" r="2.8"/><circle cx="489.6" cy="475.0" r="2.8"/><circle cx="491.0" cy="483.6" r="2.8"/><circle cx="490.0" cy="494.0" r="2.8"/><circle cx="653.7" cy="425.2" r="2.8"/><circle cx="655.5" cy="431.6" r="2.8"/><circle cx="661.9" cy="435.2" r="2.8"/><circle cx="665.6" cy="438.9" r="2.8"/><circle cx="668.3" cy="438.0" r="2.8"/><circle cx="511.7" cy="435.0" r="2.8"/><circle cx="527.0" cy="447.8" r="2.8"/><circle cx="520.2" cy="443.2" r="2.8"/><circle cx="555.5" cy="518.5" r="2.8"/><circle cx="570.5" cy="531.8" r="2.8"/><circle cx="577.2" cy="536.2" r="2.8"/><circle cx="579.5" cy="538.5" r="2.8"/><circle cx="583.2" cy="541.2" r="2.8"/><circle cx="585.5" cy="543.3" r="2.8"/><circle cx="590.0" cy="547.5" r="2.8"/><circle cx="547.2" cy="507.3" r="2.8"/><circle cx="549.5" cy="509.2" r="2.8"/><circle cx="733.7" cy="537.5" r="2.8"/><circle cx="731.3" cy="548.7" r="2.8"/><circle cx="740.8" cy="550.5" r="2.8"/><circle cx="747.8" cy="545.2" r="2.8"/><circle cx="746.8" cy="550.5" r="2.8"/><circle cx="751.2" cy="550.2" r="2.8"/><circle cx="749.0" cy="548.2" r="2.8"/><circle cx="761.9" cy="569.0" r="2.8"/><circle cx="737.8" cy="598.8" r="2.8"/><circle cx="257.2" cy="487.2" r="2.8"/><circle cx="258.7" cy="493.8" r="2.8"/><circle cx="243.6" cy="569.2" r="2.8"/><circle cx="242.5" cy="571.5" r="2.8"/><circle cx="596.6" cy="721.6" r="2.8"/><circle cx="588.4" cy="737.2" r="2.8"/><circle cx="728.0" cy="719.6" r="2.8"/><circle cx="731.0" cy="719.0" r="2.8"/><circle cx="733.0" cy="720.0" r="2.8"/><circle cx="720.0" cy="821.0" r="2.8"/><circle cx="607.6" cy="846.0" r="2.8"/><circle cx="447.7" cy="841.0" r="2.8"/><circle cx="454.2" cy="846.0" r="2.8"/><circle cx="458.1" cy="844.3" r="2.8"/><circle cx="456.3" cy="850.8" r="2.8"/><circle cx="449.2" cy="853.6" r="2.8"/><circle cx="468.9" cy="844.9" r="2.8"/><circle cx="433.6" cy="832.4" r="2.8"/><circle cx="420.6" cy="856.4" r="2.8"/><circle cx="415.2" cy="820.0" r="2.8"/><circle cx="416.9" cy="814.6" r="2.8"/><circle cx="473.7" cy="862.7" r="2.8"/><circle cx="479.7" cy="864.9" r="2.8"/><circle cx="473.2" cy="870.5" r="2.8"/><circle cx="479.7" cy="873.7" r="2.8"/><circle cx="483.9" cy="870.3" r="2.8"/><circle cx="493.2" cy="867.7" r="2.8"/><circle cx="498.6" cy="868.8" r="2.8"/><circle cx="500.8" cy="870.9" r="2.8"/><circle cx="510.9" cy="876.3" r="2.8"/><circle cx="803.2" cy="782.8" r="2.8"/><circle cx="801.0" cy="786.0" r="2.8"/><circle cx="802.1" cy="789.2" r="2.8"/><circle cx="805.3" cy="790.3" r="2.8"/><circle cx="807.5" cy="792.9" r="2.8"/><circle cx="807.5" cy="795.1" r="2.8"/><circle cx="720.4" cy="821.3" r="2.8"/><circle cx="698.7" cy="850.6" r="2.8"/><circle cx="705.7" cy="847.1" r="2.8"/><circle cx="720.8" cy="851.0" r="2.8"/><circle cx="731.7" cy="854.9" r="2.8"/><circle cx="744.0" cy="841.2" r="2.8"/><circle cx="607.7" cy="846.2" r="2.8"/><circle cx="659.3" cy="916.6" r="2.8"/><circle cx="711.1" cy="937.7" r="2.8"/><circle cx="715.4" cy="936.6" r="2.8"/><circle cx="718.7" cy="939.4" r="2.8"/><circle cx="712.2" cy="941.6" r="2.8"/><circle cx="715.4" cy="944.2" r="2.8"/><circle cx="659.5" cy="984.7" r="2.8"/><circle cx="521.2" cy="980.0" r="2.8"/><circle cx="524.0" cy="981.2" r="2.8"/><circle cx="532.8" cy="990.8" r="2.8"/><circle cx="531.8" cy="1001.8" r="2.8"/><circle cx="529.5" cy="1004.3" r="2.8"/><circle cx="523.5" cy="1010.3" r="2.8"/><circle cx="527.2" cy="1010.3" r="2.8"/><circle cx="525.8" cy="1013.0" r="2.8"/><circle cx="522.0" cy="1016.0" r="2.8"/><circle cx="525.0" cy="1016.8" r="2.8"/><circle cx="441.0" cy="1042.2" r="2.8"/><circle cx="898.5" cy="565.0" r="2.8"/><circle cx="917.0" cy="538.0" r="2.8"/><circle cx="912.0" cy="552.0" r="2.8"/><circle cx="904.0" cy="546.0" r="2.8"/><circle cx="910.0" cy="538.0" r="2.8"/><circle cx="904.0" cy="559.0" r="2.8"/><circle cx="909.5" cy="565.8" r="2.8"/><circle cx="912.2" cy="588.8" r="2.8"/><circle cx="512.0" cy="506.7" r="2.8"/><circle cx="995.1" cy="638.4" r="2.8"/><circle cx="225.0" cy="514.2" r="2.8"/><circle cx="605.4" cy="413.9" r="2.8"/><circle cx="769.5" cy="259.0" r="2.8"/><circle cx="930.3" cy="680.2" r="2.8"/><circle cx="694.7" cy="471.0" r="2.8"/><circle cx="480.1" cy="356.4" r="2.8"/><circle cx="1043.6" cy="658.5" r="2.8"/><circle cx="1024.3" cy="690.0" r="2.8"/><circle cx="462.2" cy="526.8" r="2.8"/><circle cx="707.9" cy="181.3" r="2.8"/><circle cx="736.0" cy="155.9" r="2.8"/><circle cx="625.7" cy="659.5" r="2.8"/><circle cx="977.6" cy="703.9" r="2.8"/><circle cx="714.7" cy="473.5" r="2.8"/><circle cx="998.0" cy="633.9" r="2.8"/><circle cx="983.1" cy="699.3" r="2.8"/><circle cx="960.3" cy="743.3" r="2.8"/><circle cx="706.2" cy="477.3" r="2.8"/><circle cx="792.6" cy="278.0" r="2.8"/><circle cx="477.9" cy="453.6" r="2.8"/><circle cx="773.8" cy="267.1" r="2.8"/><circle cx="941.4" cy="370.2" r="2.8"/><circle cx="746.0" cy="206.1" r="2.8"/><circle cx="948.2" cy="671.1" r="2.8"/><circle cx="558.1" cy="778.6" r="2.8"/><circle cx="912.2" cy="703.9" r="2.8"/><circle cx="710.4" cy="164.7" r="2.8"/><circle cx="516.8" cy="549.4" r="2.8"/><circle cx="683.1" cy="419.8" r="2.8"/><circle cx="164.9" cy="537.9" r="2.8"/><circle cx="312.2" cy="847.5" r="2.8"/><circle cx="902.8" cy="371.0" r="2.8"/><circle cx="157.1" cy="548.6" r="2.8"/><circle cx="705.6" cy="172.0" r="2.8"/><circle cx="722.1" cy="447.2" r="2.8"/><circle cx="735.4" cy="175.8" r="2.8"/><circle cx="908.7" cy="545.1" r="2.8"/><circle cx="978.5" cy="773.1" r="2.8"/><circle cx="341.3" cy="805.9" r="2.8"/><circle cx="1041.9" cy="700.9" r="2.8"/><circle cx="604.2" cy="458.6" r="2.8"/><circle cx="436.6" cy="524.6" r="2.8"/><circle cx="380.1" cy="754.1" r="2.8"/><circle cx="886.3" cy="373.9" r="2.8"/><circle cx="645.7" cy="698.4" r="2.8"/><circle cx="735.6" cy="168.9" r="2.8"/><circle cx="999.1" cy="671.4" r="2.8"/><circle cx="540.5" cy="229.8" r="2.8"/><circle cx="957.6" cy="735.3" r="2.8"/><circle cx="617.5" cy="403.7" r="2.8"/><circle cx="777.1" cy="305.1" r="2.8"/><circle cx="483.9" cy="580.4" r="2.8"/><circle cx="501.6" cy="461.8" r="2.8"/><circle cx="1034.5" cy="646.1" r="2.8"/><circle cx="198.2" cy="567.0" r="2.8"/><circle cx="856.9" cy="361.4" r="2.8"/><circle cx="178.0" cy="526.1" r="2.8"/><circle cx="1027.7" cy="710.7" r="2.8"/><circle cx="703.9" cy="431.5" r="2.8"/><circle cx="1037.1" cy="640.1" r="2.8"/><circle cx="711.9" cy="449.5" r="2.8"/><circle cx="1031.3" cy="651.9" r="2.8"/><circle cx="684.7" cy="116.7" r="2.8"/><circle cx="538.0" cy="473.2" r="2.8"/><circle cx="1019.0" cy="682.5" r="2.8"/><circle cx="589.8" cy="470.5" r="2.8"/><circle cx="1028.1" cy="695.6" r="2.8"/><circle cx="985.3" cy="719.7" r="2.8"/><circle cx="693.9" cy="127.5" r="2.8"/><circle cx="990.1" cy="668.7" r="2.8"/><circle cx="570.7" cy="231.1" r="2.8"/><circle cx="732.0" cy="153.3" r="2.8"/><circle cx="828.5" cy="225.8" r="2.8"/><circle cx="1056.4" cy="688.4" r="2.8"/><circle cx="686.7" cy="455.8" r="2.8"/><circle cx="676.1" cy="722.5" r="2.8"/><circle cx="915.3" cy="739.8" r="2.8"/><circle cx="702.4" cy="126.4" r="2.8"/><circle cx="804.3" cy="290.0" r="2.8"/><circle cx="407.9" cy="410.7" r="2.8"/><circle cx="826.4" cy="215.4" r="2.8"/><circle cx="433.6" cy="566.4" r="2.8"/><circle cx="1001.4" cy="677.8" r="2.8"/><circle cx="710.8" cy="463.2" r="2.8"/><circle cx="353.2" cy="729.9" r="2.8"/><circle cx="718.8" cy="140.8" r="2.8"/><circle cx="1016.3" cy="712.0" r="2.8"/><circle cx="459.5" cy="569.3" r="2.8"/><circle cx="361.1" cy="734.4" r="2.8"/><circle cx="816.5" cy="221.3" r="2.8"/><circle cx="980.1" cy="665.3" r="2.8"/><circle cx="359.5" cy="853.4" r="2.8"/><circle cx="900.8" cy="368.5" r="2.8"/><circle cx="214.4" cy="527.3" r="2.8"/><circle cx="815.1" cy="237.8" r="2.8"/><circle cx="999.8" cy="639.2" r="2.8"/><circle cx="978.3" cy="721.4" r="2.8"/><circle cx="947.6" cy="663.1" r="2.8"/><circle cx="692.8" cy="139.8" r="2.8"/><circle cx="956.3" cy="755.0" r="2.8"/><circle cx="684.6" cy="147.0" r="2.8"/><circle cx="454.5" cy="571.6" r="2.8"/><circle cx="973.9" cy="697.9" r="2.8"/><circle cx="784.6" cy="274.0" r="2.8"/><circle cx="702.8" cy="444.4" r="2.8"/><circle cx="506.3" cy="541.7" r="2.8"/><circle cx="206.7" cy="514.9" r="2.8"/><circle cx="992.4" cy="753.0" r="2.8"/><circle cx="983.5" cy="635.9" r="2.8"/><circle cx="735.7" cy="165.2" r="2.8"/><circle cx="1018.0" cy="765.4" r="2.8"/><circle cx="559.9" cy="771.9" r="2.8"/><circle cx="975.5" cy="719.1" r="2.8"/><circle cx="711.5" cy="143.3" r="2.8"/><circle cx="839.9" cy="289.8" r="2.8"/><circle cx="376.1" cy="779.0" r="2.8"/><circle cx="610.6" cy="398.8" r="2.8"/><circle cx="207.5" cy="548.4" r="2.8"/><circle cx="972.7" cy="687.3" r="2.8"/><circle cx="711.4" cy="125.8" r="2.8"/><circle cx="739.5" cy="147.0" r="2.8"/><circle cx="372.8" cy="809.5" r="2.8"/><circle cx="795.9" cy="283.7" r="2.8"/><circle cx="669.1" cy="168.7" r="2.8"/><circle cx="1020.0" cy="742.3" r="2.8"/><circle cx="566.7" cy="776.9" r="2.8"/><circle cx="985.7" cy="770.9" r="2.8"/><circle cx="1007.6" cy="692.7" r="2.8"/><circle cx="205.1" cy="526.1" r="2.8"/><circle cx="1018.7" cy="704.1" r="2.8"/><circle cx="964.2" cy="684.2" r="2.8"/><circle cx="610.6" cy="404.8" r="2.8"/><circle cx="715.9" cy="191.1" r="2.8"/><circle cx="234.2" cy="547.5" r="2.8"/><circle cx="969.2" cy="647.9" r="2.8"/><circle cx="601.8" cy="456.8" r="2.8"/><circle cx="965.7" cy="366.2" r="2.8"/><circle cx="228.4" cy="577.4" r="2.8"/><circle cx="815.8" cy="270.1" r="2.8"/><circle cx="221.9" cy="511.8" r="2.8"/><circle cx="320.5" cy="849.6" r="2.8"/><circle cx="339.1" cy="795.2" r="2.8"/><circle cx="710.8" cy="440.1" r="2.8"/><circle cx="470.3" cy="455.4" r="2.8"/><circle cx="983.6" cy="665.8" r="2.8"/><circle cx="167.0" cy="566.0" r="2.8"/><circle cx="990.1" cy="640.3" r="2.8"/><circle cx="710.7" cy="127.8" r="2.8"/><circle cx="1001.2" cy="632.0" r="2.8"/><circle cx="956.1" cy="365.9" r="2.8"/><circle cx="969.8" cy="697.2" r="2.8"/><circle cx="740.3" cy="160.2" r="2.8"/><circle cx="474.8" cy="463.0" r="2.8"/><circle cx="596.3" cy="403.5" r="2.8"/><circle cx="705.7" cy="144.2" r="2.8"/><circle cx="1020.0" cy="663.0" r="2.8"/><circle cx="903.2" cy="555.1" r="2.8"/><circle cx="324.5" cy="792.4" r="2.8"/><circle cx="482.6" cy="351.3" r="2.8"/><circle cx="483.0" cy="452.4" r="2.8"/><circle cx="728.5" cy="240.6" r="2.8"/><circle cx="550.7" cy="775.7" r="2.8"/><circle cx="507.2" cy="526.9" r="2.8"/><circle cx="1015.1" cy="708.1" r="2.8"/><circle cx="691.4" cy="158.0" r="2.8"/><circle cx="451.2" cy="450.6" r="2.8"/><circle cx="974.7" cy="756.2" r="2.8"/><circle cx="722.4" cy="230.5" r="2.8"/><circle cx="1041.2" cy="720.7" r="2.8"/><circle cx="999.0" cy="688.4" r="2.8"/><circle cx="1035.6" cy="680.5" r="2.8"/><circle cx="1028.9" cy="737.3" r="2.8"/><circle cx="192.2" cy="561.0" r="2.8"/><circle cx="995.7" cy="686.3" r="2.8"/><circle cx="814.8" cy="284.7" r="2.8"/><circle cx="728.7" cy="148.3" r="2.8"/><circle cx="417.1" cy="820.4" r="2.8"/><circle cx="672.0" cy="182.4" r="2.8"/><circle cx="177.2" cy="549.0" r="2.8"/><circle cx="724.9" cy="231.3" r="2.8"/><circle cx="999.6" cy="747.4" r="2.8"/><circle cx="918.5" cy="756.7" r="2.8"/><circle cx="1027.2" cy="708.6" r="2.8"/><circle cx="363.1" cy="747.9" r="2.8"/><circle cx="689.6" cy="187.5" r="2.8"/><circle cx="803.9" cy="276.5" r="2.8"/><circle cx="1039.7" cy="713.7" r="2.8"/><circle cx="347.0" cy="788.2" r="2.8"/><circle cx="738.5" cy="172.2" r="2.8"/><circle cx="1020.4" cy="731.2" r="2.8"/><circle cx="720.0" cy="454.2" r="2.8"/><circle cx="754.4" cy="189.6" r="2.8"/><circle cx="1024.0" cy="629.5" r="2.8"/><circle cx="688.7" cy="118.7" r="2.8"/><circle cx="185.3" cy="510.3" r="2.8"/><circle cx="497.3" cy="557.2" r="2.8"/><circle cx="154.4" cy="536.5" r="2.8"/><circle cx="913.5" cy="540.7" r="2.8"/><circle cx="667.3" cy="157.5" r="2.8"/><circle cx="252.2" cy="545.7" r="2.8"/><circle cx="999.8" cy="757.7" r="2.8"/><circle cx="596.6" cy="381.8" r="2.8"/><circle cx="1056.9" cy="688.0" r="2.8"/><circle cx="736.8" cy="180.5" r="2.8"/><circle cx="789.8" cy="248.3" r="2.8"/><circle cx="489.2" cy="517.6" r="2.8"/><circle cx="418.9" cy="402.9" r="2.8"/><circle cx="665.4" cy="118.4" r="2.8"/><circle cx="1042.2" cy="729.2" r="2.8"/><circle cx="402.8" cy="406.2" r="2.8"/><circle cx="687.1" cy="123.5" r="2.8"/><circle cx="977.4" cy="655.5" r="2.8"/><circle cx="923.2" cy="375.5" r="2.8"/><circle cx="346.5" cy="846.7" r="2.8"/><circle cx="712.0" cy="119.4" r="2.8"/><circle cx="987.9" cy="718.3" r="2.8"/><circle cx="182.7" cy="510.7" r="2.8"/><circle cx="751.4" cy="191.5" r="2.8"/><circle cx="989.2" cy="698.9" r="2.8"/><circle cx="224.9" cy="521.7" r="2.8"/><circle cx="511.6" cy="562.1" r="2.8"/><circle cx="998.2" cy="683.4" r="2.8"/><circle cx="609.3" cy="395.5" r="2.8"/><circle cx="688.0" cy="147.5" r="2.8"/><circle cx="728.5" cy="200.7" r="2.8"/><circle cx="387.3" cy="407.0" r="2.8"/><circle cx="550.2" cy="211.2" r="2.8"/><circle cx="783.7" cy="215.8" r="2.8"/><circle cx="1034.2" cy="636.4" r="2.8"/><circle cx="235.9" cy="535.0" r="2.8"/><circle cx="924.6" cy="375.6" r="2.8"/><circle cx="328.4" cy="803.2" r="2.8"/><circle cx="558.1" cy="216.9" r="2.8"/><circle cx="701.4" cy="180.7" r="2.8"/><circle cx="614.7" cy="657.2" r="2.8"/><circle cx="703.2" cy="478.0" r="2.8"/><circle cx="395.0" cy="418.4" r="2.8"/><circle cx="989.2" cy="705.0" r="2.8"/><circle cx="202.9" cy="510.3" r="2.8"/><circle cx="864.1" cy="369.8" r="2.8"/><circle cx="974.0" cy="758.0" r="2.8"/><circle cx="331.9" cy="742.5" r="2.8"/><circle cx="956.1" cy="761.5" r="2.8"/><circle cx="510.3" cy="511.3" r="2.8"/><circle cx="395.4" cy="401.3" r="2.8"/><circle cx="678.0" cy="122.8" r="2.8"/><circle cx="1028.1" cy="646.9" r="2.8"/><circle cx="233.5" cy="549.1" r="2.8"/><circle cx="960.4" cy="736.7" r="2.8"/><circle cx="518.7" cy="531.5" r="2.8"/><circle cx="676.3" cy="713.6" r="2.8"/><circle cx="223.6" cy="506.7" r="2.8"/><circle cx="712.4" cy="185.7" r="2.8"/><circle cx="988.2" cy="683.2" r="2.8"/><circle cx="974.4" cy="667.0" r="2.8"/><circle cx="733.0" cy="135.2" r="2.8"/><circle cx="809.1" cy="246.3" r="2.8"/><circle cx="720.9" cy="177.8" r="2.8"/><circle cx="386.2" cy="740.8" r="2.8"/><circle cx="279.6" cy="531.9" r="2.8"/><circle cx="571.0" cy="477.8" r="2.8"/><circle cx="708.4" cy="466.9" r="2.8"/><circle cx="710.0" cy="118.4" r="2.8"/><circle cx="942.1" cy="659.5" r="2.8"/><circle cx="1004.5" cy="700.7" r="2.8"/><circle cx="969.5" cy="715.5" r="2.8"/><circle cx="225.1" cy="559.8" r="2.8"/><circle cx="911.1" cy="714.8" r="2.8"/><circle cx="739.7" cy="210.6" r="2.8"/><circle cx="1054.1" cy="728.8" r="2.8"/><circle cx="973.4" cy="731.2" r="2.8"/><circle cx="791.7" cy="225.6" r="2.8"/><circle cx="812.9" cy="290.8" r="2.8"/><circle cx="742.4" cy="174.4" r="2.8"/><circle cx="608.1" cy="669.9" r="2.8"/><circle cx="997.3" cy="714.2" r="2.8"/><circle cx="799.9" cy="244.0" r="2.8"/><circle cx="772.5" cy="304.2" r="2.8"/><circle cx="707.7" cy="126.0" r="2.8"/><circle cx="211.0" cy="540.5" r="2.8"/><circle cx="385.1" cy="759.5" r="2.8"/><circle cx="936.5" cy="736.6" r="2.8"/><circle cx="658.8" cy="132.6" r="2.8"/><circle cx="336.5" cy="804.9" r="2.8"/><circle cx="903.6" cy="556.7" r="2.8"/><circle cx="393.2" cy="821.1" r="2.8"/><circle cx="1021.8" cy="759.7" r="2.8"/><circle cx="1004.3" cy="679.6" r="2.8"/><circle cx="1006.7" cy="697.9" r="2.8"/><circle cx="547.8" cy="766.9" r="2.8"/><circle cx="717.3" cy="445.3" r="2.8"/><circle cx="734.0" cy="223.2" r="2.8"/><circle cx="675.5" cy="147.2" r="2.8"/><circle cx="675.5" cy="140.6" r="2.8"/><circle cx="725.0" cy="144.5" r="2.8"/><circle cx="959.8" cy="767.5" r="2.8"/><circle cx="233.7" cy="536.6" r="2.8"/><circle cx="1026.8" cy="750.8" r="2.8"/><circle cx="684.4" cy="130.0" r="2.8"/><circle cx="955.8" cy="371.1" r="2.8"/><circle cx="806.1" cy="275.9" r="2.8"/><circle cx="968.0" cy="688.8" r="2.8"/><circle cx="1020.1" cy="720.5" r="2.8"/><circle cx="1040.0" cy="676.8" r="2.8"/><circle cx="392.0" cy="805.1" r="2.8"/><circle cx="975.1" cy="765.5" r="2.8"/><circle cx="599.1" cy="691.2" r="2.8"/><circle cx="702.1" cy="184.3" r="2.8"/><circle cx="969.2" cy="685.1" r="2.8"/><circle cx="928.8" cy="375.3" r="2.8"/><circle cx="1011.0" cy="682.8" r="2.8"/><circle cx="862.1" cy="363.0" r="2.8"/><circle cx="994.5" cy="779.0" r="2.8"/><circle cx="299.7" cy="842.6" r="2.8"/><circle cx="969.5" cy="366.3" r="2.8"/><circle cx="714.2" cy="168.3" r="2.8"/><circle cx="674.8" cy="155.9" r="2.8"/><circle cx="720.5" cy="181.8" r="2.8"/><circle cx="733.1" cy="180.0" r="2.8"/><circle cx="1041.7" cy="670.9" r="2.8"/><circle cx="707.1" cy="442.6" r="2.8"/><circle cx="991.8" cy="716.4" r="2.8"/><circle cx="661.3" cy="155.7" r="2.8"/><circle cx="897.0" cy="698.4" r="2.8"/><circle cx="701.8" cy="174.9" r="2.8"/><circle cx="322.1" cy="765.5" r="2.8"/><circle cx="941.3" cy="693.8" r="2.8"/><circle cx="196.9" cy="528.2" r="2.8"/><circle cx="350.0" cy="850.8" r="2.8"/><circle cx="974.4" cy="707.3" r="2.8"/><circle cx="686.0" cy="129.5" r="2.8"/><circle cx="696.7" cy="459.5" r="2.8"/><circle cx="448.6" cy="555.7" r="2.8"/><circle cx="724.1" cy="152.2" r="2.8"/><circle cx="938.0" cy="759.2" r="2.8"/><circle cx="184.9" cy="533.2" r="2.8"/><circle cx="594.9" cy="408.4" r="2.8"/><circle cx="700.7" cy="158.7" r="2.8"/><circle cx="672.7" cy="166.2" r="2.8"/><circle cx="1032.4" cy="707.5" r="2.8"/><circle cx="700.6" cy="124.1" r="2.8"/><circle cx="671.6" cy="114.9" r="2.8"/><circle cx="290.1" cy="838.9" r="2.8"/><circle cx="797.8" cy="253.5" r="2.8"/><circle cx="995.0" cy="719.3" r="2.8"/><circle cx="1021.2" cy="666.7" r="2.8"/><circle cx="175.8" cy="559.9" r="2.8"/><circle cx="390.3" cy="398.7" r="2.8"/><circle cx="738.8" cy="237.4" r="2.8"/><circle cx="871.0" cy="369.9" r="2.8"/><circle cx="1036.3" cy="697.4" r="2.8"/><circle cx="363.7" cy="829.0" r="2.8"/><circle cx="705.8" cy="463.3" r="2.8"/><circle cx="908.4" cy="372.6" r="2.8"/><circle cx="383.5" cy="763.8" r="2.8"/><circle cx="1015.3" cy="691.9" r="2.8"/><circle cx="677.3" cy="135.5" r="2.8"/><circle cx="634.9" cy="435.0" r="2.8"/><circle cx="391.2" cy="403.3" r="2.8"/><circle cx="982.6" cy="635.7" r="2.8"/><circle cx="472.6" cy="445.0" r="2.8"/><circle cx="930.4" cy="371.0" r="2.8"/><circle cx="629.2" cy="421.4" r="2.8"/><circle cx="776.7" cy="308.0" r="2.8"/><circle cx="934.3" cy="768.6" r="2.8"/><circle cx="970.2" cy="646.9" r="2.8"/><circle cx="898.1" cy="709.5" r="2.8"/><circle cx="1006.1" cy="761.4" r="2.8"/><circle cx="476.2" cy="451.2" r="2.8"/><circle cx="202.0" cy="540.0" r="2.8"/><circle cx="567.7" cy="773.4" r="2.8"/><circle cx="204.8" cy="547.0" r="2.8"/><circle cx="616.1" cy="387.3" r="2.8"/><circle cx="729.9" cy="189.7" r="2.8"/><circle cx="810.9" cy="225.5" r="2.8"/><circle cx="334.1" cy="720.7" r="2.8"/><circle cx="857.3" cy="364.8" r="2.8"/><circle cx="661.1" cy="142.9" r="2.8"/><circle cx="696.9" cy="434.4" r="2.8"/><circle cx="1022.1" cy="649.6" r="2.8"/><circle cx="705.4" cy="452.3" r="2.8"/><circle cx="787.2" cy="305.7" r="2.8"/><circle cx="214.9" cy="536.0" r="2.8"/><circle cx="610.1" cy="466.0" r="2.8"/><circle cx="1041.0" cy="679.3" r="2.8"/><circle cx="750.6" cy="244.1" r="2.8"/><circle cx="991.4" cy="751.3" r="2.8"/><circle cx="692.5" cy="466.3" r="2.8"/>
</g>
<g fill="#aa89e7">
<circle cx="972.7" cy="710.9" r="2.8"/><circle cx="1000.2" cy="661.8" r="2.8"/><circle cx="1030.0" cy="722.5" r="2.8"/><circle cx="346.3" cy="794.3" r="2.8"/><circle cx="781.2" cy="300.5" r="2.8"/><circle cx="917.9" cy="774.3" r="2.8"/><circle cx="698.1" cy="146.6" r="2.8"/><circle cx="820.2" cy="224.1" r="2.8"/><circle cx="932.7" cy="670.4" r="2.8"/><circle cx="596.3" cy="664.5" r="2.8"/><circle cx="704.8" cy="177.5" r="2.8"/><circle cx="892.3" cy="376.1" r="2.8"/><circle cx="518.6" cy="496.9" r="2.8"/><circle cx="574.5" cy="781.0" r="2.8"/><circle cx="995.7" cy="714.9" r="2.8"/><circle cx="923.7" cy="763.9" r="2.8"/><circle cx="325.5" cy="834.2" r="2.8"/><circle cx="1041.9" cy="670.1" r="2.8"/><circle cx="909.2" cy="547.0" r="2.8"/><circle cx="1027.4" cy="718.3" r="2.8"/><circle cx="521.8" cy="511.7" r="2.8"/><circle cx="720.8" cy="190.7" r="2.8"/><circle cx="541.3" cy="467.9" r="2.8"/><circle cx="674.1" cy="179.7" r="2.8"/><circle cx="172.2" cy="545.5" r="2.8"/><circle cx="950.9" cy="698.3" r="2.8"/><circle cx="645.6" cy="459.8" r="2.8"/><circle cx="971.2" cy="632.5" r="2.8"/><circle cx="674.2" cy="174.6" r="2.8"/><circle cx="925.9" cy="746.9" r="2.8"/><circle cx="1050.5" cy="691.1" r="2.8"/><circle cx="663.7" cy="688.6" r="2.8"/><circle cx="810.3" cy="273.3" r="2.8"/><circle cx="981.7" cy="682.9" r="2.8"/><circle cx="507.2" cy="515.4" r="2.8"/><circle cx="934.0" cy="762.1" r="2.8"/><circle cx="702.6" cy="155.8" r="2.8"/><circle cx="977.6" cy="690.9" r="2.8"/><circle cx="333.8" cy="748.7" r="2.8"/><circle cx="685.4" cy="172.7" r="2.8"/><circle cx="493.8" cy="350.8" r="2.8"/><circle cx="339.6" cy="809.6" r="2.8"/><circle cx="411.3" cy="408.3" r="2.8"/><circle cx="808.3" cy="221.6" r="2.8"/><circle cx="666.1" cy="155.2" r="2.8"/><circle cx="391.8" cy="785.3" r="2.8"/><circle cx="159.9" cy="560.9" r="2.8"/><circle cx="611.2" cy="384.6" r="2.8"/><circle cx="815.7" cy="228.3" r="2.8"/><circle cx="167.2" cy="554.6" r="2.8"/><circle cx="939.6" cy="688.8" r="2.8"/><circle cx="946.6" cy="704.3" r="2.8"/><circle cx="733.2" cy="161.8" r="2.8"/><circle cx="184.7" cy="529.9" r="2.8"/><circle cx="395.7" cy="410.5" r="2.8"/><circle cx="974.4" cy="680.5" r="2.8"/><circle cx="715.0" cy="467.3" r="2.8"/><circle cx="999.7" cy="658.5" r="2.8"/><circle cx="562.9" cy="219.3" r="2.8"/><circle cx="519.6" cy="451.6" r="2.8"/><circle cx="1038.8" cy="715.2" r="2.8"/><circle cx="995.7" cy="744.1" r="2.8"/><circle cx="728.6" cy="228.3" r="2.8"/><circle cx="445.5" cy="522.0" r="2.8"/><circle cx="701.8" cy="434.1" r="2.8"/><circle cx="962.1" cy="703.2" r="2.8"/><circle cx="730.2" cy="163.8" r="2.8"/><circle cx="861.9" cy="364.5" r="2.8"/><circle cx="679.4" cy="427.2" r="2.8"/><circle cx="716.3" cy="127.7" r="2.8"/><circle cx="231.6" cy="530.2" r="2.8"/><circle cx="419.0" cy="417.3" r="2.8"/><circle cx="755.8" cy="200.3" r="2.8"/><circle cx="1024.4" cy="702.0" r="2.8"/><circle cx="654.9" cy="698.8" r="2.8"/><circle cx="1024.6" cy="644.4" r="2.8"/><circle cx="709.4" cy="171.5" r="2.8"/><circle cx="1033.9" cy="719.4" r="2.8"/><circle cx="388.7" cy="416.0" r="2.8"/><circle cx="969.4" cy="760.9" r="2.8"/><circle cx="311.8" cy="807.1" r="2.8"/><circle cx="984.0" cy="738.7" r="2.8"/><circle cx="497.3" cy="457.6" r="2.8"/><circle cx="926.8" cy="772.7" r="2.8"/><circle cx="631.1" cy="664.6" r="2.8"/><circle cx="185.4" cy="551.7" r="2.8"/><circle cx="724.8" cy="466.8" r="2.8"/><circle cx="569.2" cy="229.7" r="2.8"/><circle cx="810.1" cy="217.9" r="2.8"/><circle cx="963.2" cy="728.5" r="2.8"/><circle cx="931.8" cy="373.2" r="2.8"/><circle cx="171.9" cy="543.2" r="2.8"/><circle cx="580.9" cy="465.5" r="2.8"/><circle cx="257.5" cy="529.3" r="2.8"/><circle cx="937.0" cy="672.9" r="2.8"/><circle cx="704.7" cy="185.7" r="2.8"/><circle cx="464.7" cy="530.1" r="2.8"/><circle cx="981.5" cy="712.0" r="2.8"/><circle cx="705.5" cy="116.9" r="2.8"/><circle cx="313.2" cy="803.3" r="2.8"/><circle cx="922.4" cy="776.2" r="2.8"/><circle cx="700.1" cy="450.3" r="2.8"/><circle cx="698.3" cy="142.3" r="2.8"/><circle cx="946.1" cy="673.1" r="2.8"/><circle cx="200.7" cy="569.6" r="2.8"/><circle cx="690.6" cy="163.2" r="2.8"/><circle cx="663.0" cy="702.6" r="2.8"/><circle cx="1031.5" cy="682.0" r="2.8"/><circle cx="561.3" cy="490.0" r="2.8"/><circle cx="794.6" cy="256.5" r="2.8"/><circle cx="481.5" cy="509.3" r="2.8"/><circle cx="447.9" cy="575.2" r="2.8"/><circle cx="791.7" cy="305.3" r="2.8"/><circle cx="386.1" cy="781.6" r="2.8"/><circle cx="766.1" cy="225.0" r="2.8"/><circle cx="740.6" cy="156.7" r="2.8"/><circle cx="1013.9" cy="662.0" r="2.8"/><circle cx="341.0" cy="752.2" r="2.8"/><circle cx="808.2" cy="242.8" r="2.8"/><circle cx="234.9" cy="529.3" r="2.8"/><circle cx="663.5" cy="146.2" r="2.8"/><circle cx="491.4" cy="459.0" r="2.8"/><circle cx="813.2" cy="240.0" r="2.8"/><circle cx="217.1" cy="509.0" r="2.8"/><circle cx="689.3" cy="137.6" r="2.8"/><circle cx="507.9" cy="461.2" r="2.8"/><circle cx="929.8" cy="709.9" r="2.8"/><circle cx="478.4" cy="574.0" r="2.8"/><circle cx="956.6" cy="731.0" r="2.8"/><circle cx="434.7" cy="561.6" r="2.8"/><circle cx="1046.5" cy="726.9" r="2.8"/><circle cx="809.7" cy="283.0" r="2.8"/><circle cx="703.2" cy="130.0" r="2.8"/><circle cx="593.5" cy="461.4" r="2.8"/><circle cx="1013.1" cy="765.2" r="2.8"/><circle cx="492.4" cy="451.4" r="2.8"/><circle cx="907.3" cy="549.5" r="2.8"/><circle cx="643.6" cy="681.8" r="2.8"/><circle cx="471.1" cy="562.9" r="2.8"/><circle cx="689.7" cy="141.5" r="2.8"/><circle cx="699.3" cy="186.2" r="2.8"/><circle cx="772.7" cy="291.8" r="2.8"/><circle cx="161.6" cy="551.0" r="2.8"/><circle cx="490.6" cy="354.5" r="2.8"/><circle cx="971.4" cy="674.6" r="2.8"/><circle cx="993.0" cy="628.9" r="2.8"/><circle cx="442.6" cy="551.7" r="2.8"/><circle cx="530.3" cy="489.7" r="2.8"/><circle cx="802.6" cy="296.7" r="2.8"/><circle cx="236.8" cy="545.7" r="2.8"/><circle cx="1041.7" cy="703.9" r="2.8"/><circle cx="496.9" cy="506.0" r="2.8"/><circle cx="881.0" cy="377.1" r="2.8"/><circle cx="160.1" cy="557.5" r="2.8"/><circle cx="183.2" cy="527.0" r="2.8"/><circle cx="750.2" cy="233.2" r="2.8"/><circle cx="755.7" cy="210.6" r="2.8"/><circle cx="721.2" cy="165.2" r="2.8"/><circle cx="965.0" cy="719.9" r="2.8"/><circle cx="802.9" cy="288.3" r="2.8"/><circle cx="464.8" cy="588.5" r="2.8"/><circle cx="928.2" cy="374.7" r="2.8"/><circle cx="805.9" cy="227.8" r="2.8"/><circle cx="183.2" cy="541.6" r="2.8"/><circle cx="681.0" cy="160.4" r="2.8"/><circle cx="817.0" cy="226.9" r="2.8"/><circle cx="999.9" cy="757.2" r="2.8"/><circle cx="784.4" cy="218.7" r="2.8"/><circle cx="1020.8" cy="631.9" r="2.8"/><circle cx="483.9" cy="465.2" r="2.8"/><circle cx="764.6" cy="227.3" r="2.8"/><circle cx="999.7" cy="697.1" r="2.8"/><circle cx="341.9" cy="762.8" r="2.8"/><circle cx="1006.1" cy="708.3" r="2.8"/><circle cx="808.0" cy="270.5" r="2.8"/><circle cx="1037.7" cy="639.1" r="2.8"/><circle cx="672.2" cy="133.1" r="2.8"/><circle cx="1000.7" cy="716.1" r="2.8"/><circle cx="462.6" cy="452.4" r="2.8"/><circle cx="568.6" cy="770.3" r="2.8"/><circle cx="526.3" cy="440.7" r="2.8"/><circle cx="723.6" cy="188.7" r="2.8"/><circle cx="619.3" cy="660.9" r="2.8"/><circle cx="550.6" cy="220.7" r="2.8"/><circle cx="883.9" cy="374.2" r="2.8"/><circle cx="608.8" cy="385.7" r="2.8"/><circle cx="665.4" cy="125.7" r="2.8"/><circle cx="420.2" cy="414.9" r="2.8"/><circle cx="191.1" cy="559.2" r="2.8"/><circle cx="456.7" cy="451.8" r="2.8"/><circle cx="986.9" cy="743.5" r="2.8"/><circle cx="672.7" cy="127.3" r="2.8"/><circle cx="940.6" cy="735.9" r="2.8"/><circle cx="938.4" cy="769.6" r="2.8"/><circle cx="780.9" cy="311.6" r="2.8"/><circle cx="778.3" cy="302.1" r="2.8"/><circle cx="552.8" cy="780.9" r="2.8"/><circle cx="173.3" cy="565.4" r="2.8"/><circle cx="309.0" cy="819.9" r="2.8"/><circle cx="803.0" cy="244.8" r="2.8"/><circle cx="982.5" cy="696.8" r="2.8"/><circle cx="677.0" cy="709.0" r="2.8"/><circle cx="721.8" cy="463.6" r="2.8"/><circle cx="970.2" cy="692.8" r="2.8"/><circle cx="674.6" cy="163.9" r="2.8"/><circle cx="1042.4" cy="718.7" r="2.8"/><circle cx="697.0" cy="166.3" r="2.8"/><circle cx="1043.1" cy="675.0" r="2.8"/><circle cx="697.5" cy="161.5" r="2.8"/><circle cx="833.4" cy="298.4" r="2.8"/><circle cx="712.3" cy="137.7" r="2.8"/><circle cx="745.8" cy="189.0" r="2.8"/><circle cx="1020.4" cy="670.9" r="2.8"/><circle cx="1033.7" cy="711.8" r="2.8"/><circle cx="958.8" cy="705.8" r="2.8"/><circle cx="328.2" cy="798.9" r="2.8"/><circle cx="1037.3" cy="748.4" r="2.8"/><circle cx="554.5" cy="765.8" r="2.8"/><circle cx="997.8" cy="758.4" r="2.8"/><circle cx="638.8" cy="694.8" r="2.8"/><circle cx="389.2" cy="405.6" r="2.8"/><circle cx="777.1" cy="212.8" r="2.8"/><circle cx="746.1" cy="197.7" r="2.8"/><circle cx="697.4" cy="471.1" r="2.8"/><circle cx="490.6" cy="500.0" r="2.8"/><circle cx="1022.5" cy="647.5" r="2.8"/><circle cx="557.2" cy="236.3" r="2.8"/><circle cx="663.6" cy="140.1" r="2.8"/><circle cx="703.7" cy="150.3" r="2.8"/><circle cx="1052.7" cy="688.3" r="2.8"/><circle cx="968.1" cy="726.2" r="2.8"/><circle cx="975.4" cy="731.0" r="2.8"/><circle cx="733.5" cy="174.5" r="2.8"/><circle cx="598.1" cy="459.0" r="2.8"/><circle cx="244.4" cy="537.1" r="2.8"/><circle cx="952.4" cy="679.9" r="2.8"/><circle cx="1012.8" cy="701.5" r="2.8"/><circle cx="725.9" cy="134.7" r="2.8"/><circle cx="522.3" cy="553.6" r="2.8"/><circle cx="511.6" cy="525.0" r="2.8"/><circle cx="942.6" cy="360.9" r="2.8"/><circle cx="711.0" cy="186.7" r="2.8"/><circle cx="1055.2" cy="696.2" r="2.8"/><circle cx="235.1" cy="508.2" r="2.8"/><circle cx="1035.7" cy="755.0" r="2.8"/><circle cx="1007.2" cy="746.8" r="2.8"/><circle cx="415.7" cy="829.9" r="2.8"/><circle cx="344.9" cy="757.9" r="2.8"/><circle cx="482.9" cy="505.7" r="2.8"/><circle cx="175.9" cy="534.4" r="2.8"/><circle cx="776.4" cy="297.8" r="2.8"/><circle cx="708.3" cy="120.6" r="2.8"/><circle cx="556.9" cy="221.7" r="2.8"/><circle cx="820.5" cy="279.9" r="2.8"/><circle cx="1001.9" cy="687.3" r="2.8"/><circle cx="981.4" cy="731.8" r="2.8"/><circle cx="1042.9" cy="707.8" r="2.8"/><circle cx="322.0" cy="811.5" r="2.8"/><circle cx="680.2" cy="159.5" r="2.8"/><circle cx="375.6" cy="774.4" r="2.8"/><circle cx="1056.2" cy="651.5" r="2.8"/><circle cx="948.0" cy="653.5" r="2.8"/><circle cx="959.6" cy="375.1" r="2.8"/><circle cx="1016.6" cy="723.4" r="2.8"/><circle cx="604.7" cy="673.0" r="2.8"/><circle cx="916.1" cy="538.8" r="2.8"/><circle cx="636.6" cy="680.3" r="2.8"/><circle cx="1051.6" cy="732.4" r="2.8"/><circle cx="793.3" cy="232.5" r="2.8"/><circle cx="407.2" cy="399.5" r="2.8"/><circle cx="492.2" cy="578.7" r="2.8"/><circle cx="668.4" cy="152.6" r="2.8"/><circle cx="974.1" cy="680.5" r="2.8"/><circle cx="548.1" cy="233.6" r="2.8"/><circle cx="198.2" cy="509.0" r="2.8"/><circle cx="495.8" cy="494.9" r="2.8"/><circle cx="208.7" cy="508.8" r="2.8"/><circle cx="608.8" cy="459.8" r="2.8"/><circle cx="495.4" cy="518.7" r="2.8"/><circle cx="725.3" cy="215.5" r="2.8"/><circle cx="366.3" cy="856.5" r="2.8"/><circle cx="311.8" cy="779.6" r="2.8"/><circle cx="602.6" cy="390.1" r="2.8"/><circle cx="1032.5" cy="712.5" r="2.8"/><circle cx="971.4" cy="650.9" r="2.8"/><circle cx="1017.4" cy="734.4" r="2.8"/><circle cx="185.7" cy="536.1" r="2.8"/><circle cx="971.9" cy="678.1" r="2.8"/><circle cx="564.9" cy="217.7" r="2.8"/><circle cx="391.7" cy="833.6" r="2.8"/><circle cx="661.5" cy="450.2" r="2.8"/><circle cx="1012.8" cy="676.2" r="2.8"/><circle cx="553.5" cy="777.9" r="2.8"/><circle cx="738.3" cy="158.5" r="2.8"/><circle cx="300.1" cy="820.0" r="2.8"/><circle cx="691.3" cy="159.1" r="2.8"/><circle cx="1053.7" cy="660.5" r="2.8"/><circle cx="187.8" cy="545.5" r="2.8"/><circle cx="963.3" cy="728.7" r="2.8"/><circle cx="740.1" cy="163.1" r="2.8"/><circle cx="221.2" cy="572.5" r="2.8"/><circle cx="888.1" cy="371.5" r="2.8"/><circle cx="967.0" cy="766.6" r="2.8"/><circle cx="965.5" cy="742.4" r="2.8"/><circle cx="956.1" cy="668.4" r="2.8"/><circle cx="814.0" cy="280.4" r="2.8"/><circle cx="1027.9" cy="673.8" r="2.8"/><circle cx="735.3" cy="150.4" r="2.8"/><circle cx="548.4" cy="501.4" r="2.8"/><circle cx="958.6" cy="739.5" r="2.8"/><circle cx="421.3" cy="399.3" r="2.8"/><circle cx="1018.0" cy="697.2" r="2.8"/><circle cx="661.1" cy="144.5" r="2.8"/><circle cx="560.9" cy="776.9" r="2.8"/><circle cx="319.7" cy="843.5" r="2.8"/><circle cx="630.8" cy="672.3" r="2.8"/><circle cx="877.3" cy="376.0" r="2.8"/><circle cx="517.7" cy="497.6" r="2.8"/><circle cx="192.9" cy="527.3" r="2.8"/><circle cx="966.3" cy="741.6" r="2.8"/><circle cx="326.9" cy="829.3" r="2.8"/><circle cx="678.0" cy="733.1" r="2.8"/><circle cx="743.7" cy="244.7" r="2.8"/><circle cx="566.5" cy="771.9" r="2.8"/><circle cx="601.1" cy="432.8" r="2.8"/><circle cx="774.1" cy="210.1" r="2.8"/><circle cx="188.4" cy="555.7" r="2.8"/><circle cx="155.6" cy="560.7" r="2.8"/><circle cx="976.9" cy="662.4" r="2.8"/><circle cx="1023.1" cy="635.6" r="2.8"/><circle cx="1054.6" cy="675.3" r="2.8"/><circle cx="416.0" cy="823.9" r="2.8"/><circle cx="217.2" cy="515.6" r="2.8"/><circle cx="1052.1" cy="682.0" r="2.8"/><circle cx="969.8" cy="662.7" r="2.8"/><circle cx="510.2" cy="566.7" r="2.8"/><circle cx="525.4" cy="452.0" r="2.8"/><circle cx="226.0" cy="580.5" r="2.8"/><circle cx="618.2" cy="657.3" r="2.8"/><circle cx="370.7" cy="769.8" r="2.8"/><circle cx="978.7" cy="697.8" r="2.8"/><circle cx="730.9" cy="225.4" r="2.8"/><circle cx="367.7" cy="760.8" r="2.8"/><circle cx="395.7" cy="773.7" r="2.8"/><circle cx="488.7" cy="363.2" r="2.8"/><circle cx="240.2" cy="540.1" r="2.8"/><circle cx="659.0" cy="700.3" r="2.8"/><circle cx="693.2" cy="171.4" r="2.8"/><circle cx="213.4" cy="531.1" r="2.8"/><circle cx="452.1" cy="557.1" r="2.8"/><circle cx="733.5" cy="143.0" r="2.8"/><circle cx="926.4" cy="758.1" r="2.8"/><circle cx="492.2" cy="352.6" r="2.8"/><circle cx="484.0" cy="459.6" r="2.8"/><circle cx="1032.5" cy="751.0" r="2.8"/><circle cx="718.4" cy="465.2" r="2.8"/><circle cx="818.5" cy="236.0" r="2.8"/><circle cx="768.1" cy="242.9" r="2.8"/><circle cx="928.3" cy="701.6" r="2.8"/><circle cx="1058.4" cy="646.2" r="2.8"/><circle cx="1005.6" cy="740.7" r="2.8"/><circle cx="369.2" cy="832.8" r="2.8"/><circle cx="1038.0" cy="682.6" r="2.8"/><circle cx="820.0" cy="274.9" r="2.8"/><circle cx="156.9" cy="553.2" r="2.8"/><circle cx="570.5" cy="775.0" r="2.8"/><circle cx="681.9" cy="116.9" r="2.8"/><circle cx="614.8" cy="400.7" r="2.8"/><circle cx="656.2" cy="453.5" r="2.8"/><circle cx="819.8" cy="232.5" r="2.8"/><circle cx="694.0" cy="114.6" r="2.8"/><circle cx="670.8" cy="152.8" r="2.8"/><circle cx="809.6" cy="291.9" r="2.8"/><circle cx="811.2" cy="234.6" r="2.8"/><circle cx="680.5" cy="145.3" r="2.8"/><circle cx="1061.6" cy="685.7" r="2.8"/><circle cx="191.6" cy="566.5" r="2.8"/><circle cx="227.6" cy="551.8" r="2.8"/><circle cx="1057.7" cy="685.7" r="2.8"/><circle cx="1021.2" cy="632.5" r="2.8"/><circle cx="665.6" cy="699.9" r="2.8"/><circle cx="655.9" cy="682.5" r="2.8"/><circle cx="632.1" cy="453.5" r="2.8"/><circle cx="748.7" cy="195.4" r="2.8"/><circle cx="818.3" cy="282.8" r="2.8"/><circle cx="958.6" cy="366.6" r="2.8"/><circle cx="903.6" cy="723.7" r="2.8"/><circle cx="215.8" cy="546.7" r="2.8"/><circle cx="408.3" cy="440.6" r="2.8"/><circle cx="649.8" cy="675.9" r="2.8"/><circle cx="612.2" cy="434.3" r="2.8"/><circle cx="1013.5" cy="728.0" r="2.8"/><circle cx="855.9" cy="361.7" r="2.8"/><circle cx="1008.6" cy="751.0" r="2.8"/><circle cx="1000.4" cy="774.5" r="2.8"/><circle cx="733.3" cy="237.6" r="2.8"/><circle cx="657.9" cy="427.7" r="2.8"/><circle cx="957.4" cy="738.1" r="2.8"/>
</g>
<g fill="#a480ea">
<circle cx="491.3" cy="515.0" r="2.8"/>
</g>
<g fill="#9d77ec">
<circle cx="479.5" cy="354.0" r="2.8"/><circle cx="938.3" cy="719.7" r="2.8"/><circle cx="710.6" cy="471.9" r="2.8"/><circle cx="948.0" cy="359.2" r="2.8"/><circle cx="940.3" cy="728.3" r="2.8"/><circle cx="707.9" cy="143.0" r="2.8"/><circle cx="1023.5" cy="722.8" r="2.8"/><circle cx="398.2" cy="404.7" r="2.8"/><circle cx="1006.0" cy="657.5" r="2.8"/><circle cx="683.8" cy="115.3" r="2.8"/><circle cx="987.7" cy="663.8" r="2.8"/><circle cx="975.4" cy="733.2" r="2.8"/><circle cx="914.4" cy="537.9" r="2.8"/><circle cx="711.4" cy="465.3" r="2.8"/><circle cx="799.1" cy="317.0" r="2.8"/><circle cx="1042.2" cy="661.6" r="2.8"/><circle cx="930.8" cy="749.1" r="2.8"/><circle cx="714.5" cy="442.5" r="2.8"/><circle cx="252.2" cy="527.4" r="2.8"/>
</g>
<g fill="#966eee">
<circle cx="753.6" cy="217.7" r="2.8"/><circle cx="947.5" cy="375.7" r="2.8"/><circle cx="568.8" cy="470.9" r="2.8"/><circle cx="714.0" cy="166.0" r="2.8"/><circle cx="643.9" cy="674.8" r="2.8"/><circle cx="677.1" cy="146.3" r="2.8"/><circle cx="516.2" cy="566.2" r="2.8"/><circle cx="806.6" cy="232.5" r="2.8"/><circle cx="982.8" cy="654.9" r="2.8"/><circle cx="823.8" cy="235.8" r="2.8"/><circle cx="804.0" cy="225.3" r="2.8"/><circle cx="950.6" cy="368.5" r="2.8"/><circle cx="575.8" cy="774.6" r="2.8"/><circle cx="1023.0" cy="709.1" r="2.8"/><circle cx="972.9" cy="637.4" r="2.8"/><circle cx="950.2" cy="370.9" r="2.8"/><circle cx="925.4" cy="725.9" r="2.8"/><circle cx="949.0" cy="363.0" r="2.8"/><circle cx="957.4" cy="375.0" r="2.8"/><circle cx="1019.0" cy="640.0" r="2.8"/><circle cx="400.4" cy="385.6" r="2.8"/><circle cx="683.5" cy="164.5" r="2.8"/><circle cx="511.9" cy="546.9" r="2.8"/><circle cx="403.6" cy="389.3" r="2.8"/><circle cx="659.2" cy="687.8" r="2.8"/><circle cx="729.9" cy="215.3" r="2.8"/><circle cx="1063.4" cy="688.3" r="2.8"/><circle cx="1012.2" cy="712.4" r="2.8"/><circle cx="1040.4" cy="699.5" r="2.8"/><circle cx="956.0" cy="364.4" r="2.8"/><circle cx="639.2" cy="671.0" r="2.8"/><circle cx="685.2" cy="149.9" r="2.8"/><circle cx="999.2" cy="630.0" r="2.8"/><circle cx="970.0" cy="706.8" r="2.8"/><circle cx="171.0" cy="530.8" r="2.8"/><circle cx="992.4" cy="767.1" r="2.8"/><circle cx="1020.9" cy="655.6" r="2.8"/><circle cx="946.6" cy="716.5" r="2.8"/><circle cx="694.4" cy="122.4" r="2.8"/><circle cx="400.1" cy="413.2" r="2.8"/><circle cx="715.8" cy="155.4" r="2.8"/><circle cx="1048.9" cy="709.3" r="2.8"/><circle cx="208.1" cy="553.9" r="2.8"/><circle cx="733.2" cy="158.4" r="2.8"/><circle cx="409.2" cy="422.8" r="2.8"/><circle cx="999.9" cy="627.4" r="2.8"/><circle cx="380.1" cy="726.8" r="2.8"/><circle cx="380.5" cy="745.9" r="2.8"/><circle cx="357.1" cy="846.4" r="2.8"/><circle cx="807.3" cy="233.4" r="2.8"/><circle cx="826.1" cy="230.0" r="2.8"/><circle cx="968.2" cy="652.3" r="2.8"/><circle cx="1010.0" cy="630.4" r="2.8"/><circle cx="932.3" cy="360.7" r="2.8"/><circle cx="779.4" cy="211.1" r="2.8"/><circle cx="928.2" cy="768.4" r="2.8"/><circle cx="1053.2" cy="655.3" r="2.8"/><circle cx="639.1" cy="677.8" r="2.8"/><circle cx="509.0" cy="561.9" r="2.8"/><circle cx="1028.1" cy="697.3" r="2.8"/><circle cx="739.2" cy="182.3" r="2.8"/><circle cx="563.3" cy="497.6" r="2.8"/><circle cx="695.9" cy="184.6" r="2.8"/><circle cx="791.8" cy="256.4" r="2.8"/><circle cx="720.2" cy="236.7" r="2.8"/><circle cx="777.6" cy="247.4" r="2.8"/><circle cx="715.4" cy="186.4" r="2.8"/><circle cx="1014.0" cy="729.4" r="2.8"/><circle cx="669.1" cy="146.9" r="2.8"/><circle cx="971.4" cy="656.8" r="2.8"/><circle cx="515.0" cy="510.4" r="2.8"/><circle cx="546.7" cy="228.6" r="2.8"/><circle cx="1001.4" cy="679.2" r="2.8"/><circle cx="1008.5" cy="674.0" r="2.8"/><circle cx="905.3" cy="548.4" r="2.8"/><circle cx="1048.4" cy="688.2" r="2.8"/><circle cx="1026.6" cy="656.9" r="2.8"/><circle cx="716.7" cy="454.0" r="2.8"/><circle cx="698.7" cy="138.6" r="2.8"/><circle cx="613.2" cy="388.8" r="2.8"/><circle cx="234.5" cy="556.3" r="2.8"/><circle cx="945.4" cy="722.3" r="2.8"/><circle cx="1030.7" cy="673.1" r="2.8"/><circle cx="1036.7" cy="670.1" r="2.8"/><circle cx="985.3" cy="651.6" r="2.8"/><circle cx="1042.5" cy="677.5" r="2.8"/><circle cx="969.1" cy="640.4" r="2.8"/><circle cx="938.9" cy="363.2" r="2.8"/><circle cx="676.1" cy="160.2" r="2.8"/><circle cx="938.3" cy="661.4" r="2.8"/><circle cx="388.9" cy="854.8" r="2.8"/><circle cx="818.9" cy="228.4" r="2.8"/><circle cx="937.0" cy="372.3" r="2.8"/><circle cx="407.4" cy="414.0" r="2.8"/><circle cx="682.6" cy="151.5" r="2.8"/><circle cx="832.8" cy="281.1" r="2.8"/><circle cx="1026.2" cy="691.8" r="2.8"/><circle cx="888.6" cy="371.8" r="2.8"/><circle cx="803.2" cy="235.7" r="2.8"/><circle cx="380.1" cy="766.3" r="2.8"/><circle cx="995.1" cy="722.2" r="2.8"/><circle cx="1053.4" cy="708.8" r="2.8"/><circle cx="521.8" cy="455.5" r="2.8"/><circle cx="662.5" cy="131.0" r="2.8"/><circle cx="978.8" cy="658.5" r="2.8"/><circle cx="677.9" cy="186.4" r="2.8"/><circle cx="417.0" cy="393.4" r="2.8"/><circle cx="967.5" cy="368.7" r="2.8"/><circle cx="966.0" cy="638.8" r="2.8"/><circle cx="965.4" cy="702.6" r="2.8"/><circle cx="795.3" cy="223.5" r="2.8"/><circle cx="993.8" cy="699.6" r="2.8"/><circle cx="1036.0" cy="701.6" r="2.8"/><circle cx="923.3" cy="711.4" r="2.8"/><circle cx="979.1" cy="698.9" r="2.8"/><circle cx="897.2" cy="367.9" r="2.8"/><circle cx="1019.6" cy="647.9" r="2.8"/><circle cx="1004.9" cy="768.1" r="2.8"/><circle cx="964.2" cy="763.7" r="2.8"/><circle cx="749.1" cy="237.1" r="2.8"/><circle cx="251.2" cy="503.2" r="2.8"/><circle cx="1036.3" cy="746.3" r="2.8"/><circle cx="619.3" cy="669.4" r="2.8"/><circle cx="488.1" cy="448.5" r="2.8"/><circle cx="567.8" cy="464.1" r="2.8"/><circle cx="979.1" cy="763.8" r="2.8"/><circle cx="676.1" cy="724.4" r="2.8"/><circle cx="224.3" cy="577.0" r="2.8"/><circle cx="748.0" cy="190.9" r="2.8"/><circle cx="494.3" cy="552.6" r="2.8"/><circle cx="988.1" cy="707.4" r="2.8"/><circle cx="810.5" cy="220.8" r="2.8"/><circle cx="598.3" cy="688.2" r="2.8"/><circle cx="728.9" cy="455.4" r="2.8"/><circle cx="651.8" cy="429.8" r="2.8"/><circle cx="946.1" cy="369.9" r="2.8"/><circle cx="227.6" cy="577.5" r="2.8"/><circle cx="805.4" cy="245.6" r="2.8"/><circle cx="1029.4" cy="691.2" r="2.8"/><circle cx="726.3" cy="458.4" r="2.8"/><circle cx="937.7" cy="364.9" r="2.8"/><circle cx="778.3" cy="292.3" r="2.8"/><circle cx="898.2" cy="562.6" r="2.8"/><circle cx="1042.0" cy="685.0" r="2.8"/><circle cx="1005.0" cy="650.5" r="2.8"/><circle cx="953.7" cy="381.5" r="2.8"/><circle cx="970.7" cy="679.7" r="2.8"/><circle cx="1027.8" cy="704.5" r="2.8"/><circle cx="680.0" cy="157.5" r="2.8"/><circle cx="911.4" cy="543.9" r="2.8"/><circle cx="606.0" cy="391.8" r="2.8"/>
</g>
<g fill="#8e65f0">
<circle cx="453.3" cy="524.0" r="2.8"/><circle cx="956.6" cy="368.6" r="2.8"/><circle cx="772.6" cy="252.7" r="2.8"/><circle cx="496.8" cy="511.8" r="2.8"/><circle cx="966.0" cy="667.1" r="2.8"/><circle cx="1028.2" cy="640.6" r="2.8"/><circle cx="703.1" cy="154.3" r="2.8"/><circle cx="816.9" cy="223.7" r="2.8"/><circle cx="982.1" cy="744.1" r="2.8"/><circle cx="958.5" cy="363.9" r="2.8"/><circle cx="995.4" cy="649.0" r="2.8"/><circle cx="987.7" cy="691.1" r="2.8"/><circle cx="792.6" cy="228.9" r="2.8"/><circle cx="710.2" cy="455.0" r="2.8"/><circle cx="1032.6" cy="655.5" r="2.8"/><circle cx="427.5" cy="555.1" r="2.8"/><circle cx="929.1" cy="734.7" r="2.8"/><circle cx="943.4" cy="372.1" r="2.8"/><circle cx="1003.2" cy="662.4" r="2.8"/><circle cx="209.7" cy="550.3" r="2.8"/><circle cx="826.5" cy="224.9" r="2.8"/><circle cx="805.5" cy="222.4" r="2.8"/><circle cx="702.0" cy="243.0" r="2.8"/><circle cx="709.6" cy="231.0" r="2.8"/><circle cx="601.0" cy="232.0" r="2.8"/><circle cx="554.4" cy="238.6" r="2.8"/><circle cx="573.6" cy="240.4" r="2.8"/><circle cx="547.0" cy="315.0" r="2.8"/><circle cx="545.0" cy="316.4" r="2.8"/><circle cx="928.0" cy="350.0" r="2.8"/><circle cx="928.7" cy="354.9" r="2.8"/><circle cx="933.3" cy="355.3" r="2.8"/><circle cx="938.7" cy="357.1" r="2.8"/><circle cx="925.1" cy="401.6" r="2.8"/><circle cx="513.0" cy="429.4" r="2.8"/><circle cx="546.4" cy="441.6" r="2.8"/><circle cx="482.0" cy="492.4" r="2.8"/><circle cx="546.4" cy="441.3" r="2.8"/><circle cx="546.5" cy="441.8" r="2.8"/><circle cx="513.5" cy="429.3" r="2.8"/><circle cx="569.3" cy="528.3" r="2.8"/><circle cx="594.2" cy="549.8" r="2.8"/><circle cx="780.8" cy="570.0" r="2.8"/><circle cx="712.2" cy="583.5" r="2.8"/><circle cx="713.8" cy="585.8" r="2.8"/><circle cx="716.0" cy="590.2" r="2.8"/><circle cx="719.8" cy="591.8" r="2.8"/><circle cx="742.2" cy="586.5" r="2.8"/><circle cx="745.5" cy="596.2" r="2.8"/><circle cx="746.8" cy="602.7" r="2.8"/><circle cx="757.2" cy="601.8" r="2.8"/><circle cx="760.2" cy="597.0" r="2.8"/><circle cx="763.2" cy="596.2" r="2.8"/><circle cx="769.7" cy="589.0" r="2.8"/><circle cx="776.0" cy="598.5" r="2.8"/><circle cx="777.5" cy="591.8" r="2.8"/><circle cx="780.8" cy="590.5" r="2.8"/><circle cx="276.7" cy="530.7" r="2.8"/><circle cx="585.6" cy="740.6" r="2.8"/><circle cx="584.0" cy="742.4" r="2.8"/><circle cx="734.0" cy="718.0" r="2.8"/><circle cx="737.0" cy="716.6" r="2.8"/><circle cx="735.6" cy="718.4" r="2.8"/><circle cx="609.6" cy="842.4" r="2.8"/><circle cx="581.7" cy="774.1" r="2.8"/><circle cx="805.3" cy="778.4" r="2.8"/><circle cx="609.7" cy="842.8" r="2.8"/><circle cx="911.5" cy="545.0" r="2.8"/><circle cx="907.0" cy="549.0" r="2.8"/><circle cx="904.0" cy="553.0" r="2.8"/><circle cx="901.0" cy="560.0" r="2.8"/><circle cx="916.0" cy="544.0" r="2.8"/><circle cx="906.0" cy="550.0" r="2.8"/><circle cx="912.5" cy="560.5" r="2.8"/><circle cx="913.5" cy="563.0" r="2.8"/><circle cx="914.5" cy="567.8" r="2.8"/><circle cx="913.0" cy="576.0" r="2.8"/><circle cx="762.8" cy="242.4" r="2.8"/><circle cx="963.7" cy="374.3" r="2.8"/><circle cx="698.6" cy="437.6" r="2.8"/><circle cx="1059.8" cy="665.2" r="2.8"/><circle cx="499.1" cy="467.8" r="2.8"/><circle cx="933.2" cy="675.1" r="2.8"/><circle cx="1002.9" cy="653.3" r="2.8"/><circle cx="957.2" cy="660.2" r="2.8"/><circle cx="1041.0" cy="681.3" r="2.8"/><circle cx="1058.4" cy="693.2" r="2.8"/><circle cx="968.7" cy="694.1" r="2.8"/><circle cx="960.3" cy="718.9" r="2.8"/><circle cx="908.5" cy="707.7" r="2.8"/><circle cx="487.7" cy="351.3" r="2.8"/><circle cx="1015.7" cy="656.9" r="2.8"/><circle cx="434.3" cy="527.5" r="2.8"/><circle cx="1025.0" cy="638.5" r="2.8"/><circle cx="1045.2" cy="653.9" r="2.8"/><circle cx="694.0" cy="464.3" r="2.8"/><circle cx="731.5" cy="174.5" r="2.8"/><circle cx="998.3" cy="628.5" r="2.8"/><circle cx="511.9" cy="444.7" r="2.8"/><circle cx="964.3" cy="368.9" r="2.8"/><circle cx="653.4" cy="693.4" r="2.8"/><circle cx="449.6" cy="569.1" r="2.8"/><circle cx="514.6" cy="519.0" r="2.8"/><circle cx="571.6" cy="473.0" r="2.8"/><circle cx="378.0" cy="746.0" r="2.8"/><circle cx="909.2" cy="736.1" r="2.8"/><circle cx="585.3" cy="223.9" r="2.8"/><circle cx="780.1" cy="308.3" r="2.8"/><circle cx="943.2" cy="374.5" r="2.8"/><circle cx="1037.4" cy="643.8" r="2.8"/><circle cx="917.9" cy="538.3" r="2.8"/><circle cx="950.1" cy="377.3" r="2.8"/><circle cx="1038.1" cy="655.1" r="2.8"/><circle cx="967.8" cy="373.7" r="2.8"/><circle cx="699.9" cy="446.5" r="2.8"/><circle cx="1036.4" cy="714.6" r="2.8"/><circle cx="1003.0" cy="724.6" r="2.8"/><circle cx="1015.7" cy="766.0" r="2.8"/><circle cx="680.0" cy="453.9" r="2.8"/><circle cx="711.3" cy="148.4" r="2.8"/><circle cx="968.1" cy="673.4" r="2.8"/><circle cx="805.9" cy="240.9" r="2.8"/><circle cx="1039.5" cy="742.1" r="2.8"/><circle cx="503.6" cy="529.5" r="2.8"/><circle cx="709.5" cy="177.7" r="2.8"/><circle cx="570.5" cy="226.3" r="2.8"/><circle cx="395.4" cy="385.4" r="2.8"/><circle cx="1008.4" cy="725.8" r="2.8"/><circle cx="984.2" cy="725.9" r="2.8"/><circle cx="678.0" cy="115.9" r="2.8"/><circle cx="1025.5" cy="722.5" r="2.8"/><circle cx="1028.6" cy="722.9" r="2.8"/><circle cx="198.1" cy="544.7" r="2.8"/><circle cx="402.6" cy="393.8" r="2.8"/><circle cx="170.8" cy="538.2" r="2.8"/><circle cx="720.3" cy="159.3" r="2.8"/><circle cx="744.7" cy="238.2" r="2.8"/><circle cx="907.5" cy="549.4" r="2.8"/><circle cx="220.4" cy="574.7" r="2.8"/><circle cx="690.2" cy="182.4" r="2.8"/><circle cx="971.2" cy="702.6" r="2.8"/><circle cx="805.7" cy="278.9" r="2.8"/><circle cx="598.2" cy="388.7" r="2.8"/><circle cx="702.3" cy="437.6" r="2.8"/><circle cx="940.4" cy="360.9" r="2.8"/><circle cx="944.9" cy="696.9" r="2.8"/><circle cx="713.8" cy="152.5" r="2.8"/><circle cx="994.6" cy="758.6" r="2.8"/><circle cx="1033.3" cy="668.2" r="2.8"/><circle cx="1017.0" cy="653.3" r="2.8"/><circle cx="825.5" cy="219.4" r="2.8"/><circle cx="689.9" cy="113.7" r="2.8"/><circle cx="928.7" cy="783.6" r="2.8"/><circle cx="626.1" cy="421.9" r="2.8"/><circle cx="1023.6" cy="641.5" r="2.8"/><circle cx="1034.3" cy="656.8" r="2.8"/><circle cx="172.7" cy="523.8" r="2.8"/><circle cx="991.2" cy="652.5" r="2.8"/><circle cx="794.4" cy="214.6" r="2.8"/><circle cx="993.4" cy="647.7" r="2.8"/><circle cx="674.6" cy="119.6" r="2.8"/><circle cx="947.7" cy="365.2" r="2.8"/><circle cx="634.5" cy="705.2" r="2.8"/><circle cx="999.0" cy="720.6" r="2.8"/><circle cx="732.4" cy="235.8" r="2.8"/><circle cx="994.2" cy="727.0" r="2.8"/><circle cx="1018.6" cy="701.2" r="2.8"/><circle cx="1045.7" cy="669.4" r="2.8"/><circle cx="320.3" cy="793.5" r="2.8"/><circle cx="996.9" cy="708.0" r="2.8"/><circle cx="860.1" cy="364.8" r="2.8"/><circle cx="945.8" cy="375.3" r="2.8"/><circle cx="1026.7" cy="738.1" r="2.8"/><circle cx="979.8" cy="662.5" r="2.8"/><circle cx="1024.1" cy="682.3" r="2.8"/><circle cx="1009.4" cy="648.1" r="2.8"/><circle cx="1000.2" cy="686.5" r="2.8"/><circle cx="841.0" cy="286.5" r="2.8"/><circle cx="807.9" cy="238.0" r="2.8"/><circle cx="960.2" cy="373.0" r="2.8"/><circle cx="1012.9" cy="651.4" r="2.8"/><circle cx="599.4" cy="658.4" r="2.8"/><circle cx="712.4" cy="174.1" r="2.8"/><circle cx="1026.6" cy="735.5" r="2.8"/><circle cx="1017.6" cy="658.6" r="2.8"/><circle cx="1031.2" cy="640.9" r="2.8"/><circle cx="1008.1" cy="720.4" r="2.8"/><circle cx="989.2" cy="674.5" r="2.8"/><circle cx="1039.1" cy="736.7" r="2.8"/><circle cx="1007.3" cy="669.9" r="2.8"/><circle cx="992.5" cy="696.8" r="2.8"/><circle cx="948.5" cy="381.4" r="2.8"/><circle cx="944.7" cy="364.9" r="2.8"/><circle cx="941.6" cy="697.1" r="2.8"/><circle cx="987.5" cy="663.8" r="2.8"/><circle cx="550.0" cy="230.8" r="2.8"/><circle cx="981.9" cy="687.0" r="2.8"/><circle cx="562.4" cy="768.2" r="2.8"/><circle cx="1040.0" cy="706.5" r="2.8"/><circle cx="702.5" cy="427.4" r="2.8"/><circle cx="670.8" cy="178.1" r="2.8"/><circle cx="1037.7" cy="652.1" r="2.8"/><circle cx="737.9" cy="198.8" r="2.8"/><circle cx="818.2" cy="287.2" r="2.8"/><circle cx="500.4" cy="545.0" r="2.8"/><circle cx="770.6" cy="220.0" r="2.8"/><circle cx="988.2" cy="684.1" r="2.8"/><circle cx="994.4" cy="723.1" r="2.8"/><circle cx="356.3" cy="812.8" r="2.8"/><circle cx="722.0" cy="184.0" r="2.8"/><circle cx="708.8" cy="446.3" r="2.8"/><circle cx="1059.3" cy="683.0" r="2.8"/><circle cx="979.1" cy="724.9" r="2.8"/><circle cx="1028.4" cy="702.2" r="2.8"/><circle cx="1047.4" cy="717.2" r="2.8"/><circle cx="667.9" cy="127.9" r="2.8"/><circle cx="960.7" cy="690.1" r="2.8"/><circle cx="821.5" cy="221.2" r="2.8"/><circle cx="721.9" cy="139.8" r="2.8"/><circle cx="1046.2" cy="721.9" r="2.8"/><circle cx="1039.7" cy="660.2" r="2.8"/><circle cx="666.8" cy="455.5" r="2.8"/><circle cx="966.1" cy="363.9" r="2.8"/><circle cx="1001.4" cy="649.6" r="2.8"/><circle cx="719.5" cy="124.5" r="2.8"/><circle cx="690.4" cy="172.8" r="2.8"/><circle cx="298.4" cy="829.5" r="2.8"/><circle cx="1033.9" cy="643.6" r="2.8"/><circle cx="1036.4" cy="718.9" r="2.8"/>
</g>
<g fill="#855bf2">
<circle cx="946.8" cy="724.2" r="2.8"/><circle cx="389.0" cy="409.7" r="2.8"/><circle cx="940.2" cy="364.7" r="2.8"/><circle cx="967.6" cy="372.7" r="2.8"/><circle cx="641.8" cy="685.8" r="2.8"/><circle cx="912.5" cy="539.0" r="2.8"/><circle cx="1006.1" cy="691.5" r="2.8"/><circle cx="964.0" cy="376.2" r="2.8"/><circle cx="659.8" cy="120.2" r="2.8"/><circle cx="161.7" cy="558.4" r="2.8"/><circle cx="364.0" cy="730.8" r="2.8"/><circle cx="1032.6" cy="722.9" r="2.8"/><circle cx="556.5" cy="776.1" r="2.8"/><circle cx="1007.6" cy="677.0" r="2.8"/><circle cx="863.4" cy="363.2" r="2.8"/><circle cx="965.4" cy="691.7" r="2.8"/><circle cx="385.8" cy="397.1" r="2.8"/><circle cx="936.9" cy="366.1" r="2.8"/><circle cx="1059.9" cy="662.3" r="2.8"/><circle cx="690.4" cy="145.7" r="2.8"/><circle cx="829.7" cy="280.5" r="2.8"/><circle cx="971.5" cy="745.4" r="2.8"/><circle cx="738.7" cy="161.2" r="2.8"/><circle cx="1034.5" cy="668.3" r="2.8"/><circle cx="948.0" cy="369.0" r="2.8"/><circle cx="172.9" cy="563.2" r="2.8"/><circle cx="1041.9" cy="645.9" r="2.8"/><circle cx="1011.5" cy="742.6" r="2.8"/><circle cx="956.3" cy="710.6" r="2.8"/><circle cx="407.3" cy="432.9" r="2.8"/><circle cx="424.1" cy="398.6" r="2.8"/><circle cx="710.3" cy="183.1" r="2.8"/><circle cx="767.5" cy="262.1" r="2.8"/><circle cx="604.7" cy="653.3" r="2.8"/><circle cx="1044.1" cy="714.9" r="2.8"/><circle cx="980.4" cy="668.9" r="2.8"/><circle cx="677.1" cy="737.7" r="2.8"/><circle cx="674.8" cy="439.4" r="2.8"/><circle cx="960.3" cy="663.0" r="2.8"/><circle cx="773.0" cy="224.0" r="2.8"/><circle cx="225.3" cy="556.6" r="2.8"/><circle cx="1017.4" cy="644.5" r="2.8"/><circle cx="694.7" cy="448.0" r="2.8"/><circle cx="970.2" cy="373.8" r="2.8"/><circle cx="989.9" cy="688.5" r="2.8"/><circle cx="310.3" cy="831.0" r="2.8"/>
</g>
<g fill="#7c51f4">
<circle cx="1037.1" cy="734.7" r="2.8"/><circle cx="678.3" cy="170.9" r="2.8"/><circle cx="824.1" cy="234.6" r="2.8"/><circle cx="197.6" cy="532.0" r="2.8"/><circle cx="950.4" cy="358.9" r="2.8"/><circle cx="558.5" cy="497.8" r="2.8"/><circle cx="1023.5" cy="662.2" r="2.8"/><circle cx="932.6" cy="753.5" r="2.8"/><circle cx="633.2" cy="682.3" r="2.8"/><circle cx="810.0" cy="217.2" r="2.8"/><circle cx="948.3" cy="379.2" r="2.8"/><circle cx="663.2" cy="121.8" r="2.8"/><circle cx="756.0" cy="215.1" r="2.8"/><circle cx="1028.6" cy="633.1" r="2.8"/><circle cx="1053.2" cy="665.1" r="2.8"/><circle cx="693.9" cy="430.1" r="2.8"/><circle cx="999.4" cy="645.1" r="2.8"/><circle cx="1026.9" cy="672.0" r="2.8"/><circle cx="794.2" cy="260.6" r="2.8"/><circle cx="1057.7" cy="668.0" r="2.8"/><circle cx="1038.9" cy="726.0" r="2.8"/><circle cx="489.1" cy="453.8" r="2.8"/>
</g>
<g fill="#7248f6">
<circle cx="256.1" cy="538.9" r="2.8"/><circle cx="694.5" cy="182.3" r="2.8"/><circle cx="398.8" cy="397.6" r="2.8"/><circle cx="761.1" cy="229.7" r="2.8"/><circle cx="1056.1" cy="657.1" r="2.8"/><circle cx="241.3" cy="549.1" r="2.8"/><circle cx="938.8" cy="359.4" r="2.8"/><circle cx="252.2" cy="533.3" r="2.8"/><circle cx="970.0" cy="725.4" r="2.8"/><circle cx="725.6" cy="124.1" r="2.8"/><circle cx="480.0" cy="350.4" r="2.8"/><circle cx="500.8" cy="562.3" r="2.8"/><circle cx="726.1" cy="134.7" r="2.8"/><circle cx="984.4" cy="641.2" r="2.8"/><circle cx="675.2" cy="714.6" r="2.8"/><circle cx="707.1" cy="472.5" r="2.8"/><circle cx="545.9" cy="212.9" r="2.8"/><circle cx="171.7" cy="518.3" r="2.8"/><circle cx="684.8" cy="113.3" r="2.8"/><circle cx="962.9" cy="733.8" r="2.8"/><circle cx="1018.4" cy="669.0" r="2.8"/><circle cx="767.9" cy="203.9" r="2.8"/><circle cx="1015.2" cy="690.3" r="2.8"/><circle cx="1013.4" cy="724.6" r="2.8"/><circle cx="963.0" cy="731.8" r="2.8"/><circle cx="557.2" cy="474.6" r="2.8"/><circle cx="628.8" cy="666.3" r="2.8"/><circle cx="1050.3" cy="713.1" r="2.8"/><circle cx="1009.2" cy="660.4" r="2.8"/><circle cx="1025.6" cy="744.9" r="2.8"/><circle cx="665.0" cy="445.0" r="2.8"/><circle cx="691.8" cy="188.3" r="2.8"/><circle cx="1014.8" cy="738.0" r="2.8"/><circle cx="556.1" cy="229.0" r="2.8"/><circle cx="1004.6" cy="640.0" r="2.8"/>
</g>
<g fill="#673df8">
<circle cx="933.9" cy="358.8" r="2.8"/><circle cx="730.4" cy="138.3" r="2.8"/><circle cx="729.6" cy="127.4" r="2.8"/><circle cx="668.0" cy="123.8" r="2.8"/><circle cx="713.0" cy="145.8" r="2.8"/><circle cx="650.0" cy="245.0" r="2.8"/><circle cx="670.4" cy="244.0" r="2.8"/><circle cx="558.0" cy="213.6" r="2.8"/><circle cx="577.6" cy="224.4" r="2.8"/><circle cx="541.0" cy="246.4" r="2.8"/><circle cx="543.4" cy="253.0" r="2.8"/><circle cx="936.0" cy="368.0" r="2.8"/><circle cx="487.6" cy="361.0" r="2.8"/><circle cx="729.5" cy="597.8" r="2.8"/><circle cx="730.2" cy="600.0" r="2.8"/><circle cx="220.8" cy="517.0" r="2.8"/><circle cx="657.4" cy="981.6" r="2.8"/><circle cx="534.3" cy="1005.2" r="2.8"/><circle cx="436.8" cy="1045.2" r="2.8"/><circle cx="438.0" cy="1044.2" r="2.8"/><circle cx="439.2" cy="1043.3" r="2.8"/><circle cx="920.8" cy="534.5" r="2.8"/><circle cx="909.0" cy="544.0" r="2.8"/><circle cx="235.7" cy="553.9" r="2.8"/><circle cx="1021.6" cy="654.0" r="2.8"/>
</g>
<g fill="#5932fa">
<circle cx="1027.8" cy="727.4" r="2.8"/><circle cx="750.4" cy="188.3" r="2.8"/><circle cx="747.3" cy="206.7" r="2.8"/><circle cx="784.4" cy="306.7" r="2.8"/><circle cx="970.7" cy="372.7" r="2.8"/><circle cx="703.2" cy="469.2" r="2.8"/><circle cx="913.5" cy="540.0" r="2.8"/>
</g>
<g fill="#4926fb">
<circle cx="701.3" cy="443.1" r="2.8"/><circle cx="1030.8" cy="686.3" r="2.8"/><circle cx="1022.5" cy="750.0" r="2.8"/><circle cx="710.6" cy="174.2" r="2.8"/><circle cx="936.7" cy="372.7" r="2.8"/><circle cx="459.4" cy="563.0" r="2.8"/><circle cx="1001.7" cy="691.3" r="2.8"/><circle cx="635.6" cy="701.6" r="2.8"/><circle cx="969.3" cy="368.3" r="2.8"/>
</g>
<g fill="#3318fd">
<circle cx="582.0" cy="746.4" r="2.8"/>
</g>
<g fill="#0000ff">
<circle cx="694.1" cy="133.9" r="2.8"/><circle cx="813.3" cy="225.3" r="2.8"/><circle cx="925.8" cy="768.3" r="2.8"/>
</g>
</g>
<g stroke="#000" fill="none">
<path d="M95.5 50.8V1121" stroke-width="3"/>
<path d="M94 1119.5H1118" stroke-width="3"/>
<g stroke-width="2.8">
<path d="M90.5 277H95M90.5 571H95M90.5 865H95"/>
<path d="M142 1120V1125M307 1120V1125M637 1120V1125M472 1120V1125M802 1120V1125M967 1120V1125"/>
</g></g>
<text class="ti" x="606.3" y="37" text-anchor="middle">Cdc42se2</text>
<g class="ax" text-anchor="end">
<text x="89.5" y="287.5">10</text>
<text x="89.5" y="581.5">0</text>
<text x="89.5" y="875.5">-10</text>
</g>
<g class="ax" text-anchor="middle">
<text x="142" y="1148">-15</text>
<text x="307" y="1148">-10</text>
<text x="472" y="1148">-5</text>
<text x="637" y="1148">0</text>
<text x="802" y="1148">5</text>
<text x="967" y="1148">10</text>
</g>
<text class="at" x="604" y="1180.8" text-anchor="middle">umapNC_1</text>
<text class="at" transform="translate(34,586) rotate(-90)" text-anchor="middle">umapNC_2</text>
<rect x="1130" y="547.5" width="15.5" height="76" fill="url(#lg)"/>
<g stroke="#fff" stroke-width="0.8" stroke-opacity="0.7"><path d="M1130 565.3h3M1142.5 565.3h3M1130 584.7h3M1142.5 584.7h3M1130 604.2h3M1142.5 604.2h3"/></g>
<g class="lg">
<text x="1153.4" y="575.2">1.5</text>
<text x="1153.4" y="594.6">1.0</text>
<text x="1153.4" y="614">0.5</text>
<text x="1153.4" y="633.4">0.0</text>
</g>
</svg></body></html>
